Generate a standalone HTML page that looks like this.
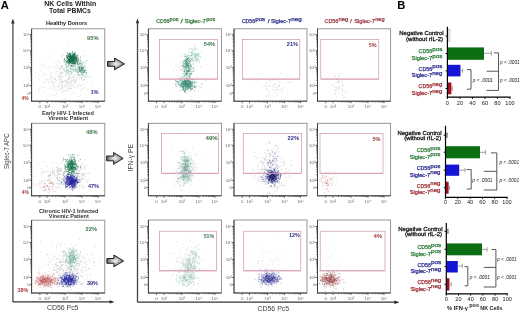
<!DOCTYPE html>
<html><head><meta charset="utf-8"><style>
html,body{margin:0;padding:0;background:#fff;width:520px;height:312px;overflow:hidden}
svg{display:block;will-change:transform;font-family:"Liberation Sans", sans-serif}
</style></head><body>
<svg width="520" height="312" viewBox="0 0 520 312">
<defs><radialGradient id="ag" cx="0.5" cy="0.5" r="0.55">
<stop offset="0" stop-color="#f8f8f8"/><stop offset="0.5" stop-color="#aaaaaa"/><stop offset="1" stop-color="#484848"/></radialGradient><filter id="bl" x="-5%" y="-5%" width="110%" height="110%"><feGaussianBlur stdDeviation="0.35"/></filter></defs>
<rect width="520" height="312" fill="#fff"/>
<text x="0.80" y="9.30" font-size="11.2" fill="#000" font-weight="bold" >A</text>
<text x="44.20" y="6.30" font-size="7" fill="#222" font-weight="bold" textLength="52.00" lengthAdjust="spacingAndGlyphs" >NK Cells Within</text>
<text x="49.10" y="12.90" font-size="7" fill="#222" font-weight="bold" textLength="41.80" lengthAdjust="spacingAndGlyphs" >Total PBMCs</text>
<text x="46.00" y="25.10" font-size="5.6" fill="#222" font-weight="bold" textLength="41.20" lengthAdjust="spacingAndGlyphs" >Healthy Donors</text>
<text x="42.00" y="114.60" font-size="5.6" fill="#333" font-weight="bold" textLength="51.80" lengthAdjust="spacingAndGlyphs" >Early HIV-1 Infected</text>
<text x="48.20" y="120.30" font-size="5.6" fill="#333" font-weight="bold" textLength="40.00" lengthAdjust="spacingAndGlyphs" >Viremic Patient</text>
<text x="38.90" y="212.70" font-size="5.6" fill="#333" font-weight="bold" textLength="59.60" lengthAdjust="spacingAndGlyphs" >Chronic HIV-1 Infected</text>
<text x="48.80" y="218.30" font-size="5.6" fill="#333" font-weight="bold" textLength="40.00" lengthAdjust="spacingAndGlyphs" >Viremic Patient</text>
<line x1="12.90" y1="21.50" x2="12.90" y2="301.90" stroke="#555" stroke-width="1.35" />
<line x1="12.90" y1="301.90" x2="110.50" y2="301.90" stroke="#333" stroke-width="1.3" />
<path d="M11.1 23.4L12.9 18.6L14.7 23.4Z" fill="#333"/>
<path d="M109.6 300.2L114.6 301.9L109.6 303.6Z" fill="#222"/>
<text transform="translate(8.6,169) rotate(-90)" x="0" y="0" font-size="6.3" fill="#444" textLength="35.5" lengthAdjust="spacingAndGlyphs">Siglec-7 APC</text>
<text x="46.90" y="310.30" font-size="7.1" fill="#444" textLength="31.60" lengthAdjust="spacingAndGlyphs" >CD56 Pc5</text>
<text x="39.80" y="108.20" font-size="4.4" fill="#666" text-anchor="middle" >0</text>
<text x="47.10" y="108.20" font-size="4.4" fill="#666" text-anchor="middle" >10²</text>
<text x="65.10" y="108.20" font-size="4.4" fill="#666" text-anchor="middle" >10³</text>
<text x="82.10" y="108.20" font-size="4.4" fill="#666" text-anchor="middle" >10⁴</text>
<text x="98.10" y="108.20" font-size="4.4" fill="#666" text-anchor="middle" >10⁵</text>
<text x="29.60" y="94.50" font-size="4.4" fill="#666" text-anchor="end" >0</text>
<text x="29.60" y="87.20" font-size="4.4" fill="#666" text-anchor="end" >10²</text>
<text x="29.60" y="69.20" font-size="4.4" fill="#666" text-anchor="end" >10³</text>
<text x="29.60" y="52.20" font-size="4.4" fill="#666" text-anchor="end" >10⁴</text>
<text x="29.60" y="36.20" font-size="4.4" fill="#666" text-anchor="end" >10⁵</text>
<path d="M39.80 101.20v2.0M31.60 93.00h-2.0M47.10 101.20v2.0M31.60 85.70h-2.0M52.52 101.20v1.2M31.60 80.28h-1.2M55.69 101.20v1.2M31.60 77.11h-1.2M57.94 101.20v1.2M31.60 74.86h-1.2M59.68 101.20v1.2M31.60 73.12h-1.2M61.11 101.20v1.2M31.60 71.69h-1.2M62.31 101.20v1.2M31.60 70.49h-1.2M63.36 101.20v1.2M31.60 69.44h-1.2M64.28 101.20v1.2M31.60 68.52h-1.2M65.10 101.20v2.0M31.60 67.70h-2.0M70.22 101.20v1.2M31.60 62.58h-1.2M73.21 101.20v1.2M31.60 59.59h-1.2M75.34 101.20v1.2M31.60 57.46h-1.2M76.98 101.20v1.2M31.60 55.82h-1.2M78.33 101.20v1.2M31.60 54.47h-1.2M79.47 101.20v1.2M31.60 53.33h-1.2M80.45 101.20v1.2M31.60 52.35h-1.2M81.32 101.20v1.2M31.60 51.48h-1.2M82.10 101.20v2.0M31.60 50.70h-2.0M86.92 101.20v1.2M31.60 45.88h-1.2M89.73 101.20v1.2M31.60 43.07h-1.2M91.73 101.20v1.2M31.60 41.07h-1.2M93.28 101.20v1.2M31.60 39.52h-1.2M94.55 101.20v1.2M31.60 38.25h-1.2M95.62 101.20v1.2M31.60 37.18h-1.2M96.55 101.20v1.2M31.60 36.25h-1.2M97.37 101.20v1.2M31.60 35.43h-1.2M98.10 101.20v2.0M31.60 34.70h-2.0" stroke="#333" stroke-width="0.75" fill="none"/>
<rect x="31.60" y="28.80" width="73.20" height="72.40" fill="none" stroke="#8a8a8a" stroke-width="0.9" />
<line x1="31.60" y1="28.80" x2="31.60" y2="101.50" stroke="#3a3a3a" stroke-width="0.95" />
<line x1="31.30" y1="101.20" x2="104.80" y2="101.20" stroke="#3a3a3a" stroke-width="0.95" />
<text x="39.80" y="202.80" font-size="4.4" fill="#666" text-anchor="middle" >0</text>
<text x="47.10" y="202.80" font-size="4.4" fill="#666" text-anchor="middle" >10²</text>
<text x="65.10" y="202.80" font-size="4.4" fill="#666" text-anchor="middle" >10³</text>
<text x="82.10" y="202.80" font-size="4.4" fill="#666" text-anchor="middle" >10⁴</text>
<text x="98.10" y="202.80" font-size="4.4" fill="#666" text-anchor="middle" >10⁵</text>
<text x="29.60" y="189.10" font-size="4.4" fill="#666" text-anchor="end" >0</text>
<text x="29.60" y="181.80" font-size="4.4" fill="#666" text-anchor="end" >10²</text>
<text x="29.60" y="163.80" font-size="4.4" fill="#666" text-anchor="end" >10³</text>
<text x="29.60" y="146.80" font-size="4.4" fill="#666" text-anchor="end" >10⁴</text>
<text x="29.60" y="130.80" font-size="4.4" fill="#666" text-anchor="end" >10⁵</text>
<path d="M39.80 195.80v2.0M31.60 187.60h-2.0M47.10 195.80v2.0M31.60 180.30h-2.0M52.52 195.80v1.2M31.60 174.88h-1.2M55.69 195.80v1.2M31.60 171.71h-1.2M57.94 195.80v1.2M31.60 169.46h-1.2M59.68 195.80v1.2M31.60 167.72h-1.2M61.11 195.80v1.2M31.60 166.29h-1.2M62.31 195.80v1.2M31.60 165.09h-1.2M63.36 195.80v1.2M31.60 164.04h-1.2M64.28 195.80v1.2M31.60 163.12h-1.2M65.10 195.80v2.0M31.60 162.30h-2.0M70.22 195.80v1.2M31.60 157.18h-1.2M73.21 195.80v1.2M31.60 154.19h-1.2M75.34 195.80v1.2M31.60 152.06h-1.2M76.98 195.80v1.2M31.60 150.42h-1.2M78.33 195.80v1.2M31.60 149.07h-1.2M79.47 195.80v1.2M31.60 147.93h-1.2M80.45 195.80v1.2M31.60 146.95h-1.2M81.32 195.80v1.2M31.60 146.08h-1.2M82.10 195.80v2.0M31.60 145.30h-2.0M86.92 195.80v1.2M31.60 140.48h-1.2M89.73 195.80v1.2M31.60 137.67h-1.2M91.73 195.80v1.2M31.60 135.67h-1.2M93.28 195.80v1.2M31.60 134.12h-1.2M94.55 195.80v1.2M31.60 132.85h-1.2M95.62 195.80v1.2M31.60 131.78h-1.2M96.55 195.80v1.2M31.60 130.85h-1.2M97.37 195.80v1.2M31.60 130.03h-1.2M98.10 195.80v2.0M31.60 129.30h-2.0" stroke="#333" stroke-width="0.75" fill="none"/>
<rect x="31.60" y="123.30" width="73.20" height="72.50" fill="none" stroke="#8a8a8a" stroke-width="0.9" />
<line x1="31.60" y1="123.30" x2="31.60" y2="196.10" stroke="#3a3a3a" stroke-width="0.95" />
<line x1="31.30" y1="195.80" x2="104.80" y2="195.80" stroke="#3a3a3a" stroke-width="0.95" />
<text x="39.80" y="300.00" font-size="4.4" fill="#666" text-anchor="middle" >0</text>
<text x="47.10" y="300.00" font-size="4.4" fill="#666" text-anchor="middle" >10²</text>
<text x="65.10" y="300.00" font-size="4.4" fill="#666" text-anchor="middle" >10³</text>
<text x="82.10" y="300.00" font-size="4.4" fill="#666" text-anchor="middle" >10⁴</text>
<text x="98.10" y="300.00" font-size="4.4" fill="#666" text-anchor="middle" >10⁵</text>
<text x="29.60" y="286.30" font-size="4.4" fill="#666" text-anchor="end" >0</text>
<text x="29.60" y="279.00" font-size="4.4" fill="#666" text-anchor="end" >10²</text>
<text x="29.60" y="261.00" font-size="4.4" fill="#666" text-anchor="end" >10³</text>
<text x="29.60" y="244.00" font-size="4.4" fill="#666" text-anchor="end" >10⁴</text>
<text x="29.60" y="228.00" font-size="4.4" fill="#666" text-anchor="end" >10⁵</text>
<path d="M39.80 293.00v2.0M31.60 284.80h-2.0M47.10 293.00v2.0M31.60 277.50h-2.0M52.52 293.00v1.2M31.60 272.08h-1.2M55.69 293.00v1.2M31.60 268.91h-1.2M57.94 293.00v1.2M31.60 266.66h-1.2M59.68 293.00v1.2M31.60 264.92h-1.2M61.11 293.00v1.2M31.60 263.49h-1.2M62.31 293.00v1.2M31.60 262.29h-1.2M63.36 293.00v1.2M31.60 261.24h-1.2M64.28 293.00v1.2M31.60 260.32h-1.2M65.10 293.00v2.0M31.60 259.50h-2.0M70.22 293.00v1.2M31.60 254.38h-1.2M73.21 293.00v1.2M31.60 251.39h-1.2M75.34 293.00v1.2M31.60 249.26h-1.2M76.98 293.00v1.2M31.60 247.62h-1.2M78.33 293.00v1.2M31.60 246.27h-1.2M79.47 293.00v1.2M31.60 245.13h-1.2M80.45 293.00v1.2M31.60 244.15h-1.2M81.32 293.00v1.2M31.60 243.28h-1.2M82.10 293.00v2.0M31.60 242.50h-2.0M86.92 293.00v1.2M31.60 237.68h-1.2M89.73 293.00v1.2M31.60 234.87h-1.2M91.73 293.00v1.2M31.60 232.87h-1.2M93.28 293.00v1.2M31.60 231.32h-1.2M94.55 293.00v1.2M31.60 230.05h-1.2M95.62 293.00v1.2M31.60 228.98h-1.2M96.55 293.00v1.2M31.60 228.05h-1.2M97.37 293.00v1.2M31.60 227.23h-1.2M98.10 293.00v2.0M31.60 226.50h-2.0" stroke="#333" stroke-width="0.75" fill="none"/>
<rect x="31.60" y="220.20" width="73.20" height="72.80" fill="none" stroke="#8a8a8a" stroke-width="0.9" />
<line x1="31.60" y1="220.20" x2="31.60" y2="293.30" stroke="#3a3a3a" stroke-width="0.95" />
<line x1="31.30" y1="293.00" x2="104.80" y2="293.00" stroke="#3a3a3a" stroke-width="0.95" />
<g filter="url(#bl)">
<path d="M58.9 84.6h0.9M75.3 83.8h0.9M42.0 87.7h0.9M51.3 75.8h0.9M65.7 83.5h0.9M54.6 73.3h0.9M56.6 71.4h0.9M67.1 66.6h0.9M60.7 72.6h0.9M70.0 88.5h0.9M69.4 74.5h0.9M77.5 61.7h0.9M39.2 57.3h0.9M75.2 81.4h0.9M68.2 84.9h0.9M38.3 74.3h0.9M46.3 94.5h0.9M63.4 90.3h0.9M51.4 88.5h0.9M60.2 77.3h0.9M52.6 85.7h0.9M63.8 85.2h0.9M71.2 85.1h0.9M61.8 88.3h0.9M48.5 82.2h0.9M65.4 75.3h0.9M59.3 79.4h0.9M61.2 88.6h0.9M57.9 85.6h0.9M70.2 66.6h0.9M71.6 81.3h0.9M94.9 69.7h0.9M64.7 85.7h0.9M49.7 66.8h0.9M62.0 69.7h0.9M73.9 78.4h0.9M66.8 83.7h0.9M79.4 78.4h0.9M79.1 77.6h0.9M65.8 74.5h0.9M61.3 89.4h0.9M39.5 70.2h0.9M59.7 79.7h0.9M68.4 89.0h0.9M42.2 74.6h0.9M64.0 69.4h0.9M51.2 73.1h0.9M33.7 83.0h0.9M35.2 72.1h0.9M70.0 82.9h0.9M72.8 91.8h0.9M68.7 88.1h0.9M61.6 78.2h0.9M51.8 72.4h0.9M69.5 84.3h0.9M38.7 89.3h0.9M45.2 74.0h0.9M87.4 89.3h0.9M83.9 87.3h0.9M61.3 84.7h0.9M69.7 81.9h0.9M54.5 80.0h0.9M60.4 68.7h0.9M67.4 71.3h0.9M49.0 56.3h0.9M52.8 84.7h0.9M61.7 85.4h0.9M60.2 86.6h0.9M57.9 87.9h0.9M66.3 90.2h0.9M64.5 80.5h0.9M62.1 66.8h0.9M68.8 79.5h0.9M75.1 72.1h0.9M39.2 79.5h0.9M54.4 67.4h0.9M80.0 90.5h0.9M61.0 80.0h0.9M59.6 77.2h0.9M60.9 74.0h0.9M44.0 81.8h0.9M67.5 85.5h0.9M70.8 82.6h0.9M48.7 79.0h0.9M89.9 77.1h0.9M53.0 82.2h0.9M71.2 88.5h0.9M76.2 70.8h0.9M76.0 80.2h0.9M52.7 95.8h0.9M79.0 73.7h0.9M78.0 79.9h0.9M80.3 90.2h0.9M54.2 79.6h0.9M43.9 65.4h0.9M60.5 70.2h0.9M67.6 77.9h0.9M71.2 79.0h0.9" stroke="#a0a0a0" stroke-opacity="0.38" stroke-width="0.9" fill="none"/>
<path d="M59.3 77.2h0.9M74.4 82.2h0.9M68.1 84.5h0.9M65.7 79.6h0.9M54.1 95.5h0.9M57.9 79.0h0.9M55.8 91.0h0.9M62.6 91.8h0.9M68.0 79.4h0.9M79.3 83.3h0.9M56.6 68.6h0.9M44.5 82.2h0.9M66.3 73.4h0.9M64.9 83.9h0.9M43.2 91.5h0.9M72.1 63.7h0.9M68.6 78.6h0.9M54.1 76.3h0.9M79.6 76.0h0.9M78.9 70.8h0.9M75.5 87.7h0.9M59.9 82.5h0.9M86.1 82.9h0.9M58.0 83.5h0.9M66.8 82.1h0.9M91.2 83.2h0.9M72.3 93.4h0.9M75.1 55.9h0.9M64.1 90.8h0.9M60.9 93.8h0.9M73.0 77.6h0.9M43.7 66.4h0.9M77.2 86.7h0.9M71.2 94.3h0.9M38.3 92.7h0.9M80.0 70.8h0.9M53.1 89.2h0.9M34.4 76.5h0.9M61.9 87.5h0.9M79.9 94.5h0.9M38.4 89.6h0.9M54.9 82.1h0.9M59.6 68.7h0.9M74.1 87.1h0.9M43.2 74.2h0.9M43.6 78.9h0.9M54.3 62.5h0.9M65.5 75.9h0.9M78.0 85.9h0.9M58.4 75.8h0.9M50.9 86.2h0.9M51.1 79.2h0.9M49.8 76.8h0.9M94.0 90.3h0.9M82.2 83.8h0.9M65.9 73.7h0.9M65.5 81.7h0.9M47.7 67.9h0.9M51.5 82.3h0.9M53.3 78.9h0.9M58.1 87.1h0.9M60.7 81.4h0.9M67.1 89.5h0.9M39.2 80.5h0.9M49.5 94.2h0.9M68.0 81.6h0.9M81.9 88.7h0.9M58.4 89.6h0.9M76.9 78.1h0.9M73.8 80.1h0.9M71.4 80.2h0.9M59.1 86.2h0.9M56.8 61.9h0.9M59.2 67.2h0.9M59.8 63.6h0.9M69.6 64.1h0.9M62.4 82.2h0.9M46.3 75.5h0.9M67.9 65.7h0.9M61.2 73.2h0.9M59.9 55.5h0.9M63.8 67.6h0.9M61.6 72.3h0.9M53.3 67.8h0.9M56.1 80.9h0.9M75.2 81.1h0.9M68.1 78.6h0.9M65.0 99.1h0.9M52.3 82.3h0.9M82.0 80.2h0.9M70.1 75.7h0.9M53.9 87.3h0.9M41.0 96.1h0.9M76.1 75.9h0.9M62.3 67.1h0.9M51.2 81.4h0.9M56.3 73.7h0.9" stroke="#a0a0a0" stroke-opacity="0.38" stroke-width="0.9" fill="none"/>
<path d="M50.8 78.1h0.9M66.7 81.7h0.9M41.7 64.3h0.9M68.3 74.2h0.9M68.7 90.8h0.9M69.6 82.2h0.9M52.3 82.2h0.9M37.8 77.1h0.9M44.4 87.5h0.9M63.4 68.3h0.9M50.4 75.2h0.9M79.3 85.2h0.9M48.6 88.8h0.9M81.1 85.6h0.9M73.5 84.8h0.9M59.8 89.2h0.9M65.9 85.8h0.9M74.5 80.2h0.9M45.4 78.8h0.9M77.1 68.6h0.9M66.1 81.3h0.9M68.9 80.0h0.9M56.9 76.6h0.9M84.0 56.9h0.9M56.8 85.9h0.9M55.3 79.1h0.9M74.1 69.5h0.9M41.6 76.8h0.9M75.1 67.0h0.9M60.2 81.7h0.9M74.6 77.4h0.9M63.6 86.3h0.9M69.4 71.3h0.9M79.7 71.6h0.9M51.3 94.0h0.9M60.8 74.6h0.9M75.6 93.4h0.9M63.4 81.1h0.9M39.8 87.4h0.9M62.9 91.9h0.9M53.9 87.9h0.9M47.2 79.9h0.9M83.5 80.4h0.9M55.3 89.7h0.9M62.1 87.2h0.9M73.1 74.9h0.9M47.8 83.3h0.9M70.7 77.5h0.9M71.4 86.7h0.9M67.4 61.2h0.9M85.3 64.2h0.9M84.6 78.9h0.9M65.5 87.4h0.9M72.7 80.9h0.9M69.6 56.7h0.9M61.2 84.7h0.9M77.9 96.3h0.9M57.2 71.2h0.9M82.4 88.9h0.9M36.1 73.3h0.9M67.5 83.4h0.9M62.6 72.6h0.9M62.0 81.6h0.9M67.2 78.3h0.9M50.8 86.7h0.9M57.4 67.7h0.9M79.8 86.4h0.9M74.3 70.3h0.9M69.2 88.2h0.9M48.0 81.7h0.9M72.2 84.9h0.9M49.3 74.3h0.9M53.8 85.1h0.9M83.9 84.6h0.9M71.4 88.4h0.9M40.1 70.4h0.9M69.6 86.3h0.9M49.3 70.3h0.9M47.1 79.8h0.9M70.4 83.2h0.9M50.2 80.3h0.9M59.0 77.2h0.9M60.3 79.4h0.9M57.5 73.3h0.9M68.3 76.3h0.9M75.4 58.6h0.9M65.9 91.5h0.9M68.1 70.3h0.9M59.3 80.2h0.9M69.0 86.4h0.9M65.2 76.1h0.9M53.7 86.5h0.9M61.4 82.8h0.9M62.0 87.1h0.9M78.4 69.1h0.9M61.3 77.2h0.9M61.1 82.8h0.9M56.2 94.1h0.9M50.8 76.8h0.9" stroke="#a0a0a0" stroke-opacity="0.38" stroke-width="0.9" fill="none"/>
<path d="M71.8 70.1h0.9M86.8 55.8h0.9M68.6 69.2h0.9M70.0 60.8h0.9M74.5 68.8h0.9M72.7 63.8h0.9M81.2 63.7h0.9M75.4 62.9h0.9M75.4 56.5h0.9M61.0 65.7h0.9M62.7 69.0h0.9M66.9 63.0h0.9M71.7 68.5h0.9M69.3 66.5h0.9M75.1 62.5h0.9M69.6 68.2h0.9M63.2 55.1h0.9M68.4 63.4h0.9M75.1 66.0h0.9M65.9 81.2h0.9M62.6 54.4h0.9M71.2 68.5h0.9M67.7 46.3h0.9M70.0 65.5h0.9M70.2 67.4h0.9M74.0 66.1h0.9M76.5 69.1h0.9M71.2 66.1h0.9M72.1 67.5h0.9M67.5 71.1h0.9M68.0 71.4h0.9M71.2 66.5h0.9M66.5 70.0h0.9M73.2 57.7h0.9M67.6 72.2h0.9M70.0 69.2h0.9M83.3 55.1h0.9M68.4 60.7h0.9M69.9 55.4h0.9M64.7 64.6h0.9M77.1 77.2h0.9M65.7 66.8h0.9M59.0 68.8h0.9M72.8 69.6h0.9M74.4 62.1h0.9M63.1 62.3h0.9M69.7 75.1h0.9M68.3 63.5h0.9M72.6 68.1h0.9M74.8 74.9h0.9M67.0 74.2h0.9M67.4 70.0h0.9M60.1 72.1h0.9M77.6 67.7h0.9M65.1 72.2h0.9M75.4 71.4h0.9M85.3 61.3h0.9" stroke="#5aa88c" stroke-opacity="0.42" stroke-width="0.9" fill="none"/>
<path d="M73.4 79.6h0.9M66.9 68.0h0.9M70.3 71.6h0.9M63.7 70.8h0.9M73.0 66.4h0.9M69.4 71.5h0.9M70.9 66.1h0.9M69.9 66.9h0.9M74.5 66.2h0.9M79.0 63.6h0.9M80.2 69.6h0.9M73.2 70.3h0.9M62.2 65.8h0.9M67.9 73.3h0.9M70.4 71.5h0.9M61.0 67.1h0.9M70.2 68.6h0.9M72.9 57.6h0.9M71.9 63.1h0.9M66.1 67.1h0.9M73.6 71.8h0.9M75.6 69.2h0.9M74.9 64.8h0.9M67.0 62.0h0.9M69.0 72.5h0.9M63.1 75.7h0.9M60.6 76.7h0.9M60.7 72.8h0.9M74.1 64.8h0.9M78.0 64.8h0.9M80.1 67.2h0.9M70.7 73.8h0.9M63.7 70.0h0.9M74.6 57.7h0.9M70.5 64.6h0.9M77.4 68.6h0.9M69.8 69.5h0.9M70.6 73.2h0.9M68.4 64.4h0.9M69.7 63.0h0.9M65.3 64.5h0.9M73.1 58.8h0.9M77.2 55.8h0.9M77.8 65.7h0.9M69.3 77.4h0.9M71.2 72.6h0.9M67.7 63.7h0.9M68.5 70.7h0.9M64.0 71.6h0.9M65.9 69.6h0.9M66.1 71.9h0.9M69.4 63.0h0.9M59.7 73.9h0.9M61.7 56.8h0.9M73.0 70.9h0.9M75.3 52.3h0.9M68.0 67.2h0.9" stroke="#5aa88c" stroke-opacity="0.42" stroke-width="0.9" fill="none"/>
<path d="M65.8 67.1h0.9M70.9 69.4h0.9M58.6 61.7h0.9M66.1 70.8h0.9M61.5 66.8h0.9M64.7 70.8h0.9M79.2 68.9h0.9M59.3 75.6h0.9M72.7 69.2h0.9M63.9 58.8h0.9M71.5 80.4h0.9M63.9 60.0h0.9M66.7 69.8h0.9M78.3 64.8h0.9M79.1 64.7h0.9M65.9 69.2h0.9M66.7 72.3h0.9M65.9 66.9h0.9M71.8 77.0h0.9M71.0 73.1h0.9M73.7 82.8h0.9M80.0 59.6h0.9M75.5 79.9h0.9M66.2 70.8h0.9M73.0 66.1h0.9M72.8 61.3h0.9M72.0 72.3h0.9M70.2 65.3h0.9M69.8 54.2h0.9M69.3 76.5h0.9M77.4 62.7h0.9M84.3 63.0h0.9M73.4 65.3h0.9M65.8 63.7h0.9M73.3 76.5h0.9M62.3 81.9h0.9M75.8 71.0h0.9M63.5 60.8h0.9M72.7 62.8h0.9M70.1 71.5h0.9M55.1 78.4h0.9M72.8 66.8h0.9M74.8 68.3h0.9M75.2 64.5h0.9M72.7 66.1h0.9M72.6 70.1h0.9M75.3 67.4h0.9M72.1 59.7h0.9M68.3 65.0h0.9M64.7 80.9h0.9M83.3 51.8h0.9M82.9 67.5h0.9M66.5 67.9h0.9M77.1 71.4h0.9M56.4 65.2h0.9M71.0 70.0h0.9" stroke="#5aa88c" stroke-opacity="0.42" stroke-width="0.9" fill="none"/>
<path d="M83.3 68.4h0.9M81.4 67.5h0.9M81.5 73.6h0.9M80.1 62.4h0.9M81.7 68.5h0.9M78.0 72.3h0.9M84.6 70.7h0.9M79.4 70.6h0.9M83.4 72.1h0.9M80.5 63.8h0.9M82.3 69.4h0.9M83.5 79.6h0.9M82.4 61.9h0.9M82.7 68.3h0.9M81.5 72.7h0.9M84.2 77.2h0.9M83.4 72.9h0.9M76.3 66.4h0.9M81.6 67.3h0.9M79.5 70.8h0.9M76.2 62.1h0.9M82.4 70.4h0.9M82.3 71.9h0.9M82.9 72.1h0.9M78.9 67.1h0.9M84.1 72.9h0.9M84.7 70.4h0.9M84.9 67.7h0.9M79.4 71.5h0.9M82.3 69.3h0.9M81.6 67.9h0.9M81.8 64.4h0.9M80.9 66.1h0.9M78.8 75.1h0.9M78.4 68.7h0.9M82.8 69.5h0.9M80.8 61.3h0.9M81.4 77.8h0.9M76.1 71.3h0.9M79.0 68.7h0.9M81.4 70.7h0.9M81.7 70.2h0.9M84.2 71.9h0.9M85.8 72.9h0.9" stroke="#1e7a52" stroke-opacity="0.5" stroke-width="0.9" fill="none"/>
<path d="M84.0 67.2h0.9M76.8 73.9h0.9M78.5 69.6h0.9M84.2 71.2h0.9M78.3 67.3h0.9M77.6 72.4h0.9M79.1 70.2h0.9M79.8 70.3h0.9M80.3 69.9h0.9M80.1 69.9h0.9M86.4 60.6h0.9M74.5 70.5h0.9M83.2 71.3h0.9M81.6 68.2h0.9M78.7 69.9h0.9M78.6 63.1h0.9M79.4 67.4h0.9M87.5 76.9h0.9M84.4 69.7h0.9M81.0 68.9h0.9M77.7 67.3h0.9M78.9 67.4h0.9M80.7 69.4h0.9M81.6 74.7h0.9M85.0 76.3h0.9M84.1 65.5h0.9M78.8 68.7h0.9M81.1 77.8h0.9M85.2 72.2h0.9M82.1 74.7h0.9M80.2 72.8h0.9M86.0 70.3h0.9M81.2 71.7h0.9M79.3 63.5h0.9M81.8 65.7h0.9M81.3 69.6h0.9M80.9 66.8h0.9M78.3 66.0h0.9M79.3 63.3h0.9M81.9 74.9h0.9M85.7 75.1h0.9M79.7 65.2h0.9M77.9 75.0h0.9" stroke="#1e7a52" stroke-opacity="0.5" stroke-width="0.9" fill="none"/>
<path d="M81.7 68.1h0.9M81.8 68.0h0.9M82.4 71.9h0.9M81.0 69.0h0.9M79.4 67.8h0.9M78.4 71.3h0.9M81.4 63.8h0.9M82.9 72.8h0.9M80.3 68.9h0.9M78.5 69.9h0.9M80.5 63.4h0.9M82.3 68.9h0.9M81.1 67.9h0.9M75.2 69.9h0.9M82.6 70.5h0.9M83.2 75.5h0.9M83.3 66.7h0.9M79.2 67.4h0.9M78.2 74.7h0.9M81.8 67.5h0.9M80.9 70.2h0.9M75.5 69.4h0.9M83.4 70.1h0.9M79.5 68.7h0.9M81.1 72.0h0.9M79.3 71.6h0.9M79.3 66.9h0.9M84.1 71.2h0.9M84.3 70.4h0.9M77.3 69.8h0.9M86.2 72.3h0.9M80.9 66.0h0.9M81.1 71.0h0.9M80.5 67.3h0.9M80.6 75.1h0.9M80.9 72.6h0.9M82.7 67.8h0.9M77.3 61.4h0.9M77.1 72.2h0.9M86.0 73.7h0.9M80.2 71.6h0.9M79.6 64.4h0.9M83.3 63.1h0.9" stroke="#1e7a52" stroke-opacity="0.5" stroke-width="0.9" fill="none"/>
<path d="M77.3 55.7h0.9M74.4 55.0h0.9M72.5 59.7h0.9M73.6 59.3h0.9M74.7 58.3h0.9M67.1 60.8h0.9M72.3 58.1h0.9M72.1 51.6h0.9M72.8 61.9h0.9M71.1 60.8h0.9M75.8 61.3h0.9M69.2 60.6h0.9M72.1 61.0h0.9M71.8 62.0h0.9M70.1 61.0h0.9M73.0 61.5h0.9M73.0 57.7h0.9M72.4 60.3h0.9M70.6 60.5h0.9M73.7 60.6h0.9M72.8 62.6h0.9M67.5 61.8h0.9M73.9 61.9h0.9M67.3 57.0h0.9M72.2 54.9h0.9M70.0 62.5h0.9M70.0 57.5h0.9M68.6 53.4h0.9M63.9 59.5h0.9M74.7 57.8h0.9M67.5 58.7h0.9M72.6 63.0h0.9M70.9 59.7h0.9M67.7 61.0h0.9M74.7 57.8h0.9M74.8 62.4h0.9M72.6 65.9h0.9M69.2 59.4h0.9M72.8 57.3h0.9M76.0 59.1h0.9M67.9 60.7h0.9M76.4 60.8h0.9M71.2 58.7h0.9M72.7 59.9h0.9M75.6 56.3h0.9M68.6 54.0h0.9M67.0 58.1h0.9M71.7 60.5h0.9M68.2 59.2h0.9M68.0 59.7h0.9M72.6 58.7h0.9M68.8 53.3h0.9M72.1 58.6h0.9M69.4 61.3h0.9M68.4 60.6h0.9M69.3 58.9h0.9M70.3 61.1h0.9M75.8 60.1h0.9M73.3 59.1h0.9M74.7 57.0h0.9M70.7 57.3h0.9M71.8 59.7h0.9M73.7 54.7h0.9M70.3 61.6h0.9M72.9 59.3h0.9M74.3 59.2h0.9M70.4 59.7h0.9M75.7 59.1h0.9M71.9 59.4h0.9M76.1 60.4h0.9M68.5 55.9h0.9M71.4 58.6h0.9M69.8 63.0h0.9M69.0 61.6h0.9M68.9 61.9h0.9M76.1 57.4h0.9M70.0 54.2h0.9M69.6 57.6h0.9M66.7 55.6h0.9M68.2 60.7h0.9M73.6 54.0h0.9M69.0 53.5h0.9M72.9 63.3h0.9M69.6 59.4h0.9M75.8 61.6h0.9M74.1 56.8h0.9M73.3 62.8h0.9M72.0 59.7h0.9M71.9 57.5h0.9M79.8 60.7h0.9M72.0 56.2h0.9M71.5 59.8h0.9M66.2 57.1h0.9M69.2 57.4h0.9M67.1 53.8h0.9M80.0 57.2h0.9M76.5 55.6h0.9M66.6 52.7h0.9M70.5 57.0h0.9M71.4 60.4h0.9M71.3 58.6h0.9M72.7 65.2h0.9M76.8 62.6h0.9M72.9 56.2h0.9M70.7 55.7h0.9M72.7 60.8h0.9M69.0 64.3h0.9M70.6 57.4h0.9M65.8 65.2h0.9M72.3 58.4h0.9M72.4 56.7h0.9M72.7 61.7h0.9M73.5 63.2h0.9M69.0 57.0h0.9M72.9 55.7h0.9M71.3 58.1h0.9M71.0 59.0h0.9M73.6 63.7h0.9M74.9 59.1h0.9M73.8 54.1h0.9M76.8 61.1h0.9M70.9 58.9h0.9M71.5 64.0h0.9M75.3 59.4h0.9M74.5 55.9h0.9M71.2 60.4h0.9M73.7 61.8h0.9M69.3 60.8h0.9M71.9 56.6h0.9M73.6 53.4h0.9M77.8 57.4h0.9M70.5 58.8h0.9M76.3 58.1h0.9M72.1 58.5h0.9" stroke="#1a704a" stroke-opacity="0.75" stroke-width="0.9" fill="none"/>
<path d="M73.0 60.1h0.9M68.0 55.2h0.9M71.6 57.2h0.9M70.6 63.2h0.9M73.8 56.0h0.9M69.0 62.5h0.9M72.2 57.5h0.9M74.8 59.1h0.9M68.5 63.2h0.9M70.5 56.0h0.9M69.9 54.5h0.9M72.4 58.3h0.9M74.2 57.1h0.9M66.9 58.1h0.9M74.5 63.3h0.9M72.0 55.5h0.9M72.4 61.1h0.9M71.5 61.4h0.9M76.0 58.3h0.9M76.5 58.5h0.9M73.0 60.1h0.9M70.4 56.0h0.9M67.7 61.5h0.9M69.7 59.9h0.9M74.0 55.7h0.9M73.9 60.6h0.9M68.8 60.4h0.9M73.2 62.6h0.9M74.9 59.8h0.9M74.4 61.1h0.9M73.1 56.1h0.9M67.8 61.9h0.9M71.1 61.7h0.9M70.2 60.7h0.9M72.5 63.8h0.9M73.0 55.4h0.9M69.1 62.1h0.9M70.1 58.6h0.9M70.0 60.4h0.9M71.1 61.0h0.9M70.1 56.8h0.9M75.6 56.4h0.9M78.4 59.5h0.9M72.0 63.6h0.9M74.4 63.9h0.9M72.8 54.0h0.9M66.1 61.1h0.9M70.5 59.0h0.9M66.1 57.7h0.9M68.8 54.5h0.9M68.9 56.1h0.9M67.7 65.7h0.9M70.7 55.3h0.9M66.8 58.3h0.9M72.6 57.0h0.9M63.9 58.7h0.9M70.4 62.4h0.9M74.1 56.8h0.9M74.9 57.2h0.9M68.6 56.5h0.9M70.0 56.4h0.9M72.5 53.1h0.9M69.5 58.2h0.9M67.4 54.1h0.9M72.9 55.7h0.9M66.0 55.5h0.9M70.3 57.5h0.9M76.8 63.9h0.9M71.1 57.0h0.9M70.2 53.8h0.9M65.2 60.5h0.9M75.5 59.4h0.9M74.3 63.6h0.9M67.6 60.5h0.9M69.5 57.0h0.9M69.4 58.1h0.9M69.6 62.2h0.9M66.2 61.5h0.9M72.3 56.9h0.9M73.9 53.8h0.9M69.5 58.1h0.9M70.8 59.9h0.9M73.4 58.2h0.9M71.4 63.5h0.9M71.8 57.1h0.9M67.8 59.5h0.9M69.1 61.6h0.9M74.2 59.0h0.9M69.4 57.6h0.9M73.7 56.7h0.9M76.0 57.5h0.9M72.0 60.6h0.9M64.9 60.7h0.9M76.7 63.7h0.9M70.1 56.6h0.9M71.6 59.7h0.9M72.0 58.3h0.9M73.0 59.5h0.9M67.5 56.5h0.9M69.8 59.2h0.9M71.1 57.3h0.9M75.4 54.8h0.9M73.7 55.8h0.9M70.4 57.9h0.9M75.0 63.3h0.9M72.8 56.9h0.9M77.4 63.9h0.9M69.2 59.3h0.9M77.9 58.9h0.9M71.2 56.8h0.9M71.6 59.1h0.9M73.2 58.0h0.9M71.1 57.3h0.9M71.2 60.8h0.9M71.8 60.0h0.9M72.4 56.7h0.9M74.2 57.4h0.9M70.4 60.2h0.9M68.3 60.1h0.9M69.6 62.8h0.9M74.6 58.1h0.9M73.5 58.6h0.9M72.7 59.2h0.9M68.5 57.5h0.9M72.9 59.4h0.9M70.2 59.8h0.9M71.5 57.4h0.9M73.3 56.2h0.9M71.7 61.4h0.9M73.7 54.2h0.9M71.5 61.8h0.9M68.5 60.3h0.9M75.2 57.5h0.9" stroke="#1a704a" stroke-opacity="0.75" stroke-width="0.9" fill="none"/>
<path d="M72.1 59.5h0.9M69.9 57.4h0.9M70.3 61.6h0.9M69.8 60.8h0.9M74.3 59.5h0.9M69.6 58.6h0.9M73.4 59.0h0.9M66.5 59.3h0.9M71.1 65.5h0.9M74.6 61.4h0.9M69.7 57.2h0.9M72.0 58.6h0.9M67.3 62.9h0.9M71.6 55.1h0.9M69.1 55.2h0.9M73.7 61.1h0.9M69.9 54.0h0.9M69.9 58.8h0.9M77.3 63.1h0.9M71.2 56.1h0.9M70.9 59.5h0.9M69.4 56.8h0.9M74.0 57.4h0.9M70.5 53.5h0.9M69.6 56.7h0.9M72.4 54.8h0.9M69.4 57.1h0.9M72.0 56.4h0.9M74.1 63.0h0.9M67.2 57.9h0.9M65.7 62.5h0.9M77.3 64.4h0.9M74.4 59.2h0.9M72.2 63.4h0.9M70.0 60.2h0.9M68.0 59.7h0.9M73.7 54.5h0.9M72.8 56.8h0.9M69.9 59.8h0.9M70.5 61.9h0.9M76.5 56.7h0.9M74.9 62.9h0.9M70.3 57.3h0.9M70.6 60.3h0.9M67.7 56.0h0.9M72.9 62.9h0.9M69.4 58.3h0.9M70.0 59.3h0.9M76.9 59.2h0.9M69.4 61.0h0.9M75.3 59.7h0.9M68.3 58.8h0.9M68.6 63.6h0.9M72.2 61.8h0.9M72.8 56.6h0.9M68.7 55.1h0.9M68.3 55.5h0.9M73.8 59.7h0.9M68.8 55.0h0.9M70.3 55.6h0.9M71.6 57.8h0.9M70.0 56.9h0.9M70.6 61.7h0.9M74.9 60.2h0.9M74.2 57.6h0.9M74.7 58.6h0.9M71.8 59.4h0.9M76.3 61.9h0.9M71.3 57.3h0.9M71.4 57.9h0.9M71.3 66.0h0.9M72.0 58.0h0.9M70.5 59.1h0.9M74.6 62.8h0.9M67.8 62.1h0.9M78.5 61.7h0.9M76.7 58.3h0.9M68.5 61.9h0.9M73.7 59.0h0.9M76.6 60.3h0.9M74.5 55.1h0.9M66.8 57.4h0.9M68.2 56.5h0.9M72.3 56.1h0.9M66.3 56.2h0.9M72.2 60.6h0.9M68.7 60.9h0.9M74.6 61.4h0.9M70.9 58.9h0.9M69.5 58.1h0.9M74.5 52.7h0.9M72.3 59.4h0.9M72.4 58.5h0.9M71.3 62.5h0.9M69.9 59.5h0.9M71.4 61.5h0.9M72.5 54.9h0.9M71.7 52.6h0.9M73.5 60.5h0.9M71.6 60.5h0.9M77.8 60.4h0.9M73.4 61.3h0.9M69.1 59.7h0.9M71.7 59.9h0.9M71.2 61.8h0.9M73.1 61.7h0.9M77.1 61.0h0.9M71.4 60.8h0.9M73.4 60.3h0.9M72.0 58.9h0.9M73.2 56.1h0.9M70.1 58.4h0.9M72.6 59.6h0.9M68.2 56.3h0.9M71.2 56.3h0.9M74.6 54.5h0.9M73.0 57.5h0.9M68.9 61.6h0.9M74.7 61.9h0.9M68.1 62.1h0.9M68.1 58.7h0.9M72.0 60.1h0.9M70.9 57.3h0.9M71.1 57.8h0.9M68.2 59.1h0.9M66.8 56.1h0.9M74.5 53.4h0.9M66.2 62.9h0.9M64.2 62.0h0.9M74.7 60.1h0.9M69.7 57.1h0.9M73.0 59.2h0.9M73.6 53.8h0.9" stroke="#1a704a" stroke-opacity="0.75" stroke-width="0.9" fill="none"/>
<path d="M57.1 171.1h0.9M56.4 171.8h0.9M57.1 186.9h0.9M61.4 184.9h0.9M59.7 183.9h0.9M71.8 166.7h0.9M48.3 178.5h0.9M65.6 185.4h0.9M68.7 171.5h0.9M57.2 189.2h0.9M74.0 179.0h0.9M82.0 172.7h0.9M45.6 165.6h0.9M63.8 166.9h0.9M63.8 175.5h0.9M51.8 172.4h0.9M50.3 178.6h0.9M55.1 180.7h0.9M67.1 182.2h0.9M72.3 172.6h0.9M39.4 183.8h0.9M81.1 169.4h0.9M58.3 168.7h0.9M56.5 167.3h0.9M40.9 168.6h0.9M74.0 175.8h0.9M85.2 174.0h0.9M78.7 154.0h0.9M48.8 175.3h0.9M56.6 187.5h0.9M59.1 171.4h0.9M63.3 172.2h0.9M46.5 166.5h0.9M60.6 168.7h0.9M53.3 172.3h0.9M36.6 165.9h0.9M84.4 169.4h0.9M38.7 163.8h0.9M61.3 170.5h0.9M63.3 180.9h0.9M57.5 174.5h0.9M79.0 186.5h0.9M63.3 178.1h0.9M70.9 179.5h0.9M65.4 171.6h0.9M70.7 195.0h0.9M60.5 170.0h0.9M56.5 172.5h0.9M60.4 189.6h0.9M59.1 178.2h0.9M74.9 182.5h0.9M59.8 181.3h0.9M80.4 168.5h0.9M80.8 178.2h0.9M60.2 170.3h0.9M82.9 187.7h0.9M67.2 180.5h0.9M58.1 172.2h0.9M46.3 180.8h0.9M62.2 178.3h0.9M79.3 185.1h0.9M58.9 168.5h0.9M74.9 173.2h0.9M53.9 169.7h0.9M68.6 174.2h0.9M61.9 186.0h0.9M73.5 178.7h0.9M58.2 164.5h0.9M73.3 173.1h0.9M51.9 188.7h0.9M52.1 170.8h0.9M57.8 180.2h0.9M57.4 177.3h0.9M64.6 176.5h0.9M78.3 174.7h0.9M61.5 175.7h0.9M57.8 171.0h0.9M68.4 170.3h0.9M73.3 188.2h0.9M67.8 169.7h0.9M63.2 178.3h0.9M86.9 165.2h0.9M58.7 174.4h0.9M65.9 177.2h0.9M75.7 162.8h0.9M50.5 175.2h0.9M68.9 173.3h0.9M64.7 179.2h0.9M84.5 159.8h0.9M55.7 166.2h0.9M56.9 170.6h0.9M57.3 168.1h0.9M50.2 180.9h0.9M74.7 169.6h0.9M54.0 174.8h0.9M73.9 182.3h0.9M40.8 181.9h0.9M82.2 175.2h0.9M78.0 173.4h0.9M64.0 183.7h0.9M59.7 167.9h0.9M84.1 168.0h0.9M53.5 162.5h0.9M62.4 173.7h0.9M83.7 187.9h0.9" stroke="#909090" stroke-opacity="0.4" stroke-width="0.9" fill="none"/>
<path d="M58.8 170.2h0.9M50.3 174.9h0.9M74.7 183.4h0.9M56.4 175.0h0.9M60.9 181.8h0.9M47.3 171.1h0.9M52.8 170.1h0.9M51.2 183.1h0.9M49.9 172.8h0.9M65.4 178.5h0.9M44.8 180.8h0.9M69.1 182.0h0.9M69.3 167.3h0.9M67.1 163.7h0.9M64.6 165.4h0.9M68.1 160.1h0.9M61.3 169.4h0.9M68.4 160.8h0.9M72.6 184.3h0.9M75.7 163.3h0.9M66.7 176.2h0.9M52.9 184.4h0.9M72.4 180.5h0.9M76.5 174.0h0.9M41.3 173.2h0.9M57.2 175.7h0.9M72.6 170.6h0.9M65.9 180.7h0.9M60.7 174.2h0.9M73.2 176.2h0.9M47.8 176.1h0.9M52.0 172.3h0.9M68.9 178.9h0.9M64.8 176.5h0.9M67.6 181.5h0.9M51.7 178.4h0.9M47.5 180.1h0.9M52.8 191.7h0.9M33.7 176.5h0.9M54.1 191.2h0.9M58.1 180.0h0.9M51.4 174.3h0.9M57.7 180.8h0.9M57.4 169.7h0.9M66.2 172.4h0.9M51.4 186.2h0.9M54.4 175.8h0.9M75.9 169.7h0.9M67.3 173.1h0.9M49.8 183.8h0.9M73.4 190.0h0.9M53.9 183.2h0.9M76.4 185.0h0.9M80.7 165.3h0.9M57.2 169.6h0.9M69.4 169.9h0.9M61.1 163.4h0.9M59.2 183.4h0.9M71.3 167.2h0.9M62.7 176.3h0.9M73.0 167.3h0.9M69.6 193.2h0.9M62.7 161.0h0.9M79.7 170.8h0.9M80.5 180.1h0.9M63.3 173.6h0.9M79.8 173.8h0.9M56.2 178.8h0.9M63.7 181.9h0.9M55.4 191.8h0.9M43.6 172.0h0.9M65.3 161.0h0.9M72.1 178.4h0.9M56.9 184.0h0.9M83.0 175.3h0.9M73.8 181.9h0.9M78.1 170.4h0.9M63.2 180.4h0.9M69.7 186.5h0.9M72.6 164.5h0.9M52.7 183.4h0.9M47.6 171.4h0.9M48.9 176.3h0.9M60.3 171.6h0.9M55.7 177.9h0.9M65.9 167.8h0.9M56.2 183.3h0.9M59.3 184.3h0.9M57.0 184.0h0.9M79.2 173.4h0.9M58.5 186.0h0.9M49.2 189.9h0.9M78.2 182.0h0.9M51.9 172.8h0.9M81.2 186.3h0.9M47.8 176.7h0.9M58.8 174.3h0.9M44.9 172.0h0.9M81.1 185.0h0.9M64.0 171.7h0.9M79.0 177.0h0.9M75.8 168.8h0.9M72.8 187.5h0.9M71.3 181.4h0.9M58.6 173.8h0.9M58.8 170.5h0.9" stroke="#909090" stroke-opacity="0.4" stroke-width="0.9" fill="none"/>
<path d="M36.7 171.2h0.9M72.4 174.0h0.9M76.9 173.4h0.9M67.5 179.0h0.9M75.8 181.3h0.9M68.7 188.0h0.9M59.7 181.5h0.9M74.2 176.6h0.9M71.9 169.8h0.9M69.6 179.6h0.9M52.2 185.6h0.9M61.6 162.8h0.9M68.4 173.9h0.9M53.8 171.1h0.9M51.2 182.5h0.9M50.0 176.0h0.9M58.5 174.3h0.9M70.8 174.6h0.9M50.1 172.3h0.9M48.6 174.9h0.9M45.7 191.7h0.9M50.5 182.0h0.9M47.4 180.1h0.9M68.0 182.1h0.9M77.5 168.5h0.9M68.5 181.5h0.9M51.8 168.1h0.9M45.1 183.4h0.9M71.7 167.1h0.9M61.3 187.5h0.9M68.1 179.2h0.9M40.9 173.9h0.9M64.4 169.0h0.9M84.1 186.1h0.9M86.8 181.7h0.9M63.0 178.4h0.9M67.1 169.8h0.9M63.5 183.9h0.9M41.8 177.4h0.9M72.8 174.8h0.9M59.4 177.7h0.9M66.5 182.1h0.9M73.5 186.4h0.9M41.6 181.3h0.9M41.3 190.1h0.9M56.9 177.2h0.9M56.9 180.4h0.9M48.0 175.2h0.9M53.6 173.2h0.9M55.4 186.6h0.9M61.7 178.8h0.9M60.5 184.0h0.9M69.5 180.8h0.9M48.0 182.1h0.9M57.8 172.3h0.9M66.3 176.6h0.9M73.0 177.7h0.9M61.1 170.0h0.9M73.5 164.0h0.9M71.6 177.8h0.9M63.0 172.6h0.9M62.0 179.4h0.9M61.4 161.0h0.9M50.1 180.2h0.9M56.6 162.2h0.9M54.2 174.3h0.9M60.6 180.0h0.9M50.0 175.2h0.9M72.7 184.0h0.9M71.6 186.4h0.9M70.5 180.4h0.9M69.1 187.8h0.9M58.3 179.7h0.9M79.5 182.4h0.9M55.9 178.1h0.9M43.5 162.5h0.9M83.4 178.4h0.9M78.5 160.9h0.9M59.4 180.5h0.9M47.6 187.1h0.9M71.0 164.7h0.9M68.6 181.6h0.9M33.3 183.4h0.9M62.8 175.4h0.9M59.3 187.5h0.9M51.7 163.1h0.9M52.8 173.1h0.9M88.8 172.9h0.9M64.6 173.4h0.9M76.1 173.3h0.9M70.6 176.9h0.9M52.0 183.6h0.9M68.7 179.3h0.9M62.9 179.6h0.9M65.3 186.3h0.9M59.1 177.7h0.9M63.3 172.1h0.9M57.3 179.1h0.9M63.7 173.3h0.9M65.3 182.6h0.9M73.7 168.6h0.9M51.9 187.4h0.9M60.7 156.6h0.9M42.4 171.6h0.9" stroke="#909090" stroke-opacity="0.4" stroke-width="0.9" fill="none"/>
<path d="M47.9 189.1h0.9M52.9 189.4h0.9M44.0 187.1h0.9M46.8 185.8h0.9M46.4 185.2h0.9M43.1 186.3h0.9M50.0 187.2h0.9M48.3 188.5h0.9M52.6 186.1h0.9M48.7 186.5h0.9M45.5 189.9h0.9M38.0 184.1h0.9M43.4 187.9h0.9M43.2 190.8h0.9" stroke="#b84848" stroke-opacity="0.45" stroke-width="0.9" fill="none"/>
<path d="M49.5 182.6h0.9M48.5 189.5h0.9M50.4 183.4h0.9M44.4 187.4h0.9M49.8 191.0h0.9M48.8 183.5h0.9M48.2 192.2h0.9M39.6 186.8h0.9M45.5 186.5h0.9M44.1 183.9h0.9M33.7 184.7h0.9M52.0 182.3h0.9M48.9 180.2h0.9" stroke="#b84848" stroke-opacity="0.45" stroke-width="0.9" fill="none"/>
<path d="M46.8 186.4h0.9M44.1 190.4h0.9M42.6 180.9h0.9M35.8 185.9h0.9M43.9 183.3h0.9M50.8 183.0h0.9M44.7 185.5h0.9M42.4 187.8h0.9M45.1 189.5h0.9M47.3 186.0h0.9M41.2 182.8h0.9M53.0 184.3h0.9" stroke="#b84848" stroke-opacity="0.45" stroke-width="0.9" fill="none"/>
<path d="M70.8 160.9h0.9M73.5 167.4h0.9M71.1 169.1h0.9M67.9 167.4h0.9M70.2 169.5h0.9M74.5 163.3h0.9M67.8 171.8h0.9M72.9 164.0h0.9M70.4 163.1h0.9M69.8 163.7h0.9M73.2 157.8h0.9M74.0 161.7h0.9M69.2 162.5h0.9M75.0 167.7h0.9M70.5 166.2h0.9M67.4 161.5h0.9M71.1 164.1h0.9M66.9 163.9h0.9M69.8 158.9h0.9M68.7 167.0h0.9M66.7 167.0h0.9M71.1 164.1h0.9M69.2 165.1h0.9M70.5 156.3h0.9M74.5 165.4h0.9M68.1 174.3h0.9M66.1 171.0h0.9M75.0 164.0h0.9M71.2 168.9h0.9M71.8 171.5h0.9M71.1 158.0h0.9M73.4 171.5h0.9M72.6 174.6h0.9M77.4 155.5h0.9M77.6 166.6h0.9M70.5 164.3h0.9M71.8 165.9h0.9M68.8 165.9h0.9M68.5 174.1h0.9M73.0 171.9h0.9M68.9 170.0h0.9M74.6 161.3h0.9M74.4 167.4h0.9M69.3 160.2h0.9M74.4 161.1h0.9M68.8 168.8h0.9M65.7 159.8h0.9M71.5 168.0h0.9M70.1 162.4h0.9M76.0 166.0h0.9M71.4 172.0h0.9M66.9 165.0h0.9M71.7 171.8h0.9M67.6 165.3h0.9M67.4 165.2h0.9M66.8 167.5h0.9M66.8 171.5h0.9M73.2 168.4h0.9M62.9 174.9h0.9M71.1 163.6h0.9M69.1 168.8h0.9M72.8 167.0h0.9M71.7 164.4h0.9M72.1 160.2h0.9M70.4 162.5h0.9M68.0 169.7h0.9M67.9 170.6h0.9M67.5 165.2h0.9M67.8 167.1h0.9M67.8 167.8h0.9M70.3 166.7h0.9M72.6 168.1h0.9M71.1 160.5h0.9M75.3 168.2h0.9M72.2 164.3h0.9M70.6 169.3h0.9M67.9 165.7h0.9M72.4 163.4h0.9M67.6 167.1h0.9M74.3 163.3h0.9M68.6 164.5h0.9M72.3 160.6h0.9M74.0 167.6h0.9M69.4 164.5h0.9M68.9 160.3h0.9M72.8 164.6h0.9M67.2 169.2h0.9M75.3 168.3h0.9M68.7 164.1h0.9M71.9 163.9h0.9M67.9 170.2h0.9M70.6 161.5h0.9M79.9 159.4h0.9M71.0 161.0h0.9M67.9 162.9h0.9M72.2 163.5h0.9M67.0 174.6h0.9M71.1 173.1h0.9M69.7 165.3h0.9M74.5 167.1h0.9M69.2 169.3h0.9M68.2 173.2h0.9M72.1 164.5h0.9M72.9 170.6h0.9M71.5 168.1h0.9M78.2 167.0h0.9M71.6 173.1h0.9M68.5 165.6h0.9M66.7 161.8h0.9M71.9 165.9h0.9M72.2 161.6h0.9M69.9 167.0h0.9M70.1 168.0h0.9M76.3 165.9h0.9M71.0 159.9h0.9M75.0 169.7h0.9M71.0 163.7h0.9M73.7 159.3h0.9M72.7 163.4h0.9M76.2 164.5h0.9" stroke="#1e7a52" stroke-opacity="0.7" stroke-width="0.9" fill="none"/>
<path d="M69.2 163.0h0.9M67.0 177.5h0.9M70.1 167.9h0.9M68.7 164.5h0.9M70.4 160.6h0.9M72.6 167.3h0.9M65.6 169.8h0.9M71.0 166.9h0.9M69.4 167.7h0.9M70.2 155.0h0.9M70.1 168.0h0.9M72.8 164.6h0.9M69.8 162.5h0.9M69.2 170.3h0.9M74.4 163.5h0.9M70.4 167.7h0.9M72.2 161.8h0.9M68.8 163.7h0.9M71.4 162.4h0.9M63.9 164.5h0.9M71.4 162.0h0.9M72.6 166.4h0.9M73.7 164.5h0.9M71.4 166.9h0.9M69.2 163.0h0.9M74.8 170.4h0.9M74.6 168.0h0.9M71.4 169.2h0.9M71.2 159.8h0.9M74.3 173.1h0.9M70.5 169.8h0.9M68.3 163.3h0.9M67.7 171.8h0.9M70.8 166.9h0.9M73.9 171.7h0.9M67.4 174.1h0.9M71.5 173.6h0.9M69.7 166.9h0.9M73.5 169.4h0.9M73.9 171.6h0.9M73.4 164.1h0.9M70.7 168.7h0.9M67.8 169.0h0.9M67.4 164.5h0.9M68.9 168.2h0.9M69.6 167.3h0.9M70.9 171.9h0.9M73.9 159.7h0.9M68.7 161.7h0.9M73.2 161.9h0.9M70.9 161.8h0.9M69.8 162.6h0.9M70.4 175.4h0.9M71.3 168.3h0.9M71.9 163.1h0.9M74.0 157.9h0.9M71.6 164.0h0.9M72.2 161.1h0.9M69.9 161.6h0.9M69.8 162.3h0.9M70.6 166.6h0.9M70.5 162.6h0.9M67.1 159.6h0.9M70.4 166.9h0.9M67.4 169.4h0.9M72.7 164.7h0.9M70.4 167.4h0.9M75.1 161.8h0.9M72.7 162.2h0.9M65.4 165.4h0.9M69.4 161.1h0.9M75.9 169.7h0.9M75.3 168.2h0.9M67.5 168.8h0.9M69.2 170.5h0.9M70.1 169.0h0.9M73.4 167.2h0.9M71.3 167.3h0.9M68.5 163.9h0.9M73.5 167.2h0.9M70.2 173.6h0.9M64.3 168.8h0.9M70.4 165.0h0.9M74.4 163.4h0.9M70.4 168.8h0.9M72.1 167.1h0.9M70.7 175.3h0.9M76.5 168.1h0.9M69.4 165.1h0.9M73.6 154.5h0.9M71.6 171.3h0.9M70.4 164.1h0.9M74.4 164.0h0.9M72.2 165.2h0.9M72.4 167.2h0.9M71.7 165.5h0.9M70.5 164.9h0.9M73.3 172.8h0.9M66.0 163.6h0.9M74.5 169.6h0.9M70.1 163.8h0.9M73.4 162.5h0.9M67.3 166.1h0.9M68.1 165.8h0.9M71.4 174.7h0.9M65.7 166.6h0.9M72.3 168.8h0.9M72.0 164.9h0.9M70.7 164.5h0.9M67.6 161.5h0.9M71.4 165.7h0.9M71.2 173.0h0.9M71.7 168.9h0.9M67.5 166.6h0.9M72.3 171.7h0.9M70.0 168.1h0.9M74.3 157.1h0.9M68.3 163.5h0.9M74.6 164.7h0.9M70.9 174.2h0.9" stroke="#1e7a52" stroke-opacity="0.7" stroke-width="0.9" fill="none"/>
<path d="M68.1 164.6h0.9M68.1 166.5h0.9M77.1 166.4h0.9M71.5 167.4h0.9M73.5 164.5h0.9M63.2 159.8h0.9M74.1 168.0h0.9M72.2 168.9h0.9M66.2 160.8h0.9M70.0 165.0h0.9M72.4 170.9h0.9M68.7 172.3h0.9M73.9 167.6h0.9M69.1 164.1h0.9M72.0 165.9h0.9M71.9 168.0h0.9M67.1 164.6h0.9M70.9 162.7h0.9M72.2 154.3h0.9M71.3 166.4h0.9M73.2 165.8h0.9M74.3 167.9h0.9M72.1 168.2h0.9M71.4 162.8h0.9M72.0 161.5h0.9M75.0 168.5h0.9M65.3 171.2h0.9M70.8 170.6h0.9M68.1 179.2h0.9M72.6 163.5h0.9M64.7 166.8h0.9M65.5 161.7h0.9M72.2 163.9h0.9M77.2 173.5h0.9M72.5 167.5h0.9M69.7 157.3h0.9M70.7 164.9h0.9M80.1 167.6h0.9M73.1 169.4h0.9M69.5 166.0h0.9M72.7 177.0h0.9M70.9 167.6h0.9M70.7 166.5h0.9M67.9 154.6h0.9M64.0 171.6h0.9M71.3 166.0h0.9M69.4 168.2h0.9M71.8 165.3h0.9M67.8 176.5h0.9M62.9 158.4h0.9M70.3 161.8h0.9M68.4 162.1h0.9M66.3 167.1h0.9M74.3 163.7h0.9M73.6 173.1h0.9M71.6 165.1h0.9M72.3 168.7h0.9M69.8 166.5h0.9M65.7 167.0h0.9M68.8 165.6h0.9M72.2 171.3h0.9M70.0 168.9h0.9M71.9 170.3h0.9M68.3 167.5h0.9M72.0 162.3h0.9M75.7 164.8h0.9M71.1 161.8h0.9M75.0 166.9h0.9M64.8 167.5h0.9M68.6 159.8h0.9M71.6 158.7h0.9M72.0 167.1h0.9M70.2 161.2h0.9M76.5 165.9h0.9M80.0 166.5h0.9M73.4 161.8h0.9M74.6 160.3h0.9M68.2 165.0h0.9M71.6 163.3h0.9M68.0 165.1h0.9M69.8 172.5h0.9M65.2 169.0h0.9M71.8 164.7h0.9M72.1 161.2h0.9M71.9 163.9h0.9M72.6 155.7h0.9M70.3 163.7h0.9M70.4 169.0h0.9M73.3 164.0h0.9M70.4 166.7h0.9M73.8 168.7h0.9M71.7 164.1h0.9M70.3 169.8h0.9M65.0 166.8h0.9M70.2 175.0h0.9M64.6 159.5h0.9M69.4 170.1h0.9M70.7 167.6h0.9M68.2 163.3h0.9M73.7 170.2h0.9M74.5 175.0h0.9M71.8 167.5h0.9M73.5 169.3h0.9M72.0 170.1h0.9M64.7 165.9h0.9M66.9 163.2h0.9M73.9 166.8h0.9M69.1 164.5h0.9M71.1 171.8h0.9M72.1 162.4h0.9M73.9 164.4h0.9M70.3 163.8h0.9M67.0 176.3h0.9M72.2 156.8h0.9M74.0 159.8h0.9M75.4 164.6h0.9M75.1 162.0h0.9M73.4 159.3h0.9M72.4 165.3h0.9M71.2 168.8h0.9" stroke="#1e7a52" stroke-opacity="0.7" stroke-width="0.9" fill="none"/>
<path d="M68.7 182.1h0.9M66.6 184.8h0.9M69.9 182.2h0.9M73.9 176.9h0.9M72.3 178.6h0.9M67.3 186.1h0.9M70.0 178.4h0.9M76.8 182.9h0.9M72.1 187.7h0.9M74.7 180.5h0.9M70.9 181.5h0.9M71.0 184.3h0.9M65.7 186.3h0.9M63.4 184.1h0.9M66.2 180.9h0.9M76.7 183.5h0.9M75.0 178.4h0.9M77.5 179.7h0.9M66.9 184.6h0.9M67.8 180.6h0.9M65.0 186.8h0.9M65.7 178.9h0.9M72.4 180.3h0.9M70.1 184.3h0.9M73.0 180.8h0.9M68.5 183.3h0.9M65.2 183.3h0.9M71.2 178.1h0.9M66.3 186.6h0.9M71.1 180.6h0.9M70.8 183.7h0.9M66.0 184.3h0.9M67.7 178.1h0.9M69.3 184.0h0.9M67.2 180.8h0.9M74.0 182.7h0.9M67.6 183.7h0.9M73.8 185.1h0.9M70.7 175.9h0.9M69.7 177.5h0.9M70.7 183.6h0.9M72.0 178.8h0.9M75.5 181.6h0.9M65.5 179.7h0.9M69.0 179.5h0.9M72.6 187.0h0.9M74.7 182.1h0.9M68.2 180.0h0.9M76.8 181.4h0.9M69.3 181.7h0.9M69.9 183.1h0.9M67.6 181.2h0.9M66.4 179.8h0.9M70.1 176.8h0.9M70.2 177.3h0.9M73.7 181.4h0.9M72.2 178.4h0.9M61.4 183.1h0.9M72.1 182.5h0.9M77.9 182.4h0.9M70.7 178.6h0.9M72.0 185.4h0.9M70.1 181.7h0.9M66.3 177.1h0.9M73.6 179.9h0.9M66.9 182.6h0.9M70.8 180.5h0.9M71.3 185.8h0.9M70.1 180.9h0.9M72.4 176.1h0.9M76.7 180.7h0.9M71.9 185.9h0.9M71.3 182.0h0.9M73.2 186.5h0.9M76.5 177.2h0.9M66.5 181.4h0.9M68.5 180.8h0.9M73.8 176.7h0.9M69.6 182.1h0.9M70.2 175.7h0.9M71.1 179.8h0.9M72.4 182.2h0.9M67.3 183.8h0.9M76.2 178.5h0.9M65.0 184.1h0.9M71.0 184.0h0.9M75.6 181.0h0.9M71.0 179.1h0.9M76.4 177.1h0.9M72.1 177.9h0.9M68.3 184.3h0.9M63.7 179.8h0.9M72.9 182.6h0.9M68.9 172.6h0.9M70.9 176.5h0.9M71.6 183.7h0.9M67.0 178.8h0.9M69.9 182.8h0.9M70.2 186.6h0.9M69.7 178.5h0.9M71.4 180.8h0.9M69.8 179.4h0.9M68.7 178.1h0.9M74.1 181.2h0.9M77.2 182.0h0.9M74.6 185.5h0.9M71.1 186.8h0.9M71.8 183.5h0.9M71.7 180.8h0.9M69.5 182.1h0.9M69.0 181.7h0.9M68.7 184.1h0.9M70.9 177.6h0.9M74.7 180.2h0.9M73.2 182.7h0.9M68.3 182.3h0.9M74.6 181.2h0.9M74.6 182.0h0.9M67.3 178.8h0.9M72.9 179.3h0.9M72.1 180.8h0.9M72.9 186.2h0.9M78.8 182.1h0.9M61.1 182.0h0.9M74.5 181.5h0.9M68.4 185.2h0.9M75.4 181.5h0.9" stroke="#26269c" stroke-opacity="0.75" stroke-width="0.9" fill="none"/>
<path d="M64.0 181.8h0.9M72.3 177.1h0.9M67.5 176.8h0.9M74.7 181.6h0.9M68.2 179.5h0.9M69.1 179.8h0.9M67.9 176.9h0.9M72.0 183.7h0.9M65.8 177.4h0.9M73.1 181.4h0.9M74.5 187.9h0.9M74.3 183.8h0.9M74.7 178.7h0.9M68.0 184.9h0.9M74.1 179.6h0.9M69.3 178.0h0.9M71.0 180.7h0.9M73.6 184.6h0.9M69.4 179.6h0.9M75.6 180.9h0.9M69.8 177.0h0.9M71.8 178.8h0.9M70.9 179.7h0.9M79.0 179.9h0.9M69.5 184.4h0.9M73.5 181.0h0.9M67.4 177.5h0.9M66.6 179.9h0.9M68.4 181.0h0.9M72.9 178.1h0.9M74.7 183.1h0.9M73.1 183.2h0.9M71.5 178.5h0.9M72.0 178.9h0.9M67.7 175.9h0.9M64.7 181.4h0.9M70.1 187.2h0.9M71.1 178.0h0.9M67.1 176.5h0.9M70.8 182.6h0.9M71.2 182.8h0.9M70.6 180.4h0.9M72.7 183.3h0.9M76.8 182.9h0.9M69.0 184.9h0.9M72.4 178.0h0.9M70.0 182.0h0.9M66.7 181.2h0.9M73.8 180.9h0.9M66.4 182.8h0.9M68.9 182.9h0.9M72.6 185.9h0.9M76.2 180.7h0.9M73.0 182.3h0.9M70.7 184.3h0.9M72.9 182.0h0.9M72.2 182.4h0.9M75.8 178.7h0.9M67.5 180.1h0.9M69.1 174.5h0.9M73.3 176.2h0.9M70.7 181.8h0.9M74.0 179.1h0.9M66.5 181.9h0.9M74.4 183.9h0.9M67.7 177.9h0.9M67.8 182.1h0.9M69.7 178.3h0.9M71.7 190.3h0.9M67.5 177.8h0.9M72.0 181.7h0.9M75.1 179.7h0.9M71.1 180.1h0.9M73.0 184.6h0.9M77.2 181.6h0.9M66.2 178.5h0.9M70.7 181.7h0.9M69.4 181.9h0.9M75.0 180.9h0.9M71.9 180.4h0.9M64.0 176.3h0.9M69.5 177.7h0.9M66.8 176.1h0.9M70.8 180.8h0.9M74.3 188.0h0.9M69.4 183.7h0.9M75.9 179.4h0.9M71.0 184.6h0.9M68.4 186.0h0.9M75.7 184.9h0.9M72.9 181.1h0.9M65.1 185.1h0.9M69.4 187.9h0.9M72.5 184.4h0.9M71.0 183.8h0.9M75.5 180.5h0.9M70.6 182.5h0.9M73.8 183.8h0.9M71.6 182.7h0.9M70.8 180.2h0.9M72.1 179.6h0.9M73.1 181.6h0.9M69.9 179.9h0.9M68.6 178.3h0.9M76.6 187.1h0.9M71.0 184.4h0.9M70.3 184.4h0.9M68.7 183.4h0.9M67.9 176.6h0.9M66.1 182.7h0.9M71.4 184.7h0.9M74.8 180.0h0.9M76.6 175.9h0.9M71.1 183.3h0.9M74.2 180.0h0.9M72.3 185.8h0.9M71.2 181.9h0.9M70.8 177.8h0.9M74.5 185.8h0.9M72.7 180.4h0.9M71.2 182.3h0.9M64.4 177.9h0.9M71.4 184.9h0.9M69.4 180.1h0.9M72.2 189.1h0.9M74.1 181.9h0.9M70.8 184.8h0.9" stroke="#26269c" stroke-opacity="0.75" stroke-width="0.9" fill="none"/>
<path d="M69.0 177.2h0.9M76.6 179.5h0.9M68.7 184.9h0.9M72.5 181.6h0.9M69.9 183.3h0.9M73.2 182.8h0.9M74.5 184.6h0.9M73.9 180.8h0.9M68.0 183.7h0.9M71.9 179.9h0.9M65.4 183.0h0.9M73.5 178.8h0.9M75.0 183.4h0.9M68.9 179.4h0.9M65.3 187.7h0.9M65.9 183.1h0.9M70.2 183.0h0.9M70.1 181.1h0.9M71.2 179.0h0.9M72.6 177.3h0.9M70.7 183.3h0.9M73.5 184.3h0.9M70.6 182.4h0.9M72.1 183.9h0.9M72.9 183.0h0.9M73.0 187.8h0.9M70.3 183.1h0.9M71.0 179.1h0.9M69.3 179.8h0.9M66.4 187.2h0.9M71.1 177.0h0.9M65.9 175.3h0.9M75.9 179.7h0.9M73.5 187.1h0.9M72.9 183.5h0.9M68.9 178.1h0.9M72.5 175.9h0.9M76.5 177.7h0.9M74.4 184.9h0.9M66.2 178.1h0.9M67.1 174.2h0.9M72.5 179.2h0.9M74.2 182.7h0.9M72.8 182.9h0.9M72.1 186.7h0.9M76.5 182.5h0.9M67.5 178.0h0.9M72.0 187.5h0.9M72.2 181.4h0.9M70.1 178.3h0.9M72.8 186.1h0.9M71.8 183.7h0.9M77.8 179.3h0.9M77.4 182.0h0.9M73.3 185.1h0.9M66.8 186.6h0.9M74.2 185.8h0.9M65.1 182.3h0.9M71.6 183.7h0.9M74.4 181.1h0.9M71.3 181.9h0.9M73.7 176.9h0.9M73.6 182.6h0.9M71.7 183.7h0.9M72.5 182.9h0.9M69.9 181.9h0.9M68.6 177.3h0.9M75.4 186.6h0.9M71.4 184.5h0.9M72.4 181.8h0.9M71.4 188.4h0.9M73.2 180.4h0.9M76.0 180.7h0.9M75.4 184.8h0.9M65.4 179.6h0.9M71.9 182.0h0.9M71.0 180.8h0.9M69.7 179.8h0.9M70.1 182.6h0.9M69.2 183.4h0.9M71.0 181.1h0.9M67.5 181.1h0.9M70.4 176.2h0.9M68.4 176.2h0.9M66.3 183.2h0.9M73.9 183.3h0.9M76.3 173.3h0.9M73.3 181.8h0.9M72.0 175.3h0.9M69.2 185.4h0.9M66.5 180.7h0.9M67.9 174.2h0.9M73.5 181.7h0.9M69.1 177.3h0.9M75.8 182.3h0.9M67.1 179.1h0.9M71.5 181.7h0.9M75.8 180.6h0.9M69.9 184.4h0.9M73.7 180.4h0.9M74.5 177.2h0.9M72.6 180.5h0.9M71.9 182.6h0.9M71.2 182.6h0.9M67.6 185.1h0.9M69.5 181.3h0.9M71.2 179.4h0.9M68.7 178.9h0.9M71.1 182.2h0.9M72.3 182.3h0.9M71.9 182.3h0.9M73.0 182.4h0.9M72.0 180.4h0.9M72.5 179.9h0.9M70.9 180.3h0.9M70.0 182.7h0.9M68.8 178.5h0.9M71.4 185.0h0.9M76.0 179.8h0.9M71.6 185.5h0.9M69.4 182.1h0.9M67.1 184.1h0.9M63.2 181.0h0.9M72.1 179.8h0.9M69.6 184.3h0.9M74.2 186.3h0.9" stroke="#26269c" stroke-opacity="0.75" stroke-width="0.9" fill="none"/>
<path d="M74.2 172.4h0.9M81.3 178.6h0.9M80.2 179.6h0.9M75.8 165.9h0.9M88.4 180.2h0.9M87.9 173.5h0.9M77.3 170.1h0.9M82.7 163.8h0.9M77.7 174.4h0.9M74.1 174.7h0.9M76.6 166.5h0.9M78.5 173.0h0.9M82.6 174.9h0.9M79.7 170.4h0.9M80.7 180.6h0.9M84.7 179.7h0.9M77.7 177.4h0.9M73.0 187.2h0.9M77.1 161.0h0.9M82.4 168.7h0.9" stroke="#9a9a9a" stroke-opacity="0.4" stroke-width="0.9" fill="none"/>
<path d="M81.9 179.4h0.9M74.8 174.9h0.9M76.2 172.6h0.9M83.1 174.7h0.9M80.6 176.7h0.9M75.7 179.5h0.9M82.2 179.0h0.9M82.5 175.1h0.9M78.9 171.7h0.9M85.9 180.4h0.9M84.5 176.4h0.9M86.8 173.3h0.9M71.4 184.3h0.9M76.5 167.2h0.9M82.1 176.7h0.9M84.9 173.2h0.9M79.3 176.1h0.9M80.8 164.7h0.9M82.3 185.7h0.9M84.8 166.1h0.9" stroke="#9a9a9a" stroke-opacity="0.4" stroke-width="0.9" fill="none"/>
<path d="M87.4 186.5h0.9M81.0 174.7h0.9M73.0 182.8h0.9M83.8 173.8h0.9M79.2 180.8h0.9M84.2 167.1h0.9M77.1 169.3h0.9M87.6 181.9h0.9M80.3 181.7h0.9M76.8 171.2h0.9M77.3 167.5h0.9M80.5 182.3h0.9M82.4 173.4h0.9M82.0 179.1h0.9M76.5 179.5h0.9M76.2 183.4h0.9M78.9 172.8h0.9M76.4 169.4h0.9M79.0 180.4h0.9M77.7 173.9h0.9" stroke="#9a9a9a" stroke-opacity="0.4" stroke-width="0.9" fill="none"/>
<path d="M81.8 269.2h0.9M75.6 281.7h0.9M69.4 267.8h0.9M59.5 278.4h0.9M71.7 269.4h0.9M65.3 285.7h0.9M80.9 262.5h0.9M65.2 260.9h0.9M73.8 282.6h0.9M59.0 257.0h0.9M61.1 262.5h0.9M85.9 271.1h0.9M47.6 253.8h0.9M71.7 274.0h0.9M69.8 259.7h0.9M70.2 269.7h0.9M59.3 269.6h0.9M63.9 256.0h0.9M57.9 268.8h0.9M62.2 251.3h0.9M62.9 264.8h0.9M93.1 265.4h0.9M85.2 275.0h0.9M92.6 282.3h0.9M70.6 270.4h0.9M76.4 283.1h0.9M72.9 267.1h0.9M37.4 272.3h0.9M66.4 262.8h0.9M62.2 274.4h0.9M73.4 261.0h0.9M47.6 277.1h0.9M46.8 254.7h0.9M65.9 277.5h0.9M70.8 289.7h0.9M68.0 290.4h0.9M70.5 260.9h0.9M56.5 265.8h0.9M71.8 264.2h0.9M90.2 274.0h0.9M71.9 248.2h0.9M65.7 270.0h0.9M66.6 261.4h0.9M60.8 281.2h0.9M57.8 286.9h0.9M53.3 266.7h0.9M59.6 275.2h0.9M82.7 270.9h0.9M45.0 265.3h0.9M69.7 261.3h0.9M60.1 245.7h0.9M72.8 279.6h0.9M82.4 268.0h0.9M68.4 247.9h0.9M41.3 267.7h0.9M60.8 266.0h0.9M66.4 276.0h0.9M77.9 268.3h0.9M59.6 267.4h0.9M63.4 251.6h0.9M70.5 266.5h0.9M72.2 253.6h0.9M56.5 282.6h0.9M59.5 262.3h0.9M61.3 278.9h0.9M38.2 270.1h0.9M69.3 271.4h0.9M57.0 272.2h0.9M65.8 267.5h0.9M77.7 263.1h0.9M64.3 243.7h0.9M51.8 259.9h0.9M69.4 272.5h0.9M53.1 269.5h0.9M82.5 261.9h0.9M69.1 260.4h0.9M57.6 266.1h0.9M74.8 268.9h0.9M75.8 270.8h0.9M41.3 260.9h0.9M66.7 248.2h0.9M40.0 252.3h0.9M62.6 254.4h0.9M52.2 244.6h0.9M66.8 275.3h0.9M69.9 273.2h0.9M65.7 265.6h0.9M79.0 258.8h0.9M80.2 261.5h0.9M88.6 268.5h0.9M51.7 275.6h0.9M93.5 261.7h0.9M84.5 257.9h0.9M58.6 283.3h0.9M57.4 268.6h0.9M79.0 281.6h0.9M71.7 266.3h0.9M75.9 260.2h0.9M78.5 274.7h0.9M48.5 284.3h0.9M74.3 252.3h0.9M61.1 268.9h0.9M81.9 267.1h0.9M67.1 286.4h0.9M69.5 266.4h0.9M51.6 287.4h0.9M72.5 278.8h0.9M69.0 260.6h0.9M87.3 264.9h0.9M88.7 280.8h0.9M45.3 272.3h0.9M55.5 264.6h0.9M65.7 277.5h0.9M75.7 261.7h0.9M78.6 266.0h0.9M74.0 273.7h0.9M48.0 286.6h0.9M56.5 278.5h0.9M68.6 268.6h0.9M76.3 255.3h0.9" stroke="#909090" stroke-opacity="0.42" stroke-width="0.9" fill="none"/>
<path d="M65.5 260.1h0.9M75.7 268.2h0.9M88.1 283.4h0.9M61.7 277.4h0.9M69.7 271.7h0.9M65.5 258.9h0.9M73.6 269.8h0.9M73.3 250.8h0.9M74.1 251.3h0.9M72.1 273.0h0.9M66.3 278.5h0.9M68.8 276.2h0.9M69.9 276.3h0.9M70.0 249.4h0.9M59.3 282.6h0.9M60.2 267.5h0.9M77.4 276.1h0.9M67.9 263.3h0.9M62.8 261.8h0.9M58.0 275.9h0.9M50.6 271.9h0.9M76.3 276.1h0.9M68.7 257.4h0.9M76.4 270.6h0.9M74.6 278.6h0.9M57.3 272.1h0.9M65.8 284.4h0.9M59.1 263.0h0.9M77.5 291.6h0.9M66.6 279.2h0.9M76.2 282.6h0.9M77.2 258.1h0.9M77.2 265.4h0.9M59.1 274.6h0.9M52.6 275.6h0.9M79.2 239.2h0.9M60.5 259.9h0.9M71.7 259.7h0.9M85.3 261.8h0.9M54.4 264.7h0.9M69.4 276.9h0.9M69.5 261.1h0.9M55.2 270.4h0.9M77.7 261.1h0.9M61.9 265.9h0.9M45.6 278.3h0.9M84.9 264.0h0.9M49.6 274.6h0.9M69.7 258.9h0.9M94.8 247.1h0.9M70.0 276.1h0.9M49.2 268.0h0.9M69.1 261.9h0.9M49.4 285.3h0.9M91.2 253.4h0.9M52.3 254.8h0.9M54.4 273.8h0.9M62.9 251.7h0.9M46.3 255.0h0.9M62.5 252.7h0.9M79.2 264.3h0.9M75.4 276.6h0.9M67.2 274.7h0.9M71.4 274.0h0.9M72.6 278.5h0.9M59.2 269.2h0.9M57.6 243.1h0.9M62.6 258.7h0.9M78.3 254.9h0.9M57.8 271.5h0.9M74.0 275.6h0.9M51.5 288.3h0.9M84.2 257.2h0.9M50.3 284.1h0.9M56.3 269.3h0.9M58.8 275.2h0.9M56.0 284.1h0.9M87.2 274.6h0.9M65.0 252.1h0.9M90.1 280.1h0.9M63.0 270.9h0.9M71.0 268.8h0.9M72.4 271.9h0.9M45.6 289.3h0.9M55.4 281.2h0.9M47.3 274.6h0.9M60.7 276.6h0.9M71.7 272.8h0.9M70.2 256.3h0.9M49.5 261.1h0.9M59.2 262.2h0.9M72.3 250.0h0.9M65.7 281.7h0.9M71.4 266.1h0.9M43.6 258.3h0.9M67.9 263.4h0.9M65.6 260.4h0.9M65.5 261.2h0.9M43.9 273.4h0.9M67.0 262.4h0.9M66.6 262.7h0.9M80.4 270.4h0.9M53.8 270.5h0.9M69.6 273.0h0.9M63.3 273.1h0.9M74.2 264.3h0.9M56.9 259.0h0.9M73.2 253.8h0.9M93.4 262.6h0.9M70.2 272.7h0.9M47.8 262.4h0.9M99.9 260.9h0.9M57.0 265.4h0.9M56.4 258.6h0.9M57.0 258.7h0.9M59.3 265.8h0.9M56.0 247.1h0.9" stroke="#909090" stroke-opacity="0.42" stroke-width="0.9" fill="none"/>
<path d="M68.1 268.4h0.9M65.2 283.7h0.9M73.7 266.9h0.9M57.8 269.0h0.9M53.8 257.1h0.9M59.3 268.3h0.9M62.8 258.8h0.9M80.2 275.4h0.9M67.6 272.4h0.9M62.0 265.6h0.9M48.1 264.7h0.9M55.3 256.2h0.9M62.1 261.4h0.9M60.6 243.3h0.9M82.5 272.7h0.9M89.3 259.5h0.9M55.7 266.7h0.9M77.7 272.2h0.9M61.3 278.4h0.9M92.1 257.8h0.9M66.4 270.7h0.9M59.6 262.2h0.9M77.3 273.1h0.9M67.7 262.6h0.9M70.6 262.7h0.9M73.4 273.2h0.9M87.2 254.4h0.9M48.4 271.4h0.9M84.2 279.4h0.9M73.8 267.7h0.9M62.8 273.4h0.9M87.3 269.1h0.9M79.9 252.9h0.9M62.8 271.3h0.9M82.3 257.1h0.9M64.2 251.4h0.9M70.4 263.5h0.9M80.0 251.9h0.9M59.3 255.0h0.9M55.8 282.8h0.9M67.0 272.6h0.9M71.1 269.6h0.9M76.6 244.5h0.9M82.8 258.4h0.9M47.8 258.2h0.9M62.9 262.1h0.9M85.8 283.7h0.9M62.2 269.9h0.9M70.4 284.3h0.9M56.3 272.0h0.9M57.7 282.3h0.9M85.7 287.6h0.9M79.8 261.2h0.9M67.7 270.1h0.9M39.2 266.4h0.9M52.5 274.3h0.9M61.8 268.9h0.9M67.7 275.7h0.9M71.7 280.7h0.9M63.8 286.9h0.9M70.9 270.0h0.9M40.2 241.4h0.9M73.5 276.7h0.9M73.8 271.3h0.9M37.0 277.9h0.9M61.4 264.9h0.9M57.8 273.3h0.9M80.8 284.3h0.9M56.7 279.2h0.9M50.3 263.1h0.9M79.7 253.8h0.9M55.4 264.9h0.9M77.5 269.5h0.9M58.3 278.0h0.9M54.5 276.9h0.9M49.7 284.8h0.9M76.8 280.9h0.9M72.2 273.7h0.9M91.6 255.1h0.9M59.8 270.6h0.9M81.0 256.0h0.9M68.8 269.5h0.9M73.9 280.4h0.9M56.0 272.0h0.9M65.0 262.0h0.9M80.8 272.4h0.9M55.3 263.0h0.9M89.3 261.1h0.9M53.3 278.3h0.9M88.5 268.6h0.9M41.4 281.8h0.9M60.2 273.5h0.9M85.3 267.1h0.9M79.9 284.6h0.9M85.3 260.9h0.9M56.2 262.5h0.9M66.0 272.8h0.9M64.9 253.6h0.9M61.5 261.3h0.9M53.0 273.8h0.9M43.1 282.2h0.9M65.3 265.0h0.9M59.4 260.6h0.9M87.0 278.1h0.9M63.2 252.1h0.9M69.4 263.4h0.9M79.3 263.2h0.9M80.8 260.4h0.9M75.0 259.4h0.9M66.7 260.7h0.9M76.7 280.8h0.9M53.3 270.2h0.9M61.0 264.8h0.9M77.1 278.2h0.9M75.0 269.2h0.9M84.3 263.1h0.9M78.6 256.7h0.9M61.0 267.8h0.9M85.0 267.3h0.9" stroke="#909090" stroke-opacity="0.42" stroke-width="0.9" fill="none"/>
<path d="M45.4 280.3h0.9M44.8 280.3h0.9M49.2 280.7h0.9M44.3 286.2h0.9M44.8 279.5h0.9M45.1 282.1h0.9M53.2 280.3h0.9M38.0 285.2h0.9M37.1 277.8h0.9M39.6 282.3h0.9M45.7 278.4h0.9M41.7 282.1h0.9M39.3 281.5h0.9M49.8 281.7h0.9M32.6 280.0h0.9M52.8 278.1h0.9M50.1 277.2h0.9M44.2 281.6h0.9M42.7 277.9h0.9M46.4 283.3h0.9M43.3 282.4h0.9M42.6 281.2h0.9M50.8 282.4h0.9M47.1 278.3h0.9M42.6 280.6h0.9M53.9 281.7h0.9M37.9 278.3h0.9M42.9 288.1h0.9M50.7 277.5h0.9M39.5 283.3h0.9M50.3 280.4h0.9M53.3 279.7h0.9M40.5 280.8h0.9M44.4 283.8h0.9M41.2 280.1h0.9M45.6 286.9h0.9M42.9 275.5h0.9M42.5 282.4h0.9M46.5 285.4h0.9M45.2 281.5h0.9M38.6 274.1h0.9M48.0 276.1h0.9M42.7 274.7h0.9M39.7 287.5h0.9M48.5 278.5h0.9M46.3 277.8h0.9M42.0 279.3h0.9M39.1 283.9h0.9M53.7 281.0h0.9M48.9 279.4h0.9M41.9 284.1h0.9M43.4 283.2h0.9M46.2 286.0h0.9M48.4 275.6h0.9M50.6 281.4h0.9M40.3 279.7h0.9M47.5 281.2h0.9M43.5 277.3h0.9M37.9 284.5h0.9M40.2 278.1h0.9M51.6 283.2h0.9M42.5 283.0h0.9M41.3 277.0h0.9M35.5 281.9h0.9M53.6 279.5h0.9M49.2 284.1h0.9M42.9 279.4h0.9M37.9 280.9h0.9M38.4 277.2h0.9M37.1 278.6h0.9M44.0 279.4h0.9M44.9 278.3h0.9M57.0 281.1h0.9M47.9 279.1h0.9M47.4 280.9h0.9M43.3 286.7h0.9M46.8 278.3h0.9M56.0 284.0h0.9M43.6 277.5h0.9M43.7 285.0h0.9M46.1 282.4h0.9M54.6 281.3h0.9M40.4 284.2h0.9M50.9 279.0h0.9M39.4 284.6h0.9M40.3 283.1h0.9M45.2 285.8h0.9M46.3 278.2h0.9M37.9 282.1h0.9M42.4 280.4h0.9M48.5 283.9h0.9M35.0 280.4h0.9M46.3 276.9h0.9M44.9 278.5h0.9M52.7 282.1h0.9M54.0 283.7h0.9M45.5 281.7h0.9M38.8 284.1h0.9M44.2 281.7h0.9M54.5 281.6h0.9M57.5 283.5h0.9M48.5 277.7h0.9M41.8 277.5h0.9M47.0 279.6h0.9M40.1 277.7h0.9M43.4 276.1h0.9M51.4 280.9h0.9M43.3 278.5h0.9M52.2 283.5h0.9M43.2 281.8h0.9M40.9 280.2h0.9M50.3 280.0h0.9M45.0 281.8h0.9M36.8 282.2h0.9M56.4 278.2h0.9M34.0 282.6h0.9M47.8 279.9h0.9M49.9 282.8h0.9M48.5 281.5h0.9M45.5 282.6h0.9M50.8 279.5h0.9M43.0 277.0h0.9M41.4 281.4h0.9M54.0 283.1h0.9M36.7 280.4h0.9M57.0 279.8h0.9M42.7 279.3h0.9M55.1 283.2h0.9M37.0 281.5h0.9M40.5 277.1h0.9M40.8 281.7h0.9M39.5 279.1h0.9M51.7 280.4h0.9M55.1 278.5h0.9M43.5 283.0h0.9M47.0 281.9h0.9M50.4 284.2h0.9M44.1 282.6h0.9M56.4 280.9h0.9" stroke="#c05858" stroke-opacity="0.5" stroke-width="0.9" fill="none"/>
<path d="M51.0 281.4h0.9M35.3 283.6h0.9M50.0 285.3h0.9M40.7 280.3h0.9M53.0 273.6h0.9M40.2 283.6h0.9M43.6 279.1h0.9M45.4 282.0h0.9M49.0 283.3h0.9M47.4 280.6h0.9M47.3 278.6h0.9M45.9 278.5h0.9M52.1 278.7h0.9M52.2 282.6h0.9M45.6 282.1h0.9M42.5 281.2h0.9M49.8 283.8h0.9M45.1 276.1h0.9M44.2 279.5h0.9M46.3 281.6h0.9M43.6 278.8h0.9M51.7 282.0h0.9M41.9 280.6h0.9M54.7 278.4h0.9M42.2 276.5h0.9M46.3 279.2h0.9M40.6 284.0h0.9M45.1 280.6h0.9M51.7 285.2h0.9M47.1 280.5h0.9M53.6 277.8h0.9M52.2 279.3h0.9M40.9 282.9h0.9M39.8 280.4h0.9M46.6 276.2h0.9M40.2 280.3h0.9M36.6 281.0h0.9M39.6 284.1h0.9M40.8 277.0h0.9M44.6 281.1h0.9M46.8 278.6h0.9M40.2 280.7h0.9M51.9 275.9h0.9M46.8 282.0h0.9M52.4 275.8h0.9M54.2 284.6h0.9M50.9 280.9h0.9M41.4 284.2h0.9M42.0 279.0h0.9M39.3 278.6h0.9M40.2 278.5h0.9M37.8 285.1h0.9M45.8 284.2h0.9M44.4 285.3h0.9M46.6 284.4h0.9M46.3 279.2h0.9M50.7 282.2h0.9M41.5 282.7h0.9M48.8 280.3h0.9M48.3 286.1h0.9M45.0 281.6h0.9M40.7 280.0h0.9M50.5 279.8h0.9M40.2 281.4h0.9M39.2 283.7h0.9M42.6 277.6h0.9M44.0 278.5h0.9M40.7 280.4h0.9M48.6 282.3h0.9M42.0 279.6h0.9M41.6 282.8h0.9M44.4 280.0h0.9M47.4 279.1h0.9M35.9 282.4h0.9M49.5 279.0h0.9M43.5 279.5h0.9M54.7 277.3h0.9M54.5 278.2h0.9M38.3 279.3h0.9M46.9 277.5h0.9M47.5 278.7h0.9M50.6 279.7h0.9M45.2 274.8h0.9M42.4 278.1h0.9M35.8 280.3h0.9M49.2 281.8h0.9M46.7 283.4h0.9M38.4 279.3h0.9M51.8 276.8h0.9M48.9 280.0h0.9M47.5 286.0h0.9M47.8 283.5h0.9M58.1 281.2h0.9M41.8 280.0h0.9M38.4 278.7h0.9M44.4 279.0h0.9M46.7 279.8h0.9M41.3 280.6h0.9M45.0 279.1h0.9M42.4 275.9h0.9M34.7 283.9h0.9M39.6 280.3h0.9M47.9 283.1h0.9M38.5 281.4h0.9M37.8 284.7h0.9M48.9 277.9h0.9M47.7 284.4h0.9M42.1 283.9h0.9M46.7 278.2h0.9M57.2 283.2h0.9M40.4 282.5h0.9M50.8 279.9h0.9M39.2 276.3h0.9M51.3 281.3h0.9M45.0 282.1h0.9M46.0 284.1h0.9M43.1 284.0h0.9M42.7 284.7h0.9M48.6 280.7h0.9M42.5 280.3h0.9M46.4 279.8h0.9M36.5 277.3h0.9M44.7 278.3h0.9M41.5 279.3h0.9M41.5 280.6h0.9M41.5 282.6h0.9M58.7 280.1h0.9M53.4 280.4h0.9M47.4 282.4h0.9M52.2 282.8h0.9M49.0 281.0h0.9M42.5 276.2h0.9M50.6 286.8h0.9M47.7 278.7h0.9M48.7 279.0h0.9M48.7 275.4h0.9M42.0 279.7h0.9M47.3 285.9h0.9M44.8 280.8h0.9M45.4 280.6h0.9" stroke="#c05858" stroke-opacity="0.5" stroke-width="0.9" fill="none"/>
<path d="M50.2 280.0h0.9M36.8 277.7h0.9M55.7 284.4h0.9M51.0 279.9h0.9M52.5 283.5h0.9M62.3 277.9h0.9M44.5 277.0h0.9M47.2 281.8h0.9M39.2 278.9h0.9M41.9 281.5h0.9M50.7 282.3h0.9M40.5 275.8h0.9M46.4 281.5h0.9M41.3 281.6h0.9M43.8 282.8h0.9M48.2 280.9h0.9M51.6 281.7h0.9M42.2 280.4h0.9M45.9 280.4h0.9M38.8 272.2h0.9M38.7 283.0h0.9M57.8 280.1h0.9M42.4 277.6h0.9M42.5 280.8h0.9M44.7 281.3h0.9M39.7 283.8h0.9M52.9 282.9h0.9M44.9 279.1h0.9M38.7 285.0h0.9M50.3 277.7h0.9M47.7 283.7h0.9M42.2 279.5h0.9M43.7 279.0h0.9M46.8 277.2h0.9M44.1 283.2h0.9M46.9 283.5h0.9M45.1 278.6h0.9M39.9 277.3h0.9M52.0 279.7h0.9M44.1 281.6h0.9M44.7 283.7h0.9M40.2 281.6h0.9M43.1 286.7h0.9M42.3 281.3h0.9M40.4 281.5h0.9M44.9 280.8h0.9M43.0 279.2h0.9M48.8 285.7h0.9M44.8 281.2h0.9M48.2 281.8h0.9M57.5 286.0h0.9M44.4 281.0h0.9M47.3 275.2h0.9M44.9 285.2h0.9M45.6 280.7h0.9M41.0 280.4h0.9M39.1 280.3h0.9M42.4 282.5h0.9M50.6 279.8h0.9M40.5 285.3h0.9M42.8 281.5h0.9M46.6 285.4h0.9M49.3 280.9h0.9M41.9 280.8h0.9M43.7 279.3h0.9M42.7 280.0h0.9M42.5 277.3h0.9M35.8 282.4h0.9M55.5 279.5h0.9M59.0 277.5h0.9M48.6 277.5h0.9M42.9 277.3h0.9M50.4 280.9h0.9M48.0 282.5h0.9M51.4 280.3h0.9M45.1 278.5h0.9M47.5 279.3h0.9M50.0 287.1h0.9M43.6 277.9h0.9M39.0 280.3h0.9M43.2 282.0h0.9M42.4 280.3h0.9M48.3 284.7h0.9M41.3 278.1h0.9M55.3 280.6h0.9M43.5 279.5h0.9M41.1 275.9h0.9M50.1 282.2h0.9M43.1 281.5h0.9M39.7 279.8h0.9M46.0 281.2h0.9M46.4 278.2h0.9M41.1 282.8h0.9M37.0 279.1h0.9M45.5 281.7h0.9M43.6 283.5h0.9M45.6 280.9h0.9M49.3 280.4h0.9M41.8 282.0h0.9M36.8 282.3h0.9M49.9 278.7h0.9M45.7 284.1h0.9M46.4 280.4h0.9M48.7 282.2h0.9M41.0 277.1h0.9M44.0 281.8h0.9M35.9 279.1h0.9M54.2 281.2h0.9M43.1 281.2h0.9M41.9 281.3h0.9M38.3 283.4h0.9M48.1 279.2h0.9M39.8 280.1h0.9M44.3 280.9h0.9M45.0 279.5h0.9M50.8 280.8h0.9M45.9 281.6h0.9M48.0 277.9h0.9M45.4 279.2h0.9M47.1 281.1h0.9M42.0 280.5h0.9M44.3 284.5h0.9M50.4 282.7h0.9M48.9 279.1h0.9M45.0 285.6h0.9M48.1 277.2h0.9M42.8 279.3h0.9M50.5 282.4h0.9M50.8 279.8h0.9M42.2 278.2h0.9M54.8 279.4h0.9M45.1 276.1h0.9M47.0 277.4h0.9M50.1 277.0h0.9M44.2 281.6h0.9M40.4 285.3h0.9M40.6 281.6h0.9M49.3 280.0h0.9" stroke="#c05858" stroke-opacity="0.5" stroke-width="0.9" fill="none"/>
<path d="M68.0 280.7h0.9M68.1 282.5h0.9M73.8 284.1h0.9M60.7 278.3h0.9M70.4 284.4h0.9M74.8 277.4h0.9M71.0 281.6h0.9M74.7 278.0h0.9M72.5 282.7h0.9M69.6 281.2h0.9M61.0 281.8h0.9M72.1 281.5h0.9M61.0 283.0h0.9M63.8 280.2h0.9M70.8 280.0h0.9M60.9 282.7h0.9M67.4 279.8h0.9M64.1 279.2h0.9M69.8 276.1h0.9M68.1 279.1h0.9M72.1 274.3h0.9M68.4 275.9h0.9M72.6 278.0h0.9M66.4 272.2h0.9M65.2 273.0h0.9M68.3 279.3h0.9M69.0 284.6h0.9M75.0 278.5h0.9M63.7 284.5h0.9M71.3 280.3h0.9M63.8 282.3h0.9M70.4 281.9h0.9M65.7 279.9h0.9M69.1 278.0h0.9M68.7 274.9h0.9M72.8 274.2h0.9M64.9 279.0h0.9M70.4 278.6h0.9M68.4 277.4h0.9M69.0 278.4h0.9M74.3 282.2h0.9M63.6 274.8h0.9M68.4 285.3h0.9M70.9 282.1h0.9M66.4 282.2h0.9M76.8 276.6h0.9M67.9 281.4h0.9M72.8 279.8h0.9M72.3 283.0h0.9M64.6 279.8h0.9M72.3 278.5h0.9M71.0 277.8h0.9M62.4 284.0h0.9M70.5 285.1h0.9M64.9 282.2h0.9M66.7 281.1h0.9M72.3 279.7h0.9M63.6 278.0h0.9M57.0 282.8h0.9M63.8 284.3h0.9M63.0 279.1h0.9M61.1 284.6h0.9M66.3 278.2h0.9M65.6 278.3h0.9M69.9 277.0h0.9M65.6 277.5h0.9M62.1 279.1h0.9M72.5 280.3h0.9M68.7 284.7h0.9M61.1 277.6h0.9M68.7 279.5h0.9M69.9 285.1h0.9M68.4 277.9h0.9M68.5 275.7h0.9M62.5 279.1h0.9M71.2 281.6h0.9M73.2 283.4h0.9M66.9 286.2h0.9M65.0 279.1h0.9M66.8 281.8h0.9M67.7 280.5h0.9M66.6 281.1h0.9M66.3 283.4h0.9M69.4 276.3h0.9M66.5 279.1h0.9M68.4 283.7h0.9M70.1 283.9h0.9M71.3 280.6h0.9M68.5 278.7h0.9M68.4 276.6h0.9M61.9 286.5h0.9M74.0 283.9h0.9M69.9 279.6h0.9M62.1 282.7h0.9M60.4 281.0h0.9M75.3 282.8h0.9M69.7 279.7h0.9M72.0 278.5h0.9M71.0 278.9h0.9M68.6 281.6h0.9M59.3 283.8h0.9M76.3 284.5h0.9M63.1 280.2h0.9M71.1 277.8h0.9M60.0 277.3h0.9M71.7 280.3h0.9M72.2 278.4h0.9M65.8 284.6h0.9M69.9 282.4h0.9M68.5 281.4h0.9M62.6 279.6h0.9M60.9 280.2h0.9M63.1 281.6h0.9M69.8 279.8h0.9M64.6 278.4h0.9M66.9 283.3h0.9M68.2 282.3h0.9M68.8 285.3h0.9M74.6 279.6h0.9M74.9 282.3h0.9M66.6 279.1h0.9M67.7 278.5h0.9M60.9 282.0h0.9M71.6 279.2h0.9M65.5 277.9h0.9M66.0 283.9h0.9M66.8 285.2h0.9" stroke="#26269c" stroke-opacity="0.6" stroke-width="0.9" fill="none"/>
<path d="M73.4 282.8h0.9M72.0 279.5h0.9M74.6 280.6h0.9M71.0 283.1h0.9M61.5 277.7h0.9M64.6 278.9h0.9M65.4 273.3h0.9M63.6 281.1h0.9M69.1 277.9h0.9M64.2 280.1h0.9M66.2 278.6h0.9M72.8 280.4h0.9M69.0 276.1h0.9M65.0 277.2h0.9M67.7 280.4h0.9M64.5 272.6h0.9M65.6 281.6h0.9M63.7 280.2h0.9M72.2 282.7h0.9M72.5 276.9h0.9M68.1 283.9h0.9M65.4 283.3h0.9M69.0 280.0h0.9M64.6 277.6h0.9M71.7 280.2h0.9M63.5 275.7h0.9M62.4 279.3h0.9M71.0 279.3h0.9M70.4 283.4h0.9M58.2 280.3h0.9M69.4 279.5h0.9M66.3 276.2h0.9M71.3 275.0h0.9M76.4 280.0h0.9M62.7 275.8h0.9M65.5 284.2h0.9M67.9 283.8h0.9M66.0 275.8h0.9M70.8 281.4h0.9M71.1 281.7h0.9M73.2 282.4h0.9M64.1 281.8h0.9M66.4 274.9h0.9M67.1 282.4h0.9M71.9 276.8h0.9M62.8 281.2h0.9M60.8 279.9h0.9M62.1 283.9h0.9M67.4 273.2h0.9M63.5 281.1h0.9M70.2 279.6h0.9M68.9 280.0h0.9M69.6 284.9h0.9M67.8 278.7h0.9M60.2 277.1h0.9M72.6 281.5h0.9M65.4 282.5h0.9M65.2 281.0h0.9M65.4 279.2h0.9M70.4 278.6h0.9M69.5 280.3h0.9M69.5 277.7h0.9M72.7 280.9h0.9M65.1 280.7h0.9M67.2 277.3h0.9M65.5 279.3h0.9M71.1 281.6h0.9M73.0 276.1h0.9M66.0 284.6h0.9M72.1 279.7h0.9M64.0 279.2h0.9M61.3 278.4h0.9M67.9 280.0h0.9M61.6 281.7h0.9M67.6 278.0h0.9M67.3 276.1h0.9M69.1 281.1h0.9M71.2 279.1h0.9M78.0 277.7h0.9M59.9 282.7h0.9M70.7 278.6h0.9M69.4 282.1h0.9M69.0 275.2h0.9M64.3 280.4h0.9M75.8 277.2h0.9M70.0 277.6h0.9M57.3 283.9h0.9M69.8 281.1h0.9M62.0 275.8h0.9M71.5 278.9h0.9M70.2 278.7h0.9M69.1 275.1h0.9M69.4 275.3h0.9M77.4 281.9h0.9M66.3 283.6h0.9M66.1 277.2h0.9M66.1 275.4h0.9M61.6 276.9h0.9M70.2 280.4h0.9M73.0 277.3h0.9M72.4 280.1h0.9M71.7 275.9h0.9M71.1 282.8h0.9M67.7 282.2h0.9M63.0 279.7h0.9M67.2 281.4h0.9M72.7 276.8h0.9M69.5 283.7h0.9M71.4 275.2h0.9M66.9 275.1h0.9M73.3 277.9h0.9M66.0 279.3h0.9M65.3 282.3h0.9M74.7 280.5h0.9M68.1 280.5h0.9M67.3 280.9h0.9M65.6 274.9h0.9M73.4 275.5h0.9M65.7 280.4h0.9M65.6 277.1h0.9M64.3 278.3h0.9M68.5 282.7h0.9M70.8 284.4h0.9M66.4 279.1h0.9M70.1 280.3h0.9M72.1 277.9h0.9M69.8 281.9h0.9" stroke="#26269c" stroke-opacity="0.6" stroke-width="0.9" fill="none"/>
<path d="M63.7 278.2h0.9M76.7 279.6h0.9M70.4 275.7h0.9M67.6 283.0h0.9M64.1 277.1h0.9M71.6 278.7h0.9M64.2 276.5h0.9M68.2 277.4h0.9M64.4 274.2h0.9M81.5 276.8h0.9M70.6 279.7h0.9M59.1 283.9h0.9M68.3 282.6h0.9M65.5 283.7h0.9M69.2 280.6h0.9M70.9 276.6h0.9M66.9 279.2h0.9M73.5 282.9h0.9M76.5 273.6h0.9M66.4 286.7h0.9M65.5 281.7h0.9M72.9 278.3h0.9M62.8 280.9h0.9M64.6 277.2h0.9M69.1 279.3h0.9M68.3 282.9h0.9M65.4 283.5h0.9M63.9 279.7h0.9M69.5 273.1h0.9M72.2 284.9h0.9M66.8 281.5h0.9M73.4 283.7h0.9M70.1 287.0h0.9M68.9 278.8h0.9M71.7 279.7h0.9M64.7 274.7h0.9M73.5 284.5h0.9M73.3 283.6h0.9M68.6 276.7h0.9M69.8 278.8h0.9M70.7 281.1h0.9M71.8 280.5h0.9M61.6 279.1h0.9M67.8 277.9h0.9M63.9 280.4h0.9M70.1 278.2h0.9M70.5 282.7h0.9M71.2 278.2h0.9M66.1 277.8h0.9M75.8 276.6h0.9M73.3 278.0h0.9M72.5 275.5h0.9M63.8 280.6h0.9M70.9 279.7h0.9M73.6 278.6h0.9M64.0 278.4h0.9M72.7 286.3h0.9M66.0 283.2h0.9M70.3 280.6h0.9M68.9 276.8h0.9M64.8 276.0h0.9M72.9 281.6h0.9M74.7 281.0h0.9M69.0 281.7h0.9M70.0 276.2h0.9M74.2 279.3h0.9M69.0 285.7h0.9M67.3 277.5h0.9M63.8 284.1h0.9M68.6 280.0h0.9M68.5 277.4h0.9M66.9 280.1h0.9M67.6 284.4h0.9M66.6 278.2h0.9M66.6 282.6h0.9M71.2 284.3h0.9M67.9 283.6h0.9M68.0 275.4h0.9M71.7 280.2h0.9M75.9 280.9h0.9M68.5 281.5h0.9M64.0 278.5h0.9M62.8 285.6h0.9M73.8 284.7h0.9M74.4 281.0h0.9M61.8 280.0h0.9M70.5 284.4h0.9M65.4 279.7h0.9M70.1 281.5h0.9M59.5 284.5h0.9M58.4 278.0h0.9M66.4 279.2h0.9M65.4 284.2h0.9M62.3 283.6h0.9M72.8 280.5h0.9M78.0 278.8h0.9M67.4 279.7h0.9M67.8 280.7h0.9M74.9 279.8h0.9M66.1 279.2h0.9M81.7 283.7h0.9M74.2 281.2h0.9M68.7 278.5h0.9M62.1 281.1h0.9M70.9 279.9h0.9M67.0 280.4h0.9M67.1 275.0h0.9M62.0 277.1h0.9M70.1 279.8h0.9M63.6 275.8h0.9M64.9 276.7h0.9M64.1 281.4h0.9M64.4 281.3h0.9M64.4 282.0h0.9M75.0 274.9h0.9M74.2 276.4h0.9M63.9 280.6h0.9M72.2 282.7h0.9M74.3 281.8h0.9M75.6 275.6h0.9M68.0 286.9h0.9M64.7 278.8h0.9M63.1 286.3h0.9M63.0 282.2h0.9M65.6 279.3h0.9M67.8 284.0h0.9" stroke="#26269c" stroke-opacity="0.6" stroke-width="0.9" fill="none"/>
<path d="M65.0 261.9h0.9M69.9 262.2h0.9M72.5 247.7h0.9M66.7 256.8h0.9M68.4 263.7h0.9M69.0 264.2h0.9M73.8 259.6h0.9M71.5 262.0h0.9M69.4 248.5h0.9M71.3 263.9h0.9M76.8 257.1h0.9M72.4 256.0h0.9M73.2 259.9h0.9M71.0 261.8h0.9M70.3 260.5h0.9M68.3 252.9h0.9M72.6 261.2h0.9M74.3 254.7h0.9M74.2 263.1h0.9M70.9 255.9h0.9M70.0 254.5h0.9M68.5 262.0h0.9M67.9 267.8h0.9M72.5 251.9h0.9M70.1 262.4h0.9M73.4 248.5h0.9M69.5 261.2h0.9M70.0 261.6h0.9M70.4 253.4h0.9M70.5 267.9h0.9M72.4 257.7h0.9M68.0 261.3h0.9M69.4 251.9h0.9M73.8 258.2h0.9M73.7 262.9h0.9M70.1 270.0h0.9M65.8 258.7h0.9M66.2 254.7h0.9M70.7 252.6h0.9M72.9 253.8h0.9M75.2 260.9h0.9M76.6 253.0h0.9M66.5 268.7h0.9M73.6 261.1h0.9M73.7 257.1h0.9M68.8 257.3h0.9M71.0 250.7h0.9M75.0 259.3h0.9M75.1 251.0h0.9M73.0 257.8h0.9M76.2 264.0h0.9M75.2 269.1h0.9M70.5 244.3h0.9M63.7 255.4h0.9M68.7 256.3h0.9M71.2 266.9h0.9M68.7 262.7h0.9M72.6 257.1h0.9M77.2 257.9h0.9M69.0 257.2h0.9M73.3 253.9h0.9M75.4 258.9h0.9M72.8 262.5h0.9M71.1 255.5h0.9M71.6 258.4h0.9M69.4 259.5h0.9M71.0 255.8h0.9M70.0 263.0h0.9M72.1 255.1h0.9M75.7 262.9h0.9M71.7 252.6h0.9M72.9 262.9h0.9M70.4 261.0h0.9M74.7 258.0h0.9M72.4 262.2h0.9M71.4 251.2h0.9M74.8 259.2h0.9M73.5 254.1h0.9M71.0 266.3h0.9M70.6 258.0h0.9" stroke="#62a890" stroke-opacity="0.5" stroke-width="0.9" fill="none"/>
<path d="M72.6 260.7h0.9M71.7 253.1h0.9M65.1 262.9h0.9M69.6 260.6h0.9M67.7 259.4h0.9M71.3 257.9h0.9M72.9 266.7h0.9M70.9 262.3h0.9M70.6 256.1h0.9M73.4 252.3h0.9M71.0 259.2h0.9M69.8 254.3h0.9M74.5 245.5h0.9M79.4 265.2h0.9M64.7 262.3h0.9M69.5 257.8h0.9M67.9 257.5h0.9M77.3 260.4h0.9M71.8 255.5h0.9M69.3 250.1h0.9M72.8 260.1h0.9M68.4 256.4h0.9M76.2 249.9h0.9M73.3 260.5h0.9M70.1 257.5h0.9M70.8 260.5h0.9M74.9 265.5h0.9M66.2 257.3h0.9M75.0 251.8h0.9M72.4 254.1h0.9M72.9 252.5h0.9M77.6 263.8h0.9M73.2 251.1h0.9M71.8 255.3h0.9M75.8 253.3h0.9M72.5 250.9h0.9M67.2 265.5h0.9M63.5 255.8h0.9M72.6 255.8h0.9M76.1 257.7h0.9M70.4 261.4h0.9M68.3 256.1h0.9M76.5 255.9h0.9M73.9 261.6h0.9M71.6 259.0h0.9M69.6 252.5h0.9M70.7 252.7h0.9M70.0 255.9h0.9M69.5 258.2h0.9M74.5 258.2h0.9M67.8 266.9h0.9M66.4 253.2h0.9M72.9 257.1h0.9M71.5 259.1h0.9M64.9 252.8h0.9M74.8 258.6h0.9M71.9 265.5h0.9M70.5 253.8h0.9M66.0 260.2h0.9M62.5 256.4h0.9M65.7 254.6h0.9M69.9 256.8h0.9M68.7 255.2h0.9M71.3 266.7h0.9M71.6 251.5h0.9M63.8 250.9h0.9M72.1 263.1h0.9M73.2 262.1h0.9M75.1 262.0h0.9M70.0 254.0h0.9M66.7 259.3h0.9M65.0 254.9h0.9M67.9 252.3h0.9M74.7 256.1h0.9M72.7 257.8h0.9M75.8 255.0h0.9M75.4 259.0h0.9M74.4 256.9h0.9M73.9 258.1h0.9M70.2 264.3h0.9" stroke="#62a890" stroke-opacity="0.5" stroke-width="0.9" fill="none"/>
<path d="M73.0 260.5h0.9M68.3 258.8h0.9M71.5 271.2h0.9M75.9 265.5h0.9M72.0 260.9h0.9M70.7 253.0h0.9M68.8 256.7h0.9M72.9 249.8h0.9M73.3 258.8h0.9M69.3 259.5h0.9M73.9 257.6h0.9M73.6 255.4h0.9M68.5 252.3h0.9M75.7 259.8h0.9M71.5 260.9h0.9M72.6 256.3h0.9M66.6 255.4h0.9M74.3 258.5h0.9M69.8 267.0h0.9M69.9 259.5h0.9M70.1 259.4h0.9M71.9 256.0h0.9M71.9 252.1h0.9M76.8 263.6h0.9M69.9 249.8h0.9M71.9 250.6h0.9M65.8 260.1h0.9M73.7 255.0h0.9M68.6 256.4h0.9M73.3 259.6h0.9M67.7 256.0h0.9M72.9 259.6h0.9M72.4 257.3h0.9M66.1 256.4h0.9M68.6 261.3h0.9M69.8 265.3h0.9M70.1 253.2h0.9M78.3 258.5h0.9M68.9 264.5h0.9M73.1 258.7h0.9M70.3 258.6h0.9M69.9 264.1h0.9M72.1 256.3h0.9M77.5 257.2h0.9M71.3 259.6h0.9M69.3 255.7h0.9M68.9 258.9h0.9M75.7 250.4h0.9M70.8 265.8h0.9M69.0 263.3h0.9M70.2 261.6h0.9M75.2 260.3h0.9M63.3 270.5h0.9M73.9 256.8h0.9M77.7 254.8h0.9M73.8 256.7h0.9M70.7 256.2h0.9M72.3 259.5h0.9M78.7 255.9h0.9M70.9 250.9h0.9M73.5 267.0h0.9M74.5 255.6h0.9M72.9 258.0h0.9M75.8 250.4h0.9M71.1 258.7h0.9M71.8 259.8h0.9M74.3 257.6h0.9M70.6 254.0h0.9M64.7 261.1h0.9M74.5 262.8h0.9M68.9 254.8h0.9M75.6 257.8h0.9M71.6 265.3h0.9M67.8 250.1h0.9M70.2 263.1h0.9M72.7 258.0h0.9M70.1 255.6h0.9M68.6 253.9h0.9M68.7 267.0h0.9M72.1 255.8h0.9" stroke="#62a890" stroke-opacity="0.5" stroke-width="0.9" fill="none"/>
</g>
<text x="87.00" y="40.30" font-size="6" fill="#3a7048" font-weight="bold" textLength="11.60" lengthAdjust="spacingAndGlyphs" >95%</text>
<text x="90.40" y="94.10" font-size="6" fill="#2e2e88" font-weight="bold" textLength="8.20" lengthAdjust="spacingAndGlyphs" >1%</text>
<text x="21.50" y="100.30" font-size="6" fill="#a83636" font-weight="bold" textLength="7.00" lengthAdjust="spacingAndGlyphs" >4%</text>
<text x="86.00" y="134.30" font-size="6" fill="#3a7048" font-weight="bold" textLength="11.50" lengthAdjust="spacingAndGlyphs" >48%</text>
<text x="88.00" y="188.40" font-size="6" fill="#2e2e88" font-weight="bold" textLength="11.00" lengthAdjust="spacingAndGlyphs" >47%</text>
<text x="21.70" y="194.30" font-size="6" fill="#a83636" font-weight="bold" textLength="7.00" lengthAdjust="spacingAndGlyphs" >4%</text>
<text x="85.50" y="231.30" font-size="6" fill="#3a7048" font-weight="bold" textLength="11.50" lengthAdjust="spacingAndGlyphs" >22%</text>
<text x="87.00" y="284.80" font-size="6" fill="#2e2e88" font-weight="bold" textLength="11.00" lengthAdjust="spacingAndGlyphs" >39%</text>
<text x="17.50" y="291.80" font-size="6" fill="#a83636" font-weight="bold" textLength="10.80" lengthAdjust="spacingAndGlyphs" >38%</text>
<path d="M107.5 61.5L114.5 61.5L114.5 58.0L124.5 63.9L114.5 69.8L114.5 66.3L107.5 66.3Z" fill="url(#ag)" stroke="#1e1e1e" stroke-width="0.95" stroke-linejoin="miter"/>
<path d="M106.6 156.0L113.6 156.0L113.6 152.5L123.2 158.4L113.6 164.3L113.6 160.8L106.6 160.8Z" fill="url(#ag)" stroke="#1e1e1e" stroke-width="0.95" stroke-linejoin="miter"/>
<path d="M106.9 258.5L113.9 258.5L113.9 255.0L123.6 260.9L113.9 266.8L113.9 263.3L106.9 263.3Z" fill="url(#ag)" stroke="#1e1e1e" stroke-width="0.95" stroke-linejoin="miter"/>
<line x1="137.50" y1="21.50" x2="137.50" y2="302.20" stroke="#444" stroke-width="1.3" />
<line x1="137.50" y1="302.20" x2="395.50" y2="302.20" stroke="#333" stroke-width="1.3" />
<path d="M135.8 23.2L137.5 18.6L139.2 23.2Z" fill="#333"/>
<path d="M394.4 300.5L399.4 302.2L394.4 303.9Z" fill="#222"/>
<text transform="translate(132.9,171.5) rotate(-90)" x="0" y="0" font-size="7" fill="#444" textLength="27.5" lengthAdjust="spacingAndGlyphs">IFN-γ PE</text>
<text x="257.40" y="310.50" font-size="7.1" fill="#444" textLength="31.80" lengthAdjust="spacingAndGlyphs" >CD56 Pc5</text>
<text x="156.60" y="108.20" font-size="4.4" fill="#666" text-anchor="middle" >0</text>
<text x="163.90" y="108.20" font-size="4.4" fill="#666" text-anchor="middle" >10²</text>
<text x="181.90" y="108.20" font-size="4.4" fill="#666" text-anchor="middle" >10³</text>
<text x="198.90" y="108.20" font-size="4.4" fill="#666" text-anchor="middle" >10⁴</text>
<text x="214.90" y="108.20" font-size="4.4" fill="#666" text-anchor="middle" >10⁵</text>
<text x="146.40" y="94.50" font-size="4.4" fill="#666" text-anchor="end" >0</text>
<text x="146.40" y="87.20" font-size="4.4" fill="#666" text-anchor="end" >10²</text>
<text x="146.40" y="69.20" font-size="4.4" fill="#666" text-anchor="end" >10³</text>
<text x="146.40" y="52.20" font-size="4.4" fill="#666" text-anchor="end" >10⁴</text>
<text x="146.40" y="36.20" font-size="4.4" fill="#666" text-anchor="end" >10⁵</text>
<path d="M156.60 101.20v2.0M148.40 93.00h-2.0M163.90 101.20v2.0M148.40 85.70h-2.0M169.32 101.20v1.2M148.40 80.28h-1.2M172.49 101.20v1.2M148.40 77.11h-1.2M174.74 101.20v1.2M148.40 74.86h-1.2M176.48 101.20v1.2M148.40 73.12h-1.2M177.91 101.20v1.2M148.40 71.69h-1.2M179.11 101.20v1.2M148.40 70.49h-1.2M180.16 101.20v1.2M148.40 69.44h-1.2M181.08 101.20v1.2M148.40 68.52h-1.2M181.90 101.20v2.0M148.40 67.70h-2.0M187.02 101.20v1.2M148.40 62.58h-1.2M190.01 101.20v1.2M148.40 59.59h-1.2M192.14 101.20v1.2M148.40 57.46h-1.2M193.78 101.20v1.2M148.40 55.82h-1.2M195.13 101.20v1.2M148.40 54.47h-1.2M196.27 101.20v1.2M148.40 53.33h-1.2M197.25 101.20v1.2M148.40 52.35h-1.2M198.12 101.20v1.2M148.40 51.48h-1.2M198.90 101.20v2.0M148.40 50.70h-2.0M203.72 101.20v1.2M148.40 45.88h-1.2M206.53 101.20v1.2M148.40 43.07h-1.2M208.53 101.20v1.2M148.40 41.07h-1.2M210.08 101.20v1.2M148.40 39.52h-1.2M211.35 101.20v1.2M148.40 38.25h-1.2M212.42 101.20v1.2M148.40 37.18h-1.2M213.35 101.20v1.2M148.40 36.25h-1.2M214.17 101.20v1.2M148.40 35.43h-1.2M214.90 101.20v2.0M148.40 34.70h-2.0" stroke="#333" stroke-width="0.75" fill="none"/>
<rect x="148.40" y="28.80" width="73.00" height="72.40" fill="none" stroke="#8a8a8a" stroke-width="0.9" />
<line x1="148.40" y1="28.80" x2="148.40" y2="101.50" stroke="#3a3a3a" stroke-width="0.95" />
<line x1="148.10" y1="101.20" x2="221.40" y2="101.20" stroke="#3a3a3a" stroke-width="0.95" />
<text x="242.20" y="108.20" font-size="4.4" fill="#666" text-anchor="middle" >0</text>
<text x="249.50" y="108.20" font-size="4.4" fill="#666" text-anchor="middle" >10²</text>
<text x="267.50" y="108.20" font-size="4.4" fill="#666" text-anchor="middle" >10³</text>
<text x="284.50" y="108.20" font-size="4.4" fill="#666" text-anchor="middle" >10⁴</text>
<text x="300.50" y="108.20" font-size="4.4" fill="#666" text-anchor="middle" >10⁵</text>
<text x="232.00" y="94.50" font-size="4.4" fill="#666" text-anchor="end" >0</text>
<text x="232.00" y="87.20" font-size="4.4" fill="#666" text-anchor="end" >10²</text>
<text x="232.00" y="69.20" font-size="4.4" fill="#666" text-anchor="end" >10³</text>
<text x="232.00" y="52.20" font-size="4.4" fill="#666" text-anchor="end" >10⁴</text>
<text x="232.00" y="36.20" font-size="4.4" fill="#666" text-anchor="end" >10⁵</text>
<path d="M242.20 101.20v2.0M234.00 93.00h-2.0M249.50 101.20v2.0M234.00 85.70h-2.0M254.92 101.20v1.2M234.00 80.28h-1.2M258.09 101.20v1.2M234.00 77.11h-1.2M260.34 101.20v1.2M234.00 74.86h-1.2M262.08 101.20v1.2M234.00 73.12h-1.2M263.51 101.20v1.2M234.00 71.69h-1.2M264.71 101.20v1.2M234.00 70.49h-1.2M265.76 101.20v1.2M234.00 69.44h-1.2M266.68 101.20v1.2M234.00 68.52h-1.2M267.50 101.20v2.0M234.00 67.70h-2.0M272.62 101.20v1.2M234.00 62.58h-1.2M275.61 101.20v1.2M234.00 59.59h-1.2M277.74 101.20v1.2M234.00 57.46h-1.2M279.38 101.20v1.2M234.00 55.82h-1.2M280.73 101.20v1.2M234.00 54.47h-1.2M281.87 101.20v1.2M234.00 53.33h-1.2M282.85 101.20v1.2M234.00 52.35h-1.2M283.72 101.20v1.2M234.00 51.48h-1.2M284.50 101.20v2.0M234.00 50.70h-2.0M289.32 101.20v1.2M234.00 45.88h-1.2M292.13 101.20v1.2M234.00 43.07h-1.2M294.13 101.20v1.2M234.00 41.07h-1.2M295.68 101.20v1.2M234.00 39.52h-1.2M296.95 101.20v1.2M234.00 38.25h-1.2M298.02 101.20v1.2M234.00 37.18h-1.2M298.95 101.20v1.2M234.00 36.25h-1.2M299.77 101.20v1.2M234.00 35.43h-1.2M300.50 101.20v2.0M234.00 34.70h-2.0" stroke="#333" stroke-width="0.75" fill="none"/>
<rect x="234.00" y="28.80" width="73.00" height="72.40" fill="none" stroke="#8a8a8a" stroke-width="0.9" />
<line x1="234.00" y1="28.80" x2="234.00" y2="101.50" stroke="#3a3a3a" stroke-width="0.95" />
<line x1="233.70" y1="101.20" x2="307.00" y2="101.20" stroke="#3a3a3a" stroke-width="0.95" />
<text x="325.70" y="108.20" font-size="4.4" fill="#666" text-anchor="middle" >0</text>
<text x="333.00" y="108.20" font-size="4.4" fill="#666" text-anchor="middle" >10²</text>
<text x="351.00" y="108.20" font-size="4.4" fill="#666" text-anchor="middle" >10³</text>
<text x="368.00" y="108.20" font-size="4.4" fill="#666" text-anchor="middle" >10⁴</text>
<text x="384.00" y="108.20" font-size="4.4" fill="#666" text-anchor="middle" >10⁵</text>
<text x="315.50" y="94.50" font-size="4.4" fill="#666" text-anchor="end" >0</text>
<text x="315.50" y="87.20" font-size="4.4" fill="#666" text-anchor="end" >10²</text>
<text x="315.50" y="69.20" font-size="4.4" fill="#666" text-anchor="end" >10³</text>
<text x="315.50" y="52.20" font-size="4.4" fill="#666" text-anchor="end" >10⁴</text>
<text x="315.50" y="36.20" font-size="4.4" fill="#666" text-anchor="end" >10⁵</text>
<path d="M325.70 101.20v2.0M317.50 93.00h-2.0M333.00 101.20v2.0M317.50 85.70h-2.0M338.42 101.20v1.2M317.50 80.28h-1.2M341.59 101.20v1.2M317.50 77.11h-1.2M343.84 101.20v1.2M317.50 74.86h-1.2M345.58 101.20v1.2M317.50 73.12h-1.2M347.01 101.20v1.2M317.50 71.69h-1.2M348.21 101.20v1.2M317.50 70.49h-1.2M349.26 101.20v1.2M317.50 69.44h-1.2M350.18 101.20v1.2M317.50 68.52h-1.2M351.00 101.20v2.0M317.50 67.70h-2.0M356.12 101.20v1.2M317.50 62.58h-1.2M359.11 101.20v1.2M317.50 59.59h-1.2M361.24 101.20v1.2M317.50 57.46h-1.2M362.88 101.20v1.2M317.50 55.82h-1.2M364.23 101.20v1.2M317.50 54.47h-1.2M365.37 101.20v1.2M317.50 53.33h-1.2M366.35 101.20v1.2M317.50 52.35h-1.2M367.22 101.20v1.2M317.50 51.48h-1.2M368.00 101.20v2.0M317.50 50.70h-2.0M372.82 101.20v1.2M317.50 45.88h-1.2M375.63 101.20v1.2M317.50 43.07h-1.2M377.63 101.20v1.2M317.50 41.07h-1.2M379.18 101.20v1.2M317.50 39.52h-1.2M380.45 101.20v1.2M317.50 38.25h-1.2M381.52 101.20v1.2M317.50 37.18h-1.2M382.45 101.20v1.2M317.50 36.25h-1.2M383.27 101.20v1.2M317.50 35.43h-1.2M384.00 101.20v2.0M317.50 34.70h-2.0" stroke="#333" stroke-width="0.75" fill="none"/>
<rect x="317.50" y="28.80" width="73.10" height="72.40" fill="none" stroke="#8a8a8a" stroke-width="0.9" />
<line x1="317.50" y1="28.80" x2="317.50" y2="101.50" stroke="#3a3a3a" stroke-width="0.95" />
<line x1="317.20" y1="101.20" x2="390.60" y2="101.20" stroke="#3a3a3a" stroke-width="0.95" />
<text x="156.60" y="202.80" font-size="4.4" fill="#666" text-anchor="middle" >0</text>
<text x="163.90" y="202.80" font-size="4.4" fill="#666" text-anchor="middle" >10²</text>
<text x="181.90" y="202.80" font-size="4.4" fill="#666" text-anchor="middle" >10³</text>
<text x="198.90" y="202.80" font-size="4.4" fill="#666" text-anchor="middle" >10⁴</text>
<text x="214.90" y="202.80" font-size="4.4" fill="#666" text-anchor="middle" >10⁵</text>
<text x="146.40" y="189.10" font-size="4.4" fill="#666" text-anchor="end" >0</text>
<text x="146.40" y="181.80" font-size="4.4" fill="#666" text-anchor="end" >10²</text>
<text x="146.40" y="163.80" font-size="4.4" fill="#666" text-anchor="end" >10³</text>
<text x="146.40" y="146.80" font-size="4.4" fill="#666" text-anchor="end" >10⁴</text>
<text x="146.40" y="130.80" font-size="4.4" fill="#666" text-anchor="end" >10⁵</text>
<path d="M156.60 195.80v2.0M148.40 187.60h-2.0M163.90 195.80v2.0M148.40 180.30h-2.0M169.32 195.80v1.2M148.40 174.88h-1.2M172.49 195.80v1.2M148.40 171.71h-1.2M174.74 195.80v1.2M148.40 169.46h-1.2M176.48 195.80v1.2M148.40 167.72h-1.2M177.91 195.80v1.2M148.40 166.29h-1.2M179.11 195.80v1.2M148.40 165.09h-1.2M180.16 195.80v1.2M148.40 164.04h-1.2M181.08 195.80v1.2M148.40 163.12h-1.2M181.90 195.80v2.0M148.40 162.30h-2.0M187.02 195.80v1.2M148.40 157.18h-1.2M190.01 195.80v1.2M148.40 154.19h-1.2M192.14 195.80v1.2M148.40 152.06h-1.2M193.78 195.80v1.2M148.40 150.42h-1.2M195.13 195.80v1.2M148.40 149.07h-1.2M196.27 195.80v1.2M148.40 147.93h-1.2M197.25 195.80v1.2M148.40 146.95h-1.2M198.12 195.80v1.2M148.40 146.08h-1.2M198.90 195.80v2.0M148.40 145.30h-2.0M203.72 195.80v1.2M148.40 140.48h-1.2M206.53 195.80v1.2M148.40 137.67h-1.2M208.53 195.80v1.2M148.40 135.67h-1.2M210.08 195.80v1.2M148.40 134.12h-1.2M211.35 195.80v1.2M148.40 132.85h-1.2M212.42 195.80v1.2M148.40 131.78h-1.2M213.35 195.80v1.2M148.40 130.85h-1.2M214.17 195.80v1.2M148.40 130.03h-1.2M214.90 195.80v2.0M148.40 129.30h-2.0" stroke="#333" stroke-width="0.75" fill="none"/>
<rect x="148.40" y="123.30" width="73.00" height="72.50" fill="none" stroke="#8a8a8a" stroke-width="0.9" />
<line x1="148.40" y1="123.30" x2="148.40" y2="196.10" stroke="#3a3a3a" stroke-width="0.95" />
<line x1="148.10" y1="195.80" x2="221.40" y2="195.80" stroke="#3a3a3a" stroke-width="0.95" />
<text x="242.20" y="202.80" font-size="4.4" fill="#666" text-anchor="middle" >0</text>
<text x="249.50" y="202.80" font-size="4.4" fill="#666" text-anchor="middle" >10²</text>
<text x="267.50" y="202.80" font-size="4.4" fill="#666" text-anchor="middle" >10³</text>
<text x="284.50" y="202.80" font-size="4.4" fill="#666" text-anchor="middle" >10⁴</text>
<text x="300.50" y="202.80" font-size="4.4" fill="#666" text-anchor="middle" >10⁵</text>
<text x="232.00" y="189.10" font-size="4.4" fill="#666" text-anchor="end" >0</text>
<text x="232.00" y="181.80" font-size="4.4" fill="#666" text-anchor="end" >10²</text>
<text x="232.00" y="163.80" font-size="4.4" fill="#666" text-anchor="end" >10³</text>
<text x="232.00" y="146.80" font-size="4.4" fill="#666" text-anchor="end" >10⁴</text>
<text x="232.00" y="130.80" font-size="4.4" fill="#666" text-anchor="end" >10⁵</text>
<path d="M242.20 195.80v2.0M234.00 187.60h-2.0M249.50 195.80v2.0M234.00 180.30h-2.0M254.92 195.80v1.2M234.00 174.88h-1.2M258.09 195.80v1.2M234.00 171.71h-1.2M260.34 195.80v1.2M234.00 169.46h-1.2M262.08 195.80v1.2M234.00 167.72h-1.2M263.51 195.80v1.2M234.00 166.29h-1.2M264.71 195.80v1.2M234.00 165.09h-1.2M265.76 195.80v1.2M234.00 164.04h-1.2M266.68 195.80v1.2M234.00 163.12h-1.2M267.50 195.80v2.0M234.00 162.30h-2.0M272.62 195.80v1.2M234.00 157.18h-1.2M275.61 195.80v1.2M234.00 154.19h-1.2M277.74 195.80v1.2M234.00 152.06h-1.2M279.38 195.80v1.2M234.00 150.42h-1.2M280.73 195.80v1.2M234.00 149.07h-1.2M281.87 195.80v1.2M234.00 147.93h-1.2M282.85 195.80v1.2M234.00 146.95h-1.2M283.72 195.80v1.2M234.00 146.08h-1.2M284.50 195.80v2.0M234.00 145.30h-2.0M289.32 195.80v1.2M234.00 140.48h-1.2M292.13 195.80v1.2M234.00 137.67h-1.2M294.13 195.80v1.2M234.00 135.67h-1.2M295.68 195.80v1.2M234.00 134.12h-1.2M296.95 195.80v1.2M234.00 132.85h-1.2M298.02 195.80v1.2M234.00 131.78h-1.2M298.95 195.80v1.2M234.00 130.85h-1.2M299.77 195.80v1.2M234.00 130.03h-1.2M300.50 195.80v2.0M234.00 129.30h-2.0" stroke="#333" stroke-width="0.75" fill="none"/>
<rect x="234.00" y="123.30" width="73.00" height="72.50" fill="none" stroke="#8a8a8a" stroke-width="0.9" />
<line x1="234.00" y1="123.30" x2="234.00" y2="196.10" stroke="#3a3a3a" stroke-width="0.95" />
<line x1="233.70" y1="195.80" x2="307.00" y2="195.80" stroke="#3a3a3a" stroke-width="0.95" />
<text x="325.70" y="202.80" font-size="4.4" fill="#666" text-anchor="middle" >0</text>
<text x="333.00" y="202.80" font-size="4.4" fill="#666" text-anchor="middle" >10²</text>
<text x="351.00" y="202.80" font-size="4.4" fill="#666" text-anchor="middle" >10³</text>
<text x="368.00" y="202.80" font-size="4.4" fill="#666" text-anchor="middle" >10⁴</text>
<text x="384.00" y="202.80" font-size="4.4" fill="#666" text-anchor="middle" >10⁵</text>
<text x="315.50" y="189.10" font-size="4.4" fill="#666" text-anchor="end" >0</text>
<text x="315.50" y="181.80" font-size="4.4" fill="#666" text-anchor="end" >10²</text>
<text x="315.50" y="163.80" font-size="4.4" fill="#666" text-anchor="end" >10³</text>
<text x="315.50" y="146.80" font-size="4.4" fill="#666" text-anchor="end" >10⁴</text>
<text x="315.50" y="130.80" font-size="4.4" fill="#666" text-anchor="end" >10⁵</text>
<path d="M325.70 195.80v2.0M317.50 187.60h-2.0M333.00 195.80v2.0M317.50 180.30h-2.0M338.42 195.80v1.2M317.50 174.88h-1.2M341.59 195.80v1.2M317.50 171.71h-1.2M343.84 195.80v1.2M317.50 169.46h-1.2M345.58 195.80v1.2M317.50 167.72h-1.2M347.01 195.80v1.2M317.50 166.29h-1.2M348.21 195.80v1.2M317.50 165.09h-1.2M349.26 195.80v1.2M317.50 164.04h-1.2M350.18 195.80v1.2M317.50 163.12h-1.2M351.00 195.80v2.0M317.50 162.30h-2.0M356.12 195.80v1.2M317.50 157.18h-1.2M359.11 195.80v1.2M317.50 154.19h-1.2M361.24 195.80v1.2M317.50 152.06h-1.2M362.88 195.80v1.2M317.50 150.42h-1.2M364.23 195.80v1.2M317.50 149.07h-1.2M365.37 195.80v1.2M317.50 147.93h-1.2M366.35 195.80v1.2M317.50 146.95h-1.2M367.22 195.80v1.2M317.50 146.08h-1.2M368.00 195.80v2.0M317.50 145.30h-2.0M372.82 195.80v1.2M317.50 140.48h-1.2M375.63 195.80v1.2M317.50 137.67h-1.2M377.63 195.80v1.2M317.50 135.67h-1.2M379.18 195.80v1.2M317.50 134.12h-1.2M380.45 195.80v1.2M317.50 132.85h-1.2M381.52 195.80v1.2M317.50 131.78h-1.2M382.45 195.80v1.2M317.50 130.85h-1.2M383.27 195.80v1.2M317.50 130.03h-1.2M384.00 195.80v2.0M317.50 129.30h-2.0" stroke="#333" stroke-width="0.75" fill="none"/>
<rect x="317.50" y="123.30" width="73.10" height="72.50" fill="none" stroke="#8a8a8a" stroke-width="0.9" />
<line x1="317.50" y1="123.30" x2="317.50" y2="196.10" stroke="#3a3a3a" stroke-width="0.95" />
<line x1="317.20" y1="195.80" x2="390.60" y2="195.80" stroke="#3a3a3a" stroke-width="0.95" />
<text x="156.60" y="300.00" font-size="4.4" fill="#666" text-anchor="middle" >0</text>
<text x="163.90" y="300.00" font-size="4.4" fill="#666" text-anchor="middle" >10²</text>
<text x="181.90" y="300.00" font-size="4.4" fill="#666" text-anchor="middle" >10³</text>
<text x="198.90" y="300.00" font-size="4.4" fill="#666" text-anchor="middle" >10⁴</text>
<text x="214.90" y="300.00" font-size="4.4" fill="#666" text-anchor="middle" >10⁵</text>
<text x="146.40" y="286.30" font-size="4.4" fill="#666" text-anchor="end" >0</text>
<text x="146.40" y="279.00" font-size="4.4" fill="#666" text-anchor="end" >10²</text>
<text x="146.40" y="261.00" font-size="4.4" fill="#666" text-anchor="end" >10³</text>
<text x="146.40" y="244.00" font-size="4.4" fill="#666" text-anchor="end" >10⁴</text>
<text x="146.40" y="228.00" font-size="4.4" fill="#666" text-anchor="end" >10⁵</text>
<path d="M156.60 293.00v2.0M148.40 284.80h-2.0M163.90 293.00v2.0M148.40 277.50h-2.0M169.32 293.00v1.2M148.40 272.08h-1.2M172.49 293.00v1.2M148.40 268.91h-1.2M174.74 293.00v1.2M148.40 266.66h-1.2M176.48 293.00v1.2M148.40 264.92h-1.2M177.91 293.00v1.2M148.40 263.49h-1.2M179.11 293.00v1.2M148.40 262.29h-1.2M180.16 293.00v1.2M148.40 261.24h-1.2M181.08 293.00v1.2M148.40 260.32h-1.2M181.90 293.00v2.0M148.40 259.50h-2.0M187.02 293.00v1.2M148.40 254.38h-1.2M190.01 293.00v1.2M148.40 251.39h-1.2M192.14 293.00v1.2M148.40 249.26h-1.2M193.78 293.00v1.2M148.40 247.62h-1.2M195.13 293.00v1.2M148.40 246.27h-1.2M196.27 293.00v1.2M148.40 245.13h-1.2M197.25 293.00v1.2M148.40 244.15h-1.2M198.12 293.00v1.2M148.40 243.28h-1.2M198.90 293.00v2.0M148.40 242.50h-2.0M203.72 293.00v1.2M148.40 237.68h-1.2M206.53 293.00v1.2M148.40 234.87h-1.2M208.53 293.00v1.2M148.40 232.87h-1.2M210.08 293.00v1.2M148.40 231.32h-1.2M211.35 293.00v1.2M148.40 230.05h-1.2M212.42 293.00v1.2M148.40 228.98h-1.2M213.35 293.00v1.2M148.40 228.05h-1.2M214.17 293.00v1.2M148.40 227.23h-1.2M214.90 293.00v2.0M148.40 226.50h-2.0" stroke="#333" stroke-width="0.75" fill="none"/>
<rect x="148.40" y="220.00" width="73.00" height="73.00" fill="none" stroke="#8a8a8a" stroke-width="0.9" />
<line x1="148.40" y1="220.00" x2="148.40" y2="293.30" stroke="#3a3a3a" stroke-width="0.95" />
<line x1="148.10" y1="293.00" x2="221.40" y2="293.00" stroke="#3a3a3a" stroke-width="0.95" />
<text x="242.20" y="300.00" font-size="4.4" fill="#666" text-anchor="middle" >0</text>
<text x="249.50" y="300.00" font-size="4.4" fill="#666" text-anchor="middle" >10²</text>
<text x="267.50" y="300.00" font-size="4.4" fill="#666" text-anchor="middle" >10³</text>
<text x="284.50" y="300.00" font-size="4.4" fill="#666" text-anchor="middle" >10⁴</text>
<text x="300.50" y="300.00" font-size="4.4" fill="#666" text-anchor="middle" >10⁵</text>
<text x="232.00" y="286.30" font-size="4.4" fill="#666" text-anchor="end" >0</text>
<text x="232.00" y="279.00" font-size="4.4" fill="#666" text-anchor="end" >10²</text>
<text x="232.00" y="261.00" font-size="4.4" fill="#666" text-anchor="end" >10³</text>
<text x="232.00" y="244.00" font-size="4.4" fill="#666" text-anchor="end" >10⁴</text>
<text x="232.00" y="228.00" font-size="4.4" fill="#666" text-anchor="end" >10⁵</text>
<path d="M242.20 293.00v2.0M234.00 284.80h-2.0M249.50 293.00v2.0M234.00 277.50h-2.0M254.92 293.00v1.2M234.00 272.08h-1.2M258.09 293.00v1.2M234.00 268.91h-1.2M260.34 293.00v1.2M234.00 266.66h-1.2M262.08 293.00v1.2M234.00 264.92h-1.2M263.51 293.00v1.2M234.00 263.49h-1.2M264.71 293.00v1.2M234.00 262.29h-1.2M265.76 293.00v1.2M234.00 261.24h-1.2M266.68 293.00v1.2M234.00 260.32h-1.2M267.50 293.00v2.0M234.00 259.50h-2.0M272.62 293.00v1.2M234.00 254.38h-1.2M275.61 293.00v1.2M234.00 251.39h-1.2M277.74 293.00v1.2M234.00 249.26h-1.2M279.38 293.00v1.2M234.00 247.62h-1.2M280.73 293.00v1.2M234.00 246.27h-1.2M281.87 293.00v1.2M234.00 245.13h-1.2M282.85 293.00v1.2M234.00 244.15h-1.2M283.72 293.00v1.2M234.00 243.28h-1.2M284.50 293.00v2.0M234.00 242.50h-2.0M289.32 293.00v1.2M234.00 237.68h-1.2M292.13 293.00v1.2M234.00 234.87h-1.2M294.13 293.00v1.2M234.00 232.87h-1.2M295.68 293.00v1.2M234.00 231.32h-1.2M296.95 293.00v1.2M234.00 230.05h-1.2M298.02 293.00v1.2M234.00 228.98h-1.2M298.95 293.00v1.2M234.00 228.05h-1.2M299.77 293.00v1.2M234.00 227.23h-1.2M300.50 293.00v2.0M234.00 226.50h-2.0" stroke="#333" stroke-width="0.75" fill="none"/>
<rect x="234.00" y="220.00" width="73.00" height="73.00" fill="none" stroke="#8a8a8a" stroke-width="0.9" />
<line x1="234.00" y1="220.00" x2="234.00" y2="293.30" stroke="#3a3a3a" stroke-width="0.95" />
<line x1="233.70" y1="293.00" x2="307.00" y2="293.00" stroke="#3a3a3a" stroke-width="0.95" />
<text x="325.70" y="300.00" font-size="4.4" fill="#666" text-anchor="middle" >0</text>
<text x="333.00" y="300.00" font-size="4.4" fill="#666" text-anchor="middle" >10²</text>
<text x="351.00" y="300.00" font-size="4.4" fill="#666" text-anchor="middle" >10³</text>
<text x="368.00" y="300.00" font-size="4.4" fill="#666" text-anchor="middle" >10⁴</text>
<text x="384.00" y="300.00" font-size="4.4" fill="#666" text-anchor="middle" >10⁵</text>
<text x="315.50" y="286.30" font-size="4.4" fill="#666" text-anchor="end" >0</text>
<text x="315.50" y="279.00" font-size="4.4" fill="#666" text-anchor="end" >10²</text>
<text x="315.50" y="261.00" font-size="4.4" fill="#666" text-anchor="end" >10³</text>
<text x="315.50" y="244.00" font-size="4.4" fill="#666" text-anchor="end" >10⁴</text>
<text x="315.50" y="228.00" font-size="4.4" fill="#666" text-anchor="end" >10⁵</text>
<path d="M325.70 293.00v2.0M317.50 284.80h-2.0M333.00 293.00v2.0M317.50 277.50h-2.0M338.42 293.00v1.2M317.50 272.08h-1.2M341.59 293.00v1.2M317.50 268.91h-1.2M343.84 293.00v1.2M317.50 266.66h-1.2M345.58 293.00v1.2M317.50 264.92h-1.2M347.01 293.00v1.2M317.50 263.49h-1.2M348.21 293.00v1.2M317.50 262.29h-1.2M349.26 293.00v1.2M317.50 261.24h-1.2M350.18 293.00v1.2M317.50 260.32h-1.2M351.00 293.00v2.0M317.50 259.50h-2.0M356.12 293.00v1.2M317.50 254.38h-1.2M359.11 293.00v1.2M317.50 251.39h-1.2M361.24 293.00v1.2M317.50 249.26h-1.2M362.88 293.00v1.2M317.50 247.62h-1.2M364.23 293.00v1.2M317.50 246.27h-1.2M365.37 293.00v1.2M317.50 245.13h-1.2M366.35 293.00v1.2M317.50 244.15h-1.2M367.22 293.00v1.2M317.50 243.28h-1.2M368.00 293.00v2.0M317.50 242.50h-2.0M372.82 293.00v1.2M317.50 237.68h-1.2M375.63 293.00v1.2M317.50 234.87h-1.2M377.63 293.00v1.2M317.50 232.87h-1.2M379.18 293.00v1.2M317.50 231.32h-1.2M380.45 293.00v1.2M317.50 230.05h-1.2M381.52 293.00v1.2M317.50 228.98h-1.2M382.45 293.00v1.2M317.50 228.05h-1.2M383.27 293.00v1.2M317.50 227.23h-1.2M384.00 293.00v2.0M317.50 226.50h-2.0" stroke="#333" stroke-width="0.75" fill="none"/>
<rect x="317.50" y="220.00" width="73.10" height="73.00" fill="none" stroke="#8a8a8a" stroke-width="0.9" />
<line x1="317.50" y1="220.00" x2="317.50" y2="293.30" stroke="#3a3a3a" stroke-width="0.95" />
<line x1="317.20" y1="293.00" x2="390.60" y2="293.00" stroke="#3a3a3a" stroke-width="0.95" />
<g filter="url(#bl)">
<path d="M187.8 66.3h0.9M205.5 64.9h0.9M193.3 62.3h0.9M184.0 77.5h0.9M201.1 65.4h0.9M192.4 58.3h0.9M196.3 59.1h0.9M185.7 78.7h0.9M160.3 60.8h0.9M186.0 69.4h0.9M181.2 80.5h0.9M187.0 67.2h0.9M178.9 99.7h0.9M190.0 80.5h0.9M184.4 61.5h0.9M187.8 93.3h0.9M170.3 57.4h0.9M182.0 92.2h0.9M170.9 67.3h0.9M189.4 82.2h0.9M184.9 78.0h0.9M185.5 87.0h0.9M204.9 80.7h0.9M195.0 70.2h0.9M173.2 77.9h0.9M176.4 65.9h0.9M200.3 58.4h0.9M185.2 93.6h0.9M187.8 70.7h0.9M166.6 74.4h0.9M186.3 84.8h0.9M192.0 82.4h0.9M173.6 71.4h0.9M177.0 76.0h0.9M201.8 47.9h0.9M211.7 69.9h0.9" stroke="#9a9a9a" stroke-opacity="0.3" stroke-width="0.9" fill="none"/>
<path d="M175.7 76.1h0.9M184.6 59.4h0.9M180.1 70.4h0.9M181.0 87.4h0.9M196.4 78.3h0.9M187.3 72.1h0.9M178.7 77.1h0.9M196.3 76.7h0.9M189.5 50.9h0.9M181.9 87.8h0.9M197.7 77.8h0.9M171.9 88.3h0.9M185.0 62.4h0.9M184.1 83.7h0.9M190.4 96.5h0.9M179.8 83.8h0.9M189.7 86.3h0.9M164.2 81.0h0.9M185.8 78.3h0.9M188.5 95.3h0.9M185.5 89.8h0.9M181.3 89.1h0.9M185.1 64.1h0.9M191.1 99.4h0.9M192.5 85.1h0.9M183.3 81.1h0.9M201.2 87.4h0.9M193.9 57.4h0.9M182.6 70.2h0.9M191.3 85.3h0.9M186.1 69.8h0.9M194.2 83.2h0.9M175.7 70.0h0.9M201.1 88.0h0.9M195.5 74.0h0.9M187.5 63.2h0.9M186.4 69.6h0.9" stroke="#9a9a9a" stroke-opacity="0.3" stroke-width="0.9" fill="none"/>
<path d="M157.7 91.8h0.9M187.7 80.5h0.9M211.2 91.7h0.9M198.3 90.5h0.9M190.4 78.4h0.9M189.2 73.2h0.9M188.4 56.6h0.9M190.0 76.9h0.9M189.5 77.7h0.9M182.4 64.1h0.9M179.9 54.0h0.9M175.2 86.5h0.9M201.1 83.7h0.9M192.4 63.2h0.9M197.9 97.3h0.9M182.5 77.8h0.9M173.4 70.0h0.9M203.6 75.4h0.9M187.4 79.8h0.9M186.2 78.8h0.9M180.4 86.2h0.9M193.3 78.2h0.9M190.0 74.1h0.9M175.0 65.9h0.9M205.0 80.3h0.9M190.3 87.8h0.9M168.8 97.1h0.9M182.6 81.7h0.9M176.9 64.8h0.9M180.1 76.4h0.9M197.0 66.5h0.9M190.4 78.9h0.9M186.8 94.0h0.9M175.0 84.9h0.9M183.1 61.3h0.9" stroke="#9a9a9a" stroke-opacity="0.3" stroke-width="0.9" fill="none"/>
<path d="M181.9 83.2h0.9M181.6 84.7h0.9M187.0 82.3h0.9M185.4 85.0h0.9M184.4 84.6h0.9M181.9 83.9h0.9M185.2 87.2h0.9M188.2 84.6h0.9M190.4 83.8h0.9M187.8 82.1h0.9M192.3 86.5h0.9M183.7 86.3h0.9M188.1 84.3h0.9M187.4 79.9h0.9M187.9 81.4h0.9M184.7 84.5h0.9M188.8 87.3h0.9M185.2 81.0h0.9M194.1 86.4h0.9M181.9 82.8h0.9M183.1 89.8h0.9M182.5 86.6h0.9M175.0 84.2h0.9M178.7 83.9h0.9M184.6 83.6h0.9M188.2 83.0h0.9M189.9 84.0h0.9M190.5 86.8h0.9M187.4 85.5h0.9M194.2 83.3h0.9M191.7 84.4h0.9M180.1 80.3h0.9M185.2 90.5h0.9M185.6 84.3h0.9M188.2 85.9h0.9M187.5 80.9h0.9M178.4 82.1h0.9M184.3 83.0h0.9M191.0 85.0h0.9M183.6 82.7h0.9M186.5 81.0h0.9M188.9 83.6h0.9M184.4 82.0h0.9M187.5 80.1h0.9M191.9 85.3h0.9M181.0 85.2h0.9M189.9 84.5h0.9M192.4 82.3h0.9M183.2 81.6h0.9M188.1 84.9h0.9M193.5 81.8h0.9M187.4 82.0h0.9M190.9 86.0h0.9M183.6 83.6h0.9M182.6 80.9h0.9M176.5 82.6h0.9M191.2 84.1h0.9M184.8 81.3h0.9M188.6 87.4h0.9M185.2 89.6h0.9M186.2 83.6h0.9M183.4 84.2h0.9M181.4 83.0h0.9M189.9 84.9h0.9M190.5 89.4h0.9M185.8 82.1h0.9M185.9 87.6h0.9M180.7 84.7h0.9M181.2 83.7h0.9M194.4 82.0h0.9M185.0 85.4h0.9M184.4 91.4h0.9M191.8 83.2h0.9M192.0 79.8h0.9M185.1 83.5h0.9M188.7 84.2h0.9M189.9 88.7h0.9M184.9 80.8h0.9M187.7 87.0h0.9M187.5 84.5h0.9M183.4 86.8h0.9M175.8 86.4h0.9M189.0 87.3h0.9M191.7 89.2h0.9M179.8 86.9h0.9M184.0 91.8h0.9M185.8 83.7h0.9M182.7 85.6h0.9M185.1 82.1h0.9M184.4 85.0h0.9M184.0 82.2h0.9M189.9 88.1h0.9M180.8 86.3h0.9M189.8 83.5h0.9M183.2 86.6h0.9M184.1 81.2h0.9M186.5 83.9h0.9M182.7 82.3h0.9M192.1 88.7h0.9M184.7 90.1h0.9M190.3 86.2h0.9M183.4 89.6h0.9M184.7 81.1h0.9M181.9 83.4h0.9M184.0 86.5h0.9M181.8 82.2h0.9M185.3 84.3h0.9" stroke="#3a8a72" stroke-opacity="0.7" stroke-width="0.9" fill="none"/>
<path d="M186.9 89.7h0.9M184.2 79.9h0.9M183.6 81.4h0.9M180.9 85.2h0.9M188.1 87.4h0.9M186.5 84.9h0.9M183.1 89.0h0.9M187.1 87.3h0.9M176.4 81.0h0.9M196.3 86.2h0.9M181.8 87.6h0.9M188.3 83.2h0.9M187.8 89.7h0.9M186.6 83.1h0.9M189.7 82.3h0.9M190.4 89.7h0.9M184.0 84.8h0.9M179.6 80.7h0.9M187.6 86.4h0.9M183.7 84.8h0.9M194.8 82.0h0.9M185.7 89.4h0.9M189.5 82.4h0.9M187.3 86.7h0.9M186.0 81.4h0.9M187.7 84.9h0.9M185.8 83.7h0.9M182.5 85.4h0.9M189.1 85.3h0.9M191.3 88.2h0.9M188.2 85.9h0.9M186.6 84.5h0.9M191.7 87.9h0.9M181.5 81.9h0.9M185.0 83.5h0.9M179.3 90.6h0.9M183.0 86.9h0.9M182.8 83.2h0.9M183.8 88.2h0.9M185.8 88.1h0.9M184.0 86.3h0.9M191.4 86.3h0.9M180.1 86.1h0.9M184.3 83.8h0.9M177.4 81.5h0.9M185.1 87.8h0.9M187.9 88.5h0.9M186.9 84.9h0.9M190.5 85.2h0.9M190.4 82.4h0.9M181.3 80.2h0.9M191.2 89.2h0.9M191.6 83.3h0.9M184.8 86.0h0.9M191.9 81.6h0.9M184.3 84.6h0.9M190.0 82.5h0.9M185.3 87.6h0.9M185.1 83.6h0.9M185.4 85.7h0.9M184.3 80.5h0.9M185.3 83.0h0.9M184.8 81.1h0.9M199.5 86.9h0.9M184.4 89.8h0.9M188.7 81.3h0.9M184.9 85.4h0.9M187.2 83.7h0.9M185.8 86.6h0.9M189.3 84.1h0.9M175.5 84.4h0.9M193.7 86.4h0.9M182.6 86.5h0.9M185.7 84.9h0.9M194.0 87.4h0.9M185.0 83.7h0.9M193.7 83.4h0.9M189.4 79.6h0.9M182.2 89.8h0.9M189.5 85.5h0.9M189.2 81.6h0.9M185.1 88.1h0.9M187.3 81.5h0.9M191.8 85.7h0.9M182.0 85.7h0.9M186.8 86.0h0.9M184.2 81.9h0.9M182.7 84.0h0.9M180.8 85.5h0.9M187.8 85.6h0.9M188.6 83.3h0.9M183.2 83.4h0.9M183.5 81.8h0.9M184.8 83.5h0.9M182.8 84.3h0.9M196.4 82.4h0.9M193.9 90.5h0.9M183.9 85.3h0.9M178.3 81.7h0.9M187.5 88.7h0.9M178.3 83.7h0.9M186.7 88.7h0.9M189.6 86.7h0.9M184.8 84.5h0.9M189.8 90.9h0.9M186.3 85.2h0.9M188.5 84.7h0.9" stroke="#3a8a72" stroke-opacity="0.7" stroke-width="0.9" fill="none"/>
<path d="M187.2 89.1h0.9M201.5 83.8h0.9M190.3 83.3h0.9M185.3 85.8h0.9M183.1 87.4h0.9M175.6 81.6h0.9M178.5 84.7h0.9M182.7 86.2h0.9M182.5 81.4h0.9M180.6 83.7h0.9M184.0 91.1h0.9M185.4 87.9h0.9M189.9 85.9h0.9M189.0 82.7h0.9M185.9 86.2h0.9M178.5 81.8h0.9M185.2 91.2h0.9M191.4 83.3h0.9M189.3 87.2h0.9M185.0 80.8h0.9M187.6 84.4h0.9M187.9 83.6h0.9M189.7 86.5h0.9M186.6 84.5h0.9M188.7 83.5h0.9M189.7 85.9h0.9M180.8 84.1h0.9M189.1 80.5h0.9M178.8 78.5h0.9M186.4 81.1h0.9M190.0 87.5h0.9M189.2 84.1h0.9M190.3 82.2h0.9M186.7 80.9h0.9M188.5 85.9h0.9M183.3 83.4h0.9M175.0 80.4h0.9M179.5 85.3h0.9M188.0 81.5h0.9M183.1 84.1h0.9M190.7 79.0h0.9M194.2 85.4h0.9M188.1 86.9h0.9M186.7 86.8h0.9M177.1 82.2h0.9M190.5 83.2h0.9M181.2 84.3h0.9M184.3 80.6h0.9M188.9 81.0h0.9M189.4 88.5h0.9M190.0 86.3h0.9M185.9 84.1h0.9M187.4 83.5h0.9M184.7 84.7h0.9M193.5 87.3h0.9M185.3 82.7h0.9M183.1 88.4h0.9M185.3 82.4h0.9M184.5 92.4h0.9M177.6 85.0h0.9M179.8 85.0h0.9M183.0 90.0h0.9M182.0 87.0h0.9M191.1 82.1h0.9M182.7 81.2h0.9M186.4 78.8h0.9M190.5 81.3h0.9M182.0 88.1h0.9M184.2 82.1h0.9M184.0 84.4h0.9M186.3 81.7h0.9M187.0 83.6h0.9M182.0 82.2h0.9M187.1 80.2h0.9M182.9 87.1h0.9M179.6 82.7h0.9M188.6 77.5h0.9M181.7 81.3h0.9M186.7 82.1h0.9M195.1 87.9h0.9M182.9 82.1h0.9M183.7 84.7h0.9M195.2 87.0h0.9M188.0 86.4h0.9M181.8 86.6h0.9M182.3 83.7h0.9M189.2 83.4h0.9M183.9 81.8h0.9M184.8 80.2h0.9M187.1 86.2h0.9M186.1 86.4h0.9M188.3 80.3h0.9M189.4 86.1h0.9M187.3 78.6h0.9M186.5 86.0h0.9M193.1 79.4h0.9M190.1 81.5h0.9M182.8 83.8h0.9M184.5 88.3h0.9M182.5 83.6h0.9M186.8 86.3h0.9M187.7 84.7h0.9M189.9 83.4h0.9M190.1 81.8h0.9M188.2 82.0h0.9M185.8 82.7h0.9" stroke="#3a8a72" stroke-opacity="0.7" stroke-width="0.9" fill="none"/>
<path d="M184.3 60.2h0.9M189.6 65.2h0.9M187.1 73.0h0.9M188.5 75.1h0.9M185.3 61.5h0.9M186.1 80.1h0.9M184.2 56.6h0.9M184.5 60.8h0.9M190.9 73.6h0.9M186.6 58.0h0.9M183.0 66.6h0.9M184.2 54.1h0.9M189.4 71.1h0.9M187.6 60.6h0.9M186.1 60.5h0.9M187.0 73.8h0.9M193.7 68.1h0.9M188.2 68.6h0.9M186.0 74.1h0.9M186.9 75.1h0.9M184.2 65.4h0.9M187.2 70.5h0.9M185.9 73.6h0.9M185.8 75.2h0.9M189.1 77.0h0.9M181.9 78.0h0.9M186.6 63.5h0.9M189.2 70.4h0.9M187.5 63.9h0.9M187.7 71.6h0.9M186.9 59.2h0.9M185.1 63.7h0.9M188.0 70.9h0.9M186.0 61.8h0.9M184.3 66.7h0.9M188.6 63.5h0.9M193.0 67.8h0.9M185.4 62.6h0.9M188.3 63.6h0.9M187.6 63.1h0.9M189.5 48.8h0.9M183.8 71.1h0.9M189.0 59.4h0.9M189.5 67.3h0.9M186.3 78.2h0.9M186.2 80.9h0.9M185.9 64.4h0.9M186.5 82.1h0.9M185.4 66.6h0.9M185.7 69.6h0.9M186.7 73.8h0.9M187.6 65.0h0.9M190.4 66.6h0.9M185.4 72.8h0.9M190.0 83.6h0.9M182.5 60.9h0.9M186.0 75.2h0.9M188.3 63.9h0.9M187.8 65.5h0.9M188.9 66.8h0.9M186.4 73.8h0.9M187.7 68.7h0.9M188.3 56.1h0.9M193.2 71.3h0.9M189.8 71.8h0.9M184.6 67.6h0.9M191.9 71.7h0.9M186.6 59.6h0.9M180.9 65.4h0.9M183.8 63.8h0.9M187.4 58.1h0.9M184.2 67.3h0.9M188.0 65.4h0.9M187.3 62.0h0.9M182.1 69.2h0.9M186.3 67.5h0.9M189.3 73.4h0.9M191.8 68.7h0.9M186.0 63.8h0.9M185.9 73.2h0.9M191.1 65.2h0.9M189.9 68.9h0.9M187.1 62.2h0.9M186.9 64.4h0.9M187.7 67.7h0.9M186.1 71.1h0.9M189.5 68.6h0.9" stroke="#3a8a72" stroke-opacity="0.6" stroke-width="0.9" fill="none"/>
<path d="M190.6 66.5h0.9M187.0 65.6h0.9M189.8 70.6h0.9M183.2 60.6h0.9M190.6 60.1h0.9M193.2 64.1h0.9M187.5 60.7h0.9M187.0 65.9h0.9M191.4 73.5h0.9M183.3 71.3h0.9M183.7 68.5h0.9M186.7 59.5h0.9M190.6 58.8h0.9M187.6 64.0h0.9M184.7 78.4h0.9M185.8 61.5h0.9M185.7 74.3h0.9M189.6 76.6h0.9M187.6 71.6h0.9M189.1 71.7h0.9M186.4 58.7h0.9M185.0 56.5h0.9M189.0 61.5h0.9M184.3 71.8h0.9M187.8 71.4h0.9M193.3 70.5h0.9M186.5 66.3h0.9M183.9 75.1h0.9M191.7 60.7h0.9M186.8 70.9h0.9M187.1 64.7h0.9M185.5 61.2h0.9M186.5 65.9h0.9M183.3 68.0h0.9M184.7 64.5h0.9M189.8 60.3h0.9M185.6 64.9h0.9M189.8 62.5h0.9M185.2 55.4h0.9M187.9 58.3h0.9M190.0 65.0h0.9M184.6 66.8h0.9M185.2 60.4h0.9M188.4 66.2h0.9M191.4 69.2h0.9M184.4 71.7h0.9M188.7 67.1h0.9M185.7 63.5h0.9M188.9 57.8h0.9M184.4 75.8h0.9M187.3 67.2h0.9M186.5 56.3h0.9M180.7 77.7h0.9M184.9 75.0h0.9M185.9 60.0h0.9M187.2 58.2h0.9M184.0 71.0h0.9M186.2 70.8h0.9M182.6 77.0h0.9M188.4 68.8h0.9M185.8 63.8h0.9M190.5 73.5h0.9M185.1 62.9h0.9M187.6 80.1h0.9M189.0 74.1h0.9M189.2 60.9h0.9M187.1 59.9h0.9M185.9 74.1h0.9M186.1 63.0h0.9M182.2 66.5h0.9M188.1 70.2h0.9M191.1 66.9h0.9M181.6 56.0h0.9M189.6 75.6h0.9M191.4 58.7h0.9M187.3 72.2h0.9M184.7 69.4h0.9M186.6 54.7h0.9M190.5 65.2h0.9M188.1 66.6h0.9M188.3 57.8h0.9M188.1 68.9h0.9M188.1 66.4h0.9M187.3 59.7h0.9M185.9 60.0h0.9M189.1 59.5h0.9M186.3 77.2h0.9" stroke="#3a8a72" stroke-opacity="0.6" stroke-width="0.9" fill="none"/>
<path d="M186.0 66.9h0.9M188.1 61.1h0.9M187.3 76.2h0.9M188.7 65.5h0.9M186.8 58.9h0.9M183.8 76.5h0.9M182.6 73.5h0.9M189.6 67.6h0.9M186.7 70.2h0.9M180.1 62.2h0.9M186.0 64.3h0.9M185.7 69.2h0.9M188.4 76.1h0.9M184.8 73.2h0.9M184.2 70.9h0.9M184.8 61.0h0.9M188.3 66.0h0.9M185.7 66.8h0.9M189.0 63.3h0.9M185.8 64.9h0.9M189.7 62.6h0.9M189.2 69.4h0.9M186.3 56.8h0.9M182.4 65.3h0.9M191.2 52.9h0.9M186.7 68.5h0.9M188.4 71.0h0.9M179.2 67.7h0.9M183.4 64.1h0.9M184.6 63.5h0.9M188.4 61.1h0.9M185.8 59.2h0.9M184.1 61.4h0.9M186.5 64.7h0.9M187.1 71.2h0.9M186.1 74.6h0.9M183.2 66.2h0.9M191.1 71.9h0.9M187.3 65.5h0.9M180.6 69.8h0.9M186.1 58.1h0.9M186.1 78.5h0.9M182.8 63.1h0.9M185.4 67.5h0.9M188.2 55.5h0.9M189.8 64.7h0.9M190.6 73.9h0.9M185.9 61.9h0.9M182.8 62.5h0.9M185.1 65.8h0.9M185.1 68.0h0.9M185.1 73.9h0.9M186.1 81.9h0.9M189.7 60.8h0.9M187.3 64.7h0.9M189.5 69.6h0.9M182.9 65.1h0.9M190.6 74.6h0.9M191.6 54.5h0.9M186.0 67.0h0.9M188.3 70.8h0.9M187.1 65.8h0.9M187.0 64.8h0.9M186.5 65.1h0.9M185.5 63.2h0.9M185.1 59.2h0.9M183.8 63.2h0.9M186.6 67.6h0.9M182.8 66.6h0.9M189.0 62.1h0.9M185.5 72.2h0.9M183.5 73.7h0.9M182.4 75.7h0.9M184.3 69.8h0.9M186.7 63.3h0.9M187.9 73.1h0.9M185.5 62.1h0.9M185.9 71.5h0.9M185.6 66.4h0.9M185.6 65.7h0.9M187.4 71.0h0.9M189.4 79.0h0.9M188.2 71.5h0.9M187.3 61.8h0.9M186.7 63.0h0.9M189.0 75.0h0.9" stroke="#3a8a72" stroke-opacity="0.6" stroke-width="0.9" fill="none"/>
<path d="M194.2 49.3h0.9M200.0 56.5h0.9M198.4 53.1h0.9M192.4 54.6h0.9M194.9 46.6h0.9M194.8 48.2h0.9M193.6 52.6h0.9M192.7 49.5h0.9M191.9 53.1h0.9M194.0 53.0h0.9M198.8 60.1h0.9M191.6 59.3h0.9M199.1 62.4h0.9M195.5 60.6h0.9M191.6 58.9h0.9M195.5 53.9h0.9M198.0 60.3h0.9M195.8 56.0h0.9M195.2 53.8h0.9M193.4 53.9h0.9M197.3 58.5h0.9M196.6 49.2h0.9M196.7 56.3h0.9M195.8 54.6h0.9M197.6 54.2h0.9M195.2 53.5h0.9M196.5 61.3h0.9" stroke="#4a9c84" stroke-opacity="0.45" stroke-width="0.9" fill="none"/>
<path d="M195.3 57.3h0.9M197.0 53.4h0.9M190.6 55.2h0.9M193.7 59.9h0.9M190.2 58.4h0.9M193.8 57.8h0.9M197.6 59.8h0.9M191.1 52.8h0.9M195.4 57.8h0.9M190.6 56.6h0.9M198.6 56.5h0.9M195.7 54.7h0.9M197.2 54.5h0.9M193.4 45.8h0.9M197.7 56.0h0.9M194.0 61.2h0.9M194.1 57.1h0.9M195.4 57.6h0.9M192.6 55.0h0.9M192.1 58.1h0.9M197.6 55.6h0.9M192.0 60.8h0.9M196.1 59.7h0.9M201.0 52.6h0.9M195.4 55.1h0.9M197.7 58.7h0.9M196.9 55.3h0.9" stroke="#4a9c84" stroke-opacity="0.45" stroke-width="0.9" fill="none"/>
<path d="M192.4 50.7h0.9M191.3 55.2h0.9M194.3 56.1h0.9M195.4 59.8h0.9M197.2 59.8h0.9M198.5 54.5h0.9M190.5 61.3h0.9M200.8 67.2h0.9M193.8 49.0h0.9M191.4 48.4h0.9M194.0 55.6h0.9M190.4 55.5h0.9M195.4 58.4h0.9M189.0 52.0h0.9M196.4 56.3h0.9M194.4 55.8h0.9M192.5 56.6h0.9M188.7 52.4h0.9M199.0 55.0h0.9M192.6 60.0h0.9M190.7 55.7h0.9M196.1 61.9h0.9M195.0 55.1h0.9M191.3 50.3h0.9M195.7 49.6h0.9M191.9 51.7h0.9" stroke="#4a9c84" stroke-opacity="0.45" stroke-width="0.9" fill="none"/>
<path d="M280.0 73.3h0.9M274.8 87.5h0.9M278.9 81.0h0.9M273.3 93.1h0.9M269.4 90.9h0.9M288.7 82.4h0.9M262.0 86.9h0.9M277.9 90.5h0.9M277.6 90.4h0.9M263.3 76.5h0.9M272.1 86.4h0.9M266.3 95.0h0.9M274.8 83.7h0.9M287.4 82.5h0.9M269.1 85.6h0.9M276.6 85.9h0.9M277.8 86.5h0.9M286.3 76.3h0.9M276.5 88.8h0.9M286.6 91.1h0.9M274.3 90.1h0.9M274.2 79.3h0.9" stroke="#9a9a9a" stroke-opacity="0.4" stroke-width="0.9" fill="none"/>
<path d="M269.7 80.8h0.9M272.3 89.3h0.9M284.1 79.0h0.9M268.4 95.6h0.9M255.2 81.9h0.9M264.7 84.8h0.9M281.0 82.4h0.9M276.8 87.3h0.9M281.3 88.8h0.9M283.3 86.7h0.9M268.3 91.4h0.9M277.3 76.9h0.9M273.2 86.9h0.9M266.7 89.6h0.9M274.4 84.9h0.9M271.8 95.7h0.9M268.4 95.9h0.9M273.7 84.3h0.9M272.2 78.8h0.9M273.2 79.8h0.9M276.3 93.2h0.9M269.2 93.5h0.9" stroke="#9a9a9a" stroke-opacity="0.4" stroke-width="0.9" fill="none"/>
<path d="M266.6 89.0h0.9M278.0 82.9h0.9M271.3 80.2h0.9M281.9 88.1h0.9M279.1 85.8h0.9M276.7 95.2h0.9M270.2 79.5h0.9M279.3 85.3h0.9M273.6 89.8h0.9M266.5 82.9h0.9M265.4 86.3h0.9M265.9 86.3h0.9M281.6 91.6h0.9M275.6 91.9h0.9M265.3 96.8h0.9M280.8 90.9h0.9M268.5 86.4h0.9M276.6 89.3h0.9M290.4 82.3h0.9M266.5 82.3h0.9" stroke="#9a9a9a" stroke-opacity="0.4" stroke-width="0.9" fill="none"/>
<path d="M339.0 87.4h0.9M340.5 80.4h0.9M339.0 82.9h0.9M342.3 84.4h0.9M338.2 90.4h0.9M337.8 92.7h0.9M334.8 90.5h0.9M336.5 97.0h0.9M342.5 98.2h0.9M335.4 87.1h0.9M333.0 95.2h0.9M335.7 87.4h0.9M338.9 86.5h0.9M333.2 76.9h0.9M334.9 100.2h0.9M332.5 86.4h0.9M335.6 94.9h0.9M335.3 93.4h0.9" stroke="#9a9a9a" stroke-opacity="0.4" stroke-width="0.9" fill="none"/>
<path d="M336.3 88.3h0.9M342.1 86.0h0.9M343.7 96.2h0.9M342.2 85.4h0.9M337.8 81.4h0.9M341.2 82.2h0.9M335.3 90.3h0.9M338.1 88.7h0.9M337.5 82.8h0.9M335.7 89.9h0.9M342.2 91.1h0.9M339.7 88.3h0.9M337.7 87.9h0.9M335.9 82.1h0.9M335.0 75.9h0.9M340.1 72.9h0.9M341.7 90.7h0.9M337.7 82.1h0.9" stroke="#9a9a9a" stroke-opacity="0.4" stroke-width="0.9" fill="none"/>
<path d="M337.9 81.6h0.9M330.9 78.8h0.9M344.7 93.3h0.9M337.9 79.9h0.9M340.9 93.4h0.9M337.9 76.9h0.9M339.2 75.7h0.9M335.8 78.5h0.9M338.4 76.5h0.9M335.2 93.1h0.9M337.0 78.9h0.9M342.0 88.9h0.9M346.0 91.5h0.9M332.0 85.3h0.9M342.4 95.5h0.9M338.1 82.0h0.9M333.4 84.0h0.9M335.1 76.2h0.9" stroke="#9a9a9a" stroke-opacity="0.4" stroke-width="0.9" fill="none"/>
<path d="M171.7 171.9h0.9M196.0 192.9h0.9M178.1 178.6h0.9M190.2 171.4h0.9M183.8 182.8h0.9M193.9 177.3h0.9M188.0 164.2h0.9M177.1 173.3h0.9M190.2 172.7h0.9M173.2 187.4h0.9M179.6 172.8h0.9M189.6 175.6h0.9M203.9 164.3h0.9M195.8 156.1h0.9M185.2 166.3h0.9M184.8 170.7h0.9M178.9 186.1h0.9M178.2 174.8h0.9M189.3 162.0h0.9M181.3 152.0h0.9M193.6 170.5h0.9M186.1 169.3h0.9M181.9 170.3h0.9M187.7 159.0h0.9M178.8 184.9h0.9M196.3 163.6h0.9M193.6 172.6h0.9M196.2 169.8h0.9M193.8 153.8h0.9M179.7 178.7h0.9M188.7 166.6h0.9M184.6 161.6h0.9M170.4 143.6h0.9M177.0 155.0h0.9M183.1 151.3h0.9M173.4 180.2h0.9M181.3 163.4h0.9" stroke="#9a9a9a" stroke-opacity="0.35" stroke-width="0.9" fill="none"/>
<path d="M184.3 178.1h0.9M173.7 169.7h0.9M201.5 185.0h0.9M179.7 182.4h0.9M181.8 158.8h0.9M173.3 171.7h0.9M184.6 169.1h0.9M181.5 175.2h0.9M190.2 166.6h0.9M188.7 169.4h0.9M178.3 151.5h0.9M190.0 177.9h0.9M176.2 176.9h0.9M187.7 174.6h0.9M183.9 168.5h0.9M182.3 134.4h0.9M191.5 168.1h0.9M180.8 184.9h0.9M173.9 178.5h0.9M200.1 158.0h0.9M184.9 170.2h0.9M177.2 183.5h0.9M190.8 155.2h0.9M177.0 171.8h0.9M177.6 180.5h0.9M180.2 176.3h0.9M187.3 168.4h0.9M182.7 153.6h0.9M184.1 163.1h0.9M166.0 177.4h0.9M185.9 160.3h0.9M182.1 161.4h0.9M184.9 171.0h0.9M190.3 163.7h0.9M180.2 177.9h0.9M204.6 181.2h0.9M186.3 149.7h0.9" stroke="#9a9a9a" stroke-opacity="0.35" stroke-width="0.9" fill="none"/>
<path d="M177.1 179.1h0.9M183.6 171.2h0.9M178.4 164.2h0.9M188.7 180.2h0.9M185.0 156.0h0.9M191.0 166.4h0.9M188.5 160.3h0.9M181.5 156.9h0.9M182.5 182.7h0.9M185.7 176.0h0.9M186.5 171.0h0.9M177.6 182.2h0.9M191.5 180.1h0.9M193.8 161.1h0.9M184.0 152.3h0.9M180.1 163.4h0.9M192.8 168.8h0.9M196.5 166.9h0.9M178.2 168.0h0.9M191.0 169.6h0.9M180.1 156.8h0.9M176.1 171.8h0.9M184.0 153.8h0.9M174.2 184.9h0.9M176.3 175.5h0.9M192.1 161.8h0.9M181.9 172.4h0.9M176.6 170.0h0.9M171.6 150.4h0.9M177.6 162.6h0.9M186.7 158.6h0.9M191.8 162.6h0.9M191.9 169.2h0.9M180.7 176.8h0.9M187.3 157.6h0.9" stroke="#9a9a9a" stroke-opacity="0.35" stroke-width="0.9" fill="none"/>
<path d="M182.6 175.0h0.9M181.0 172.5h0.9M187.1 177.6h0.9M185.2 156.5h0.9M181.1 163.5h0.9M183.0 163.9h0.9M183.1 163.6h0.9M184.6 174.3h0.9M187.4 167.3h0.9M184.6 165.3h0.9M190.2 172.3h0.9M184.6 170.4h0.9M185.6 158.3h0.9M180.5 177.6h0.9M183.5 175.6h0.9M186.9 176.9h0.9M183.4 169.4h0.9M184.5 175.3h0.9M183.4 170.3h0.9M187.6 182.6h0.9M179.6 167.8h0.9M184.6 167.6h0.9M189.2 173.5h0.9M179.8 171.5h0.9M181.2 166.7h0.9M185.4 177.9h0.9M183.7 170.4h0.9M180.3 157.4h0.9M185.7 170.8h0.9M185.0 169.3h0.9M187.4 175.2h0.9M187.6 164.3h0.9M185.7 160.4h0.9M190.6 160.2h0.9M185.5 170.9h0.9M180.1 185.3h0.9M183.5 186.7h0.9M186.6 167.2h0.9M177.0 178.3h0.9M183.6 157.7h0.9M186.0 172.1h0.9M176.1 181.5h0.9M180.4 159.7h0.9M183.7 159.0h0.9M191.1 181.8h0.9M182.8 185.6h0.9M183.2 183.9h0.9M185.5 159.6h0.9M183.6 163.6h0.9M181.6 172.1h0.9M186.3 167.7h0.9M184.7 164.8h0.9M186.7 160.9h0.9M181.9 177.4h0.9M184.0 169.5h0.9M182.3 161.1h0.9M187.0 176.8h0.9M186.3 167.3h0.9M190.5 177.9h0.9M190.9 175.9h0.9M183.8 177.3h0.9M184.6 168.1h0.9M186.5 169.8h0.9M187.7 173.6h0.9M187.0 176.6h0.9M186.2 168.9h0.9M189.2 174.7h0.9M188.7 179.4h0.9M185.7 180.5h0.9M189.7 166.3h0.9M181.3 171.6h0.9M183.7 168.5h0.9M183.1 163.8h0.9M185.2 170.4h0.9M182.0 176.8h0.9M177.6 182.3h0.9M186.4 166.2h0.9M183.0 174.2h0.9M186.0 169.8h0.9M185.6 170.2h0.9M183.9 184.1h0.9M184.8 163.1h0.9M185.4 160.1h0.9M182.3 175.2h0.9M186.7 167.1h0.9M187.7 164.6h0.9M185.6 161.6h0.9M187.1 174.8h0.9M189.1 175.8h0.9M184.9 180.9h0.9M186.4 163.6h0.9M186.3 181.3h0.9M185.7 168.9h0.9M188.1 177.0h0.9M187.8 178.8h0.9M186.0 175.0h0.9M181.4 164.3h0.9M186.1 160.5h0.9M181.9 175.8h0.9M179.9 176.3h0.9M183.2 173.4h0.9M182.4 170.5h0.9M183.0 167.4h0.9M183.2 177.0h0.9M184.2 166.2h0.9M185.8 159.9h0.9M188.2 159.2h0.9M181.9 172.5h0.9M179.7 171.9h0.9M182.8 177.1h0.9M187.4 161.8h0.9M186.3 167.6h0.9M182.6 160.5h0.9M184.9 174.0h0.9M187.8 156.7h0.9M182.7 164.2h0.9M183.4 169.9h0.9M180.8 176.2h0.9M185.2 170.2h0.9M185.2 165.4h0.9M184.9 161.8h0.9M182.1 172.2h0.9M186.9 166.3h0.9M187.1 180.5h0.9M184.3 167.5h0.9M182.0 157.4h0.9M183.1 159.8h0.9" stroke="#6aa898" stroke-opacity="0.55" stroke-width="0.9" fill="none"/>
<path d="M186.0 174.6h0.9M185.6 169.6h0.9M184.3 174.2h0.9M184.9 170.3h0.9M178.6 164.1h0.9M191.4 160.2h0.9M179.9 162.7h0.9M187.0 169.8h0.9M184.7 176.0h0.9M189.7 171.7h0.9M192.4 175.8h0.9M188.1 172.7h0.9M182.1 164.5h0.9M184.4 176.3h0.9M183.7 172.0h0.9M184.6 178.6h0.9M182.5 160.0h0.9M190.7 159.5h0.9M177.7 173.6h0.9M184.3 177.2h0.9M184.5 156.8h0.9M190.4 164.4h0.9M185.7 165.3h0.9M177.5 180.2h0.9M179.7 173.2h0.9M181.3 166.3h0.9M188.1 161.4h0.9M188.3 171.3h0.9M186.8 172.5h0.9M183.0 168.0h0.9M187.3 176.3h0.9M193.2 177.5h0.9M186.9 166.3h0.9M181.9 172.5h0.9M186.0 173.0h0.9M184.2 161.5h0.9M177.7 178.6h0.9M186.6 159.2h0.9M178.1 162.6h0.9M185.1 167.7h0.9M189.3 172.9h0.9M185.1 161.1h0.9M187.8 164.8h0.9M187.5 156.0h0.9M184.8 166.1h0.9M184.8 177.5h0.9M184.8 159.4h0.9M187.7 170.4h0.9M180.8 178.1h0.9M193.0 167.4h0.9M189.1 176.4h0.9M195.4 154.5h0.9M189.0 153.2h0.9M184.2 172.4h0.9M185.2 163.9h0.9M187.0 179.0h0.9M187.9 160.1h0.9M181.6 170.2h0.9M182.9 170.7h0.9M185.6 164.0h0.9M185.6 160.1h0.9M188.8 177.4h0.9M188.9 168.8h0.9M181.8 178.0h0.9M187.3 166.7h0.9M184.2 161.2h0.9M183.2 180.5h0.9M184.2 159.8h0.9M186.4 163.5h0.9M192.3 166.4h0.9M186.7 161.7h0.9M186.8 174.5h0.9M186.7 160.0h0.9M188.9 181.3h0.9M189.8 158.8h0.9M185.7 163.0h0.9M189.3 161.9h0.9M184.7 161.1h0.9M187.5 167.2h0.9M181.5 173.4h0.9M185.5 163.2h0.9M183.1 176.0h0.9M188.4 171.4h0.9M184.1 172.6h0.9M181.6 165.9h0.9M187.5 170.8h0.9M183.2 179.3h0.9M182.9 153.8h0.9M183.1 179.1h0.9M183.8 152.9h0.9M184.7 160.5h0.9M178.9 172.9h0.9M182.2 174.4h0.9M185.1 176.3h0.9M184.6 166.8h0.9M183.0 175.6h0.9M185.4 176.0h0.9M188.3 172.0h0.9M190.1 171.7h0.9M185.2 178.2h0.9M190.0 163.7h0.9M187.6 163.7h0.9M188.2 165.3h0.9M190.1 164.1h0.9M187.8 159.7h0.9M181.1 190.0h0.9M179.3 181.4h0.9M192.1 173.5h0.9M188.8 170.0h0.9M188.2 164.4h0.9M184.7 169.7h0.9M183.9 176.6h0.9M187.0 168.7h0.9M191.4 171.6h0.9M189.8 170.6h0.9M187.3 160.7h0.9M182.6 156.4h0.9M188.2 175.5h0.9M184.9 164.7h0.9M190.9 167.0h0.9M183.9 158.0h0.9M185.1 164.8h0.9M188.6 176.0h0.9M185.1 157.6h0.9M184.6 159.8h0.9M182.8 168.7h0.9M181.9 168.4h0.9" stroke="#6aa898" stroke-opacity="0.55" stroke-width="0.9" fill="none"/>
<path d="M188.3 160.4h0.9M182.8 176.7h0.9M185.3 161.9h0.9M187.8 161.1h0.9M194.2 170.1h0.9M185.1 168.4h0.9M189.8 179.7h0.9M185.0 178.1h0.9M183.5 163.6h0.9M185.2 165.0h0.9M184.8 164.9h0.9M190.7 157.6h0.9M183.3 161.7h0.9M181.8 151.5h0.9M181.9 179.5h0.9M185.7 165.3h0.9M185.9 174.3h0.9M186.4 161.7h0.9M188.3 173.1h0.9M190.3 172.7h0.9M185.3 174.7h0.9M182.4 169.3h0.9M189.6 175.7h0.9M187.5 164.3h0.9M183.8 155.7h0.9M191.5 170.4h0.9M185.2 156.7h0.9M187.9 178.1h0.9M182.0 166.9h0.9M186.4 170.4h0.9M188.3 179.5h0.9M189.6 174.5h0.9M184.2 152.9h0.9M187.4 163.0h0.9M188.1 166.2h0.9M188.0 173.4h0.9M185.4 171.3h0.9M184.2 182.9h0.9M188.4 165.9h0.9M183.4 157.2h0.9M190.5 178.0h0.9M186.9 176.2h0.9M190.3 170.6h0.9M181.2 159.1h0.9M187.8 178.4h0.9M177.7 168.6h0.9M192.0 163.8h0.9M184.5 166.0h0.9M188.5 158.5h0.9M184.5 167.1h0.9M187.3 180.8h0.9M180.3 151.3h0.9M185.0 166.0h0.9M183.7 170.1h0.9M186.9 167.6h0.9M181.2 165.8h0.9M185.6 175.8h0.9M185.3 169.2h0.9M184.5 169.7h0.9M185.0 171.7h0.9M192.3 147.2h0.9M190.3 180.7h0.9M181.3 165.6h0.9M186.5 157.7h0.9M182.8 177.4h0.9M179.3 166.4h0.9M184.7 161.4h0.9M185.3 150.7h0.9M187.8 165.3h0.9M186.1 161.9h0.9M187.4 165.9h0.9M189.6 171.9h0.9M184.9 166.1h0.9M188.4 176.6h0.9M193.9 164.7h0.9M183.6 177.0h0.9M182.7 164.8h0.9M184.0 154.1h0.9M186.8 162.0h0.9M186.0 169.4h0.9M182.7 173.4h0.9M185.8 176.9h0.9M183.3 166.7h0.9M186.4 167.0h0.9M181.6 174.7h0.9M188.7 162.0h0.9M178.9 162.1h0.9M179.8 171.7h0.9M184.9 173.6h0.9M184.5 170.4h0.9M184.7 169.6h0.9M186.9 160.3h0.9M191.8 174.0h0.9M182.8 170.3h0.9M187.0 168.4h0.9M186.8 167.0h0.9M179.0 174.3h0.9M186.9 161.7h0.9M184.9 165.6h0.9M183.1 176.8h0.9M188.5 168.9h0.9M184.6 164.8h0.9M189.6 166.2h0.9M187.4 160.3h0.9M183.8 163.9h0.9M186.2 157.8h0.9M189.6 162.8h0.9M187.7 160.2h0.9M185.5 179.3h0.9M185.9 169.8h0.9M185.6 169.2h0.9M183.4 166.6h0.9M185.1 172.3h0.9M184.6 181.2h0.9M188.3 160.5h0.9M183.2 176.0h0.9M185.2 168.1h0.9M183.8 160.5h0.9M182.3 163.6h0.9M187.0 165.6h0.9M178.8 178.9h0.9M187.9 164.9h0.9M185.7 177.1h0.9M186.2 170.7h0.9M191.1 163.3h0.9M190.3 173.4h0.9" stroke="#6aa898" stroke-opacity="0.55" stroke-width="0.9" fill="none"/>
<path d="M188.0 168.7h0.9M188.7 171.3h0.9M185.6 166.8h0.9M185.6 183.2h0.9M188.7 157.1h0.9M184.7 163.2h0.9M184.0 173.5h0.9M177.8 168.4h0.9M186.4 165.3h0.9M188.0 171.3h0.9M179.2 178.3h0.9M183.5 174.5h0.9M181.0 170.8h0.9M191.8 175.6h0.9M182.9 178.2h0.9M185.0 163.6h0.9M194.5 163.8h0.9M187.4 169.8h0.9M180.0 165.2h0.9M183.4 180.3h0.9M182.6 166.7h0.9M187.9 179.6h0.9M189.3 170.4h0.9M182.4 167.5h0.9M192.5 168.7h0.9M185.9 176.9h0.9M189.8 173.1h0.9" stroke="#777" stroke-opacity="0.35" stroke-width="0.9" fill="none"/>
<path d="M190.5 185.3h0.9M187.3 178.8h0.9M187.4 171.1h0.9M184.5 179.1h0.9M186.8 170.1h0.9M195.1 166.9h0.9M180.4 179.2h0.9M184.0 169.3h0.9M178.3 177.0h0.9M180.1 169.5h0.9M179.7 168.1h0.9M183.0 176.7h0.9M184.6 169.5h0.9M175.9 171.1h0.9M185.5 164.3h0.9M184.8 163.8h0.9M180.9 168.3h0.9M185.4 166.7h0.9M191.6 174.7h0.9M184.9 167.6h0.9M185.5 160.8h0.9M183.5 167.9h0.9M189.6 167.1h0.9M182.9 160.9h0.9M177.7 178.4h0.9M183.0 172.3h0.9M180.4 178.0h0.9" stroke="#777" stroke-opacity="0.35" stroke-width="0.9" fill="none"/>
<path d="M185.5 157.1h0.9M181.5 172.4h0.9M183.6 184.9h0.9M182.4 173.0h0.9M188.7 173.2h0.9M183.9 167.0h0.9M184.1 176.1h0.9M182.7 174.1h0.9M183.9 179.3h0.9M182.5 180.5h0.9M180.2 167.2h0.9M191.0 173.1h0.9M188.9 179.9h0.9M187.3 166.5h0.9M183.0 150.8h0.9M181.8 168.4h0.9M188.6 177.5h0.9M184.4 166.4h0.9M182.4 171.2h0.9M187.3 174.2h0.9M181.9 178.9h0.9M184.0 168.7h0.9M186.3 183.1h0.9M184.0 167.6h0.9M188.2 171.7h0.9M185.5 183.3h0.9" stroke="#777" stroke-opacity="0.35" stroke-width="0.9" fill="none"/>
<path d="M270.5 183.4h0.9M265.8 194.4h0.9M281.6 158.8h0.9M278.9 182.6h0.9M264.5 165.5h0.9M271.6 161.3h0.9M263.9 181.3h0.9M266.8 174.4h0.9M258.1 165.7h0.9M263.4 177.1h0.9M283.3 161.0h0.9M268.7 178.9h0.9M270.4 186.1h0.9M278.1 181.5h0.9M270.2 179.5h0.9M272.6 183.0h0.9M274.9 173.4h0.9M259.2 157.3h0.9M280.7 166.3h0.9M258.4 173.9h0.9M269.9 173.4h0.9M283.7 174.5h0.9M257.4 169.7h0.9M261.0 163.6h0.9M263.8 169.8h0.9M267.3 159.9h0.9M275.4 186.5h0.9M265.7 182.8h0.9M273.3 168.8h0.9M274.4 170.8h0.9M267.9 150.2h0.9M273.4 149.9h0.9M278.4 166.7h0.9M269.8 193.2h0.9M282.1 184.7h0.9M263.9 175.5h0.9M275.0 176.0h0.9M274.5 192.0h0.9M281.0 174.4h0.9M274.2 190.7h0.9M264.2 181.2h0.9M261.4 175.8h0.9M273.6 168.9h0.9M255.6 156.6h0.9M269.5 157.0h0.9M271.4 176.6h0.9M265.2 179.5h0.9M257.0 166.6h0.9M271.8 176.2h0.9M281.1 183.1h0.9M269.3 167.4h0.9M271.3 174.6h0.9M278.8 175.2h0.9M269.6 175.8h0.9M273.9 169.2h0.9M273.4 173.5h0.9M271.2 171.4h0.9M267.3 162.4h0.9M260.6 169.6h0.9M247.6 150.8h0.9M264.6 169.2h0.9M270.7 183.4h0.9M273.0 179.1h0.9M261.8 164.8h0.9M268.6 161.5h0.9M268.4 174.6h0.9M277.0 165.5h0.9M276.6 176.3h0.9M264.9 170.5h0.9M281.3 156.2h0.9M266.2 175.5h0.9M255.1 175.8h0.9M277.1 148.9h0.9M291.3 164.4h0.9M278.1 166.2h0.9M269.3 166.4h0.9M285.8 171.7h0.9M266.9 171.3h0.9M271.3 179.4h0.9M274.1 182.9h0.9M270.0 171.2h0.9M262.2 166.7h0.9M258.4 178.8h0.9M289.5 177.9h0.9M268.0 169.8h0.9M275.2 158.7h0.9M260.2 161.6h0.9" stroke="#8a8a8a" stroke-opacity="0.4" stroke-width="0.9" fill="none"/>
<path d="M271.3 173.7h0.9M264.2 181.1h0.9M278.4 151.8h0.9M263.6 169.3h0.9M279.9 185.3h0.9M265.8 174.0h0.9M266.7 177.8h0.9M274.2 167.9h0.9M288.9 176.4h0.9M276.2 176.3h0.9M274.9 169.4h0.9M280.8 173.6h0.9M277.6 187.5h0.9M269.9 176.5h0.9M268.1 150.0h0.9M265.0 167.9h0.9M267.1 174.9h0.9M260.3 161.2h0.9M275.7 160.8h0.9M275.7 151.6h0.9M262.1 177.6h0.9M276.6 190.2h0.9M256.5 158.4h0.9M264.6 178.1h0.9M267.2 193.5h0.9M268.3 163.1h0.9M270.8 171.6h0.9M272.4 182.4h0.9M273.3 170.1h0.9M259.1 192.0h0.9M272.8 181.7h0.9M266.4 173.9h0.9M274.4 159.7h0.9M290.8 165.4h0.9M283.4 162.0h0.9M270.6 178.5h0.9M270.6 172.6h0.9M279.9 173.8h0.9M285.4 168.8h0.9M259.0 181.1h0.9M278.2 171.5h0.9M260.3 170.4h0.9M281.2 169.8h0.9M267.4 163.2h0.9M266.4 170.0h0.9M280.7 170.1h0.9M261.5 170.3h0.9M270.5 174.8h0.9M260.3 176.2h0.9M265.0 169.6h0.9M275.0 171.6h0.9M260.0 178.2h0.9M271.2 173.0h0.9M269.1 192.8h0.9M273.3 185.6h0.9M269.1 182.0h0.9M265.1 183.9h0.9M266.4 162.1h0.9M267.8 183.0h0.9M274.6 181.3h0.9M267.7 169.9h0.9M279.8 174.7h0.9M273.6 172.9h0.9M270.7 177.3h0.9M268.9 187.4h0.9M276.4 173.0h0.9M263.8 179.0h0.9M281.2 174.6h0.9M269.6 169.0h0.9M285.6 180.3h0.9M278.0 183.1h0.9M263.9 180.0h0.9M288.5 171.2h0.9M283.5 163.3h0.9M270.8 178.6h0.9M257.8 171.6h0.9M271.4 181.2h0.9M280.8 159.6h0.9M278.3 156.3h0.9M271.5 188.4h0.9M269.1 175.5h0.9M276.7 158.4h0.9M257.7 177.1h0.9M270.2 163.0h0.9M267.1 187.7h0.9M253.6 152.6h0.9" stroke="#8a8a8a" stroke-opacity="0.4" stroke-width="0.9" fill="none"/>
<path d="M276.0 164.8h0.9M276.2 180.0h0.9M271.3 175.3h0.9M269.7 165.2h0.9M276.8 188.4h0.9M278.9 183.9h0.9M278.0 186.5h0.9M271.6 177.8h0.9M266.6 154.0h0.9M275.5 166.1h0.9M257.6 180.8h0.9M265.8 169.9h0.9M276.8 164.5h0.9M268.4 159.6h0.9M264.7 182.7h0.9M263.1 164.3h0.9M260.7 168.2h0.9M283.2 185.5h0.9M266.7 174.4h0.9M251.9 169.3h0.9M271.8 164.8h0.9M267.0 169.8h0.9M275.3 174.0h0.9M271.7 174.9h0.9M275.8 166.5h0.9M270.8 180.5h0.9M279.0 181.1h0.9M285.2 177.2h0.9M274.4 164.5h0.9M253.9 156.1h0.9M276.3 167.4h0.9M272.3 159.1h0.9M268.5 192.1h0.9M270.9 172.5h0.9M268.2 164.6h0.9M264.7 168.3h0.9M281.1 172.7h0.9M263.7 163.5h0.9M290.4 160.9h0.9M273.8 178.2h0.9M278.9 172.2h0.9M274.8 164.5h0.9M264.9 184.3h0.9M269.4 162.9h0.9M269.7 180.2h0.9M263.3 168.9h0.9M268.0 177.2h0.9M262.0 178.6h0.9M258.1 179.6h0.9M270.8 162.4h0.9M275.4 145.5h0.9M269.7 185.8h0.9M264.1 166.7h0.9M279.8 176.2h0.9M260.9 161.6h0.9M253.2 177.8h0.9M259.2 172.7h0.9M285.5 169.1h0.9M263.4 176.7h0.9M264.2 158.8h0.9M267.3 162.8h0.9M252.8 171.0h0.9M262.7 158.5h0.9M272.1 162.0h0.9M280.6 162.0h0.9M288.8 175.6h0.9M282.6 165.5h0.9M267.0 184.2h0.9M267.6 164.7h0.9M272.8 193.6h0.9M267.8 180.4h0.9M259.3 173.0h0.9M269.4 181.2h0.9M284.7 185.6h0.9M267.7 162.0h0.9M263.7 183.5h0.9M283.7 164.8h0.9M272.3 183.4h0.9M266.6 162.6h0.9M270.3 154.8h0.9M278.4 147.7h0.9M270.7 167.5h0.9M266.4 177.6h0.9M276.7 188.5h0.9" stroke="#8a8a8a" stroke-opacity="0.4" stroke-width="0.9" fill="none"/>
<path d="M270.6 172.9h0.9M274.0 170.5h0.9M270.6 171.8h0.9M278.0 178.1h0.9M274.3 174.9h0.9M272.0 181.6h0.9M276.2 173.9h0.9M275.0 174.0h0.9M273.6 172.2h0.9M270.9 173.8h0.9M269.3 178.8h0.9M272.3 178.4h0.9M274.3 180.6h0.9M270.9 177.4h0.9M279.9 175.4h0.9M268.2 180.5h0.9M269.0 177.0h0.9M266.6 176.5h0.9M267.0 174.3h0.9M273.9 169.9h0.9M271.5 172.3h0.9M277.1 180.4h0.9M273.5 177.0h0.9M272.6 174.1h0.9M272.4 179.4h0.9M265.9 174.2h0.9M273.7 173.9h0.9M270.6 172.5h0.9M267.7 182.7h0.9M270.7 177.0h0.9M272.6 172.4h0.9M271.0 180.1h0.9M273.3 176.7h0.9M273.4 174.8h0.9M267.4 174.1h0.9M275.9 179.5h0.9M273.5 179.9h0.9M275.9 175.9h0.9M273.2 176.3h0.9M271.2 172.6h0.9M273.2 175.7h0.9M274.5 184.9h0.9M266.0 176.3h0.9M268.4 178.7h0.9M271.8 178.5h0.9M265.3 173.8h0.9M265.6 181.2h0.9M268.9 177.9h0.9M272.5 175.3h0.9M277.7 173.3h0.9M270.6 173.2h0.9M267.1 178.8h0.9M274.3 178.0h0.9M270.8 175.1h0.9M275.4 175.8h0.9M270.5 185.8h0.9M273.7 180.1h0.9M273.6 175.5h0.9M265.6 177.9h0.9M271.4 176.5h0.9M276.5 181.5h0.9M261.5 181.7h0.9M271.2 181.2h0.9M275.5 179.0h0.9M270.5 176.5h0.9M271.0 175.5h0.9M271.7 178.2h0.9M267.5 177.9h0.9M271.4 174.7h0.9M271.7 173.5h0.9M267.5 172.6h0.9M272.7 174.7h0.9M272.5 173.5h0.9M271.4 179.9h0.9M276.4 173.2h0.9M271.9 171.7h0.9M270.1 178.0h0.9M272.7 178.7h0.9M273.3 179.8h0.9M271.3 177.2h0.9M277.5 171.2h0.9M271.0 172.0h0.9M265.5 178.8h0.9M272.3 183.1h0.9M277.7 172.0h0.9M273.5 180.3h0.9M272.5 183.0h0.9M273.8 176.2h0.9M270.8 174.1h0.9M276.7 174.7h0.9M270.2 178.0h0.9M271.3 175.5h0.9M270.8 186.4h0.9M270.4 175.4h0.9M274.4 177.8h0.9M278.2 177.8h0.9M274.2 171.1h0.9M277.5 175.9h0.9M274.5 176.9h0.9M270.3 175.6h0.9M274.3 176.1h0.9M269.4 180.6h0.9M270.9 170.2h0.9M269.4 171.7h0.9M269.1 180.2h0.9M271.0 174.3h0.9M268.1 171.3h0.9" stroke="#2a2a90" stroke-opacity="0.65" stroke-width="0.9" fill="none"/>
<path d="M268.1 174.1h0.9M277.4 175.4h0.9M277.6 174.5h0.9M268.8 178.0h0.9M271.7 170.8h0.9M263.9 172.0h0.9M269.2 180.6h0.9M272.8 174.3h0.9M269.2 178.6h0.9M274.8 178.5h0.9M277.7 175.5h0.9M266.9 177.3h0.9M269.0 180.7h0.9M273.2 181.1h0.9M269.0 179.7h0.9M268.2 176.9h0.9M274.2 180.1h0.9M263.0 181.0h0.9M269.3 178.8h0.9M271.2 180.8h0.9M279.9 176.1h0.9M276.3 179.8h0.9M274.9 173.5h0.9M271.0 173.3h0.9M271.7 178.7h0.9M271.1 174.7h0.9M274.5 172.2h0.9M278.0 174.6h0.9M278.4 176.6h0.9M267.9 172.0h0.9M275.1 176.8h0.9M277.0 172.4h0.9M268.5 180.0h0.9M273.4 177.0h0.9M271.0 180.5h0.9M280.1 176.5h0.9M271.5 181.3h0.9M268.8 175.5h0.9M271.9 173.5h0.9M270.6 179.9h0.9M267.7 179.5h0.9M267.6 178.3h0.9M273.4 171.1h0.9M277.9 178.0h0.9M276.8 175.1h0.9M275.2 177.8h0.9M272.3 179.2h0.9M271.8 174.6h0.9M278.1 173.0h0.9M270.3 182.4h0.9M276.4 181.7h0.9M270.1 178.4h0.9M261.6 177.5h0.9M272.5 178.3h0.9M276.4 173.4h0.9M277.2 181.9h0.9M272.3 172.2h0.9M271.6 171.9h0.9M271.9 179.8h0.9M272.3 173.0h0.9M274.7 168.1h0.9M275.3 176.5h0.9M278.6 179.3h0.9M269.5 179.8h0.9M265.1 176.4h0.9M272.3 176.9h0.9M273.6 175.3h0.9M268.7 181.9h0.9M269.7 176.8h0.9M275.7 177.8h0.9M266.3 170.2h0.9M271.5 181.8h0.9M274.5 180.9h0.9M269.1 172.5h0.9M276.1 173.9h0.9M272.8 176.7h0.9M265.6 178.8h0.9M271.9 173.9h0.9M276.7 181.9h0.9M273.9 186.6h0.9M275.6 172.2h0.9M274.2 176.1h0.9M271.2 179.8h0.9M267.6 170.1h0.9M269.8 170.3h0.9M280.6 175.3h0.9M274.5 181.8h0.9M269.5 175.2h0.9M275.1 175.7h0.9M277.1 173.6h0.9M276.1 173.3h0.9M272.1 177.6h0.9M270.8 182.5h0.9M275.9 169.7h0.9M275.1 176.0h0.9M272.6 173.6h0.9M274.2 184.7h0.9M275.0 183.0h0.9M272.2 176.0h0.9M272.8 172.9h0.9M267.8 181.0h0.9M271.8 181.9h0.9M273.4 178.1h0.9M272.9 174.2h0.9M271.6 182.5h0.9M270.1 173.6h0.9M268.9 170.4h0.9" stroke="#2a2a90" stroke-opacity="0.65" stroke-width="0.9" fill="none"/>
<path d="M271.3 179.3h0.9M268.4 176.4h0.9M269.8 178.3h0.9M276.0 177.8h0.9M269.4 172.6h0.9M268.6 176.2h0.9M273.3 178.3h0.9M269.4 177.0h0.9M272.6 178.8h0.9M261.7 179.5h0.9M268.5 177.4h0.9M275.2 178.9h0.9M272.8 173.1h0.9M272.7 174.8h0.9M270.5 173.8h0.9M270.3 175.9h0.9M270.7 172.5h0.9M272.1 176.9h0.9M270.5 178.6h0.9M270.1 177.0h0.9M274.3 175.0h0.9M274.5 181.2h0.9M262.8 179.3h0.9M269.0 177.2h0.9M274.5 174.1h0.9M280.0 174.2h0.9M275.4 177.1h0.9M277.2 168.3h0.9M275.6 178.6h0.9M272.4 179.0h0.9M274.7 175.6h0.9M268.0 179.8h0.9M272.7 177.3h0.9M274.6 177.8h0.9M269.7 180.4h0.9M273.2 180.7h0.9M273.3 170.1h0.9M271.0 180.4h0.9M269.7 175.0h0.9M273.6 176.5h0.9M280.1 178.3h0.9M270.8 175.6h0.9M271.2 174.9h0.9M275.7 179.1h0.9M271.5 171.9h0.9M272.9 181.0h0.9M277.0 173.8h0.9M271.5 174.1h0.9M274.1 176.8h0.9M269.6 175.3h0.9M271.5 174.0h0.9M263.3 175.1h0.9M272.5 176.5h0.9M260.6 176.5h0.9M278.9 179.8h0.9M267.7 176.2h0.9M276.4 176.0h0.9M274.4 174.4h0.9M275.0 172.5h0.9M272.3 179.8h0.9M271.0 174.7h0.9M273.3 178.2h0.9M270.0 177.4h0.9M274.6 178.5h0.9M270.4 175.5h0.9M269.8 176.1h0.9M269.0 171.0h0.9M271.4 175.2h0.9M266.8 177.0h0.9M275.9 174.3h0.9M277.7 174.9h0.9M265.7 173.2h0.9M275.2 179.1h0.9M271.1 175.7h0.9M267.4 170.8h0.9M270.6 170.1h0.9M272.1 174.7h0.9M274.8 174.2h0.9M275.7 177.0h0.9M274.4 173.7h0.9M268.1 174.8h0.9M276.9 173.1h0.9M263.6 172.3h0.9M270.4 181.3h0.9M269.0 173.3h0.9M275.0 177.3h0.9M273.1 179.4h0.9M272.0 175.2h0.9M271.6 175.8h0.9M277.5 178.6h0.9M271.2 177.6h0.9M274.8 181.5h0.9M271.5 171.6h0.9M269.7 176.1h0.9M271.2 180.6h0.9M279.6 177.9h0.9M271.4 175.8h0.9M267.8 173.7h0.9M272.5 177.7h0.9M273.6 169.1h0.9M267.8 183.5h0.9M271.2 180.0h0.9M273.5 182.1h0.9M271.6 176.5h0.9M272.9 180.1h0.9M273.6 177.0h0.9" stroke="#2a2a90" stroke-opacity="0.65" stroke-width="0.9" fill="none"/>
<path d="M269.8 173.3h0.9M272.1 178.1h0.9M272.9 175.3h0.9M272.3 177.9h0.9M273.8 172.3h0.9M270.4 178.6h0.9M275.0 179.6h0.9M271.7 179.9h0.9M272.5 175.7h0.9M275.9 175.1h0.9M273.9 174.1h0.9M273.1 178.1h0.9M272.8 174.4h0.9M268.6 179.3h0.9M273.2 174.7h0.9M272.3 174.7h0.9M272.6 173.1h0.9M272.7 173.7h0.9M273.9 177.2h0.9M273.8 176.2h0.9M275.2 176.2h0.9M272.2 175.3h0.9M268.4 175.3h0.9M269.7 177.8h0.9M270.6 173.7h0.9M270.1 177.5h0.9M274.4 179.4h0.9" stroke="#1a1a50" stroke-opacity="0.5" stroke-width="0.9" fill="none"/>
<path d="M273.8 174.1h0.9M273.9 178.6h0.9M275.7 174.1h0.9M272.3 178.7h0.9M272.6 176.3h0.9M271.1 174.1h0.9M272.6 176.6h0.9M270.0 177.0h0.9M267.6 175.9h0.9M274.1 177.0h0.9M269.1 176.1h0.9M272.0 178.1h0.9M270.2 176.8h0.9M277.9 170.6h0.9M272.8 179.7h0.9M270.5 175.5h0.9M270.8 176.0h0.9M271.0 175.9h0.9M268.9 179.3h0.9M272.0 178.3h0.9M271.1 177.0h0.9M271.8 178.3h0.9M272.2 178.3h0.9M272.7 178.1h0.9M270.4 176.9h0.9M267.0 181.9h0.9M271.8 178.8h0.9" stroke="#1a1a50" stroke-opacity="0.5" stroke-width="0.9" fill="none"/>
<path d="M270.5 176.7h0.9M271.2 180.1h0.9M273.2 180.1h0.9M272.6 177.0h0.9M276.9 177.7h0.9M271.3 178.3h0.9M272.5 180.0h0.9M273.9 178.7h0.9M269.9 176.0h0.9M269.3 177.3h0.9M273.8 175.5h0.9M275.1 176.5h0.9M274.0 175.3h0.9M269.4 177.3h0.9M271.3 178.8h0.9M275.3 179.9h0.9M267.3 177.0h0.9M276.5 178.6h0.9M270.4 172.3h0.9M271.4 178.0h0.9M273.6 176.0h0.9M270.0 176.6h0.9M269.5 176.8h0.9M271.5 173.5h0.9M274.6 175.4h0.9M268.2 179.5h0.9" stroke="#1a1a50" stroke-opacity="0.5" stroke-width="0.9" fill="none"/>
<path d="M269.7 167.6h0.9M273.6 153.2h0.9M266.8 150.3h0.9M274.6 158.6h0.9M267.2 163.3h0.9M269.6 167.9h0.9M269.7 159.9h0.9M274.0 152.8h0.9M270.0 163.7h0.9M266.1 156.5h0.9M269.2 167.5h0.9M268.8 160.7h0.9M273.2 160.0h0.9M276.9 156.5h0.9M269.2 154.3h0.9M275.9 159.8h0.9M271.9 165.6h0.9M271.5 171.8h0.9M272.7 161.1h0.9M275.2 152.9h0.9M273.2 161.5h0.9M269.0 156.5h0.9M271.8 151.4h0.9M270.6 163.2h0.9M272.7 155.0h0.9M275.1 156.5h0.9M270.2 154.5h0.9" stroke="#4a4aa0" stroke-opacity="0.4" stroke-width="0.9" fill="none"/>
<path d="M268.5 153.6h0.9M272.1 152.3h0.9M264.8 158.2h0.9M268.5 175.8h0.9M273.5 158.3h0.9M267.7 166.0h0.9M262.4 162.0h0.9M272.4 160.4h0.9M271.3 150.1h0.9M268.9 143.3h0.9M267.0 172.1h0.9M272.3 160.3h0.9M275.1 154.2h0.9M270.0 161.7h0.9M274.0 169.8h0.9M271.7 164.9h0.9M272.7 164.3h0.9M271.2 166.3h0.9M277.0 160.4h0.9M269.6 167.6h0.9M272.7 164.3h0.9M264.9 159.2h0.9M271.3 162.3h0.9M274.6 175.3h0.9M272.3 176.5h0.9M262.1 169.2h0.9M271.8 160.5h0.9" stroke="#4a4aa0" stroke-opacity="0.4" stroke-width="0.9" fill="none"/>
<path d="M272.5 156.4h0.9M270.6 176.9h0.9M277.3 156.5h0.9M275.2 145.5h0.9M272.2 164.3h0.9M274.6 161.6h0.9M265.5 144.1h0.9M264.2 152.9h0.9M269.0 160.8h0.9M277.7 166.9h0.9M269.6 161.1h0.9M267.8 166.0h0.9M276.0 158.8h0.9M275.3 171.4h0.9M273.7 157.4h0.9M268.8 142.2h0.9M271.6 168.2h0.9M268.9 162.4h0.9M275.4 162.8h0.9M267.8 163.1h0.9M270.1 163.3h0.9M264.4 160.2h0.9M269.7 152.8h0.9M263.4 162.7h0.9M271.4 170.8h0.9M277.0 146.1h0.9" stroke="#4a4aa0" stroke-opacity="0.4" stroke-width="0.9" fill="none"/>
<path d="M330.9 178.7h0.9M326.7 183.5h0.9M320.5 181.8h0.9M318.9 180.2h0.9M330.9 178.4h0.9M325.7 177.0h0.9M323.5 185.4h0.9M326.8 188.2h0.9M321.9 177.3h0.9M324.5 182.3h0.9M326.0 176.1h0.9M328.8 179.9h0.9M325.5 172.3h0.9M326.2 186.1h0.9M323.8 177.0h0.9" stroke="#b84848" stroke-opacity="0.45" stroke-width="0.9" fill="none"/>
<path d="M333.5 174.3h0.9M325.4 194.0h0.9M329.5 172.9h0.9M321.6 175.7h0.9M328.7 174.0h0.9M320.7 180.1h0.9M320.5 178.5h0.9M326.9 180.6h0.9M326.2 182.4h0.9M325.5 183.4h0.9M327.4 184.2h0.9M326.9 182.8h0.9M325.3 179.8h0.9M324.8 181.0h0.9M325.7 184.0h0.9" stroke="#b84848" stroke-opacity="0.45" stroke-width="0.9" fill="none"/>
<path d="M327.7 191.6h0.9M330.0 179.6h0.9M325.3 183.2h0.9M328.4 185.5h0.9M322.0 183.2h0.9M334.6 173.0h0.9M327.2 185.5h0.9M328.5 182.4h0.9M322.8 178.2h0.9M328.3 177.4h0.9M323.7 174.0h0.9M328.3 184.7h0.9M325.6 182.6h0.9M325.8 189.4h0.9M327.0 180.3h0.9" stroke="#b84848" stroke-opacity="0.45" stroke-width="0.9" fill="none"/>
<path d="M320.9 171.7h0.9M330.1 186.8h0.9M332.8 179.1h0.9M335.8 178.2h0.9M331.4 185.1h0.9M336.4 181.0h0.9M332.2 183.7h0.9M323.2 182.4h0.9M339.4 179.9h0.9M331.1 183.4h0.9" stroke="#9a9a9a" stroke-opacity="0.4" stroke-width="0.9" fill="none"/>
<path d="M327.0 180.8h0.9M323.6 175.9h0.9M322.0 186.6h0.9M331.7 181.0h0.9M331.9 180.6h0.9M322.4 189.4h0.9M328.5 191.9h0.9M327.2 183.3h0.9M332.4 185.1h0.9M335.1 186.1h0.9" stroke="#9a9a9a" stroke-opacity="0.4" stroke-width="0.9" fill="none"/>
<path d="M336.6 183.8h0.9M326.2 189.4h0.9M333.3 176.6h0.9M326.4 179.0h0.9M323.9 192.7h0.9M328.7 182.3h0.9M318.8 185.2h0.9M329.5 179.5h0.9M324.5 167.5h0.9" stroke="#9a9a9a" stroke-opacity="0.4" stroke-width="0.9" fill="none"/>
<path d="M201.3 273.4h0.9M188.9 264.0h0.9M190.3 271.9h0.9M185.9 271.4h0.9M180.1 254.8h0.9M202.6 279.2h0.9M191.0 274.3h0.9M197.4 269.9h0.9M176.7 270.7h0.9M196.8 290.0h0.9M191.5 272.0h0.9M196.8 263.6h0.9M194.9 268.3h0.9M183.1 271.8h0.9M177.8 265.2h0.9M193.7 262.3h0.9M186.6 268.2h0.9M177.8 268.0h0.9M197.7 277.0h0.9M175.2 268.2h0.9M190.7 287.9h0.9M195.1 262.3h0.9M190.4 268.3h0.9M197.7 262.6h0.9M176.1 258.8h0.9M193.4 268.8h0.9M197.3 263.8h0.9M194.3 262.3h0.9M183.1 260.9h0.9M199.2 280.1h0.9M192.1 268.0h0.9M176.8 261.2h0.9M191.2 280.3h0.9M174.4 265.6h0.9M176.3 281.5h0.9M211.4 275.1h0.9M191.9 286.7h0.9" stroke="#9a9a9a" stroke-opacity="0.32" stroke-width="0.9" fill="none"/>
<path d="M189.5 261.4h0.9M193.1 282.9h0.9M176.8 269.3h0.9M182.9 265.9h0.9M183.2 263.5h0.9M184.6 274.1h0.9M181.9 268.0h0.9M189.6 274.3h0.9M182.4 247.3h0.9M173.3 254.0h0.9M194.2 275.2h0.9M179.8 262.6h0.9M185.3 248.6h0.9M185.4 279.0h0.9M181.9 270.2h0.9M178.3 271.0h0.9M187.0 271.5h0.9M190.1 281.3h0.9M198.8 257.6h0.9M188.4 255.3h0.9M172.5 262.8h0.9M194.1 265.9h0.9M192.4 261.1h0.9M177.3 261.5h0.9M176.0 242.3h0.9M176.3 261.1h0.9M194.1 262.0h0.9M201.3 267.4h0.9M187.0 266.4h0.9M180.6 257.6h0.9M187.6 274.3h0.9M176.2 279.8h0.9M185.6 274.9h0.9M188.5 278.0h0.9M194.7 263.1h0.9M198.7 256.5h0.9" stroke="#9a9a9a" stroke-opacity="0.32" stroke-width="0.9" fill="none"/>
<path d="M210.1 282.7h0.9M192.6 278.3h0.9M188.5 267.2h0.9M178.5 241.3h0.9M178.1 250.2h0.9M160.7 266.6h0.9M169.5 253.9h0.9M195.9 265.9h0.9M197.6 283.5h0.9M176.6 276.2h0.9M182.8 273.8h0.9M184.2 257.1h0.9M180.2 262.1h0.9M170.6 278.0h0.9M192.7 266.3h0.9M193.1 268.6h0.9M184.3 277.1h0.9M187.6 266.2h0.9M194.9 254.2h0.9M190.5 266.4h0.9M193.2 279.2h0.9M183.9 270.5h0.9M181.4 269.9h0.9M191.9 261.2h0.9M174.3 252.8h0.9M185.9 262.1h0.9M170.5 286.3h0.9M183.7 269.4h0.9M202.8 286.2h0.9M186.9 270.6h0.9M191.8 273.8h0.9M194.0 275.4h0.9M187.8 260.5h0.9M185.9 279.9h0.9" stroke="#9a9a9a" stroke-opacity="0.32" stroke-width="0.9" fill="none"/>
<path d="M179.0 284.1h0.9M194.0 278.3h0.9M184.2 278.8h0.9M187.4 284.6h0.9M181.9 280.4h0.9M183.6 284.0h0.9M181.9 278.5h0.9M185.4 272.7h0.9M183.0 277.9h0.9M186.9 285.3h0.9M196.7 278.1h0.9M182.5 280.9h0.9M187.8 281.5h0.9M183.6 276.4h0.9M178.1 273.1h0.9M180.5 274.9h0.9M189.1 278.4h0.9M179.7 291.9h0.9M180.5 279.2h0.9M184.5 275.9h0.9M191.3 277.3h0.9M192.9 279.9h0.9M182.3 279.1h0.9M188.1 284.1h0.9M183.6 278.7h0.9M189.6 278.2h0.9M188.4 279.6h0.9M182.2 286.3h0.9M191.8 275.8h0.9M176.5 280.4h0.9M189.2 279.2h0.9M193.0 278.8h0.9M188.0 276.4h0.9M184.8 271.1h0.9M180.8 275.9h0.9M185.0 279.4h0.9M188.6 281.4h0.9M184.5 279.1h0.9M191.7 281.5h0.9M190.8 275.1h0.9M182.0 283.1h0.9M182.1 284.3h0.9M179.5 272.4h0.9M183.6 275.1h0.9M191.9 276.1h0.9M189.9 275.6h0.9M187.2 280.1h0.9M182.3 278.3h0.9M193.3 277.9h0.9M193.5 284.1h0.9" stroke="#7cb2a4" stroke-opacity="0.45" stroke-width="0.9" fill="none"/>
<path d="M188.6 277.9h0.9M179.8 283.0h0.9M177.5 281.4h0.9M176.3 278.4h0.9M187.7 283.1h0.9M190.8 277.1h0.9M189.8 282.4h0.9M187.3 279.5h0.9M182.0 284.9h0.9M185.7 279.0h0.9M184.5 274.2h0.9M190.6 283.1h0.9M184.5 277.2h0.9M178.9 276.1h0.9M187.1 272.4h0.9M185.2 281.0h0.9M189.2 276.5h0.9M184.5 277.6h0.9M183.3 285.2h0.9M186.5 278.0h0.9M193.4 267.5h0.9M187.2 274.7h0.9M187.0 280.5h0.9M189.4 280.8h0.9M188.3 276.9h0.9M185.3 277.4h0.9M189.3 281.6h0.9M191.6 279.4h0.9M192.4 278.8h0.9M180.0 276.7h0.9M186.8 280.8h0.9M187.5 276.3h0.9M184.3 284.2h0.9M192.5 278.3h0.9M191.1 276.1h0.9M183.7 283.6h0.9M193.5 272.3h0.9M184.4 284.3h0.9M183.8 277.1h0.9M178.6 278.0h0.9M185.4 273.1h0.9M181.4 280.6h0.9M188.2 285.1h0.9M190.3 279.3h0.9M183.6 275.6h0.9M179.4 281.0h0.9M183.3 277.2h0.9M183.9 281.4h0.9M184.6 280.7h0.9M173.6 274.9h0.9" stroke="#7cb2a4" stroke-opacity="0.45" stroke-width="0.9" fill="none"/>
<path d="M184.6 276.6h0.9M185.6 280.6h0.9M182.9 277.4h0.9M188.4 283.4h0.9M183.2 278.2h0.9M185.3 280.0h0.9M182.9 276.2h0.9M179.9 278.0h0.9M181.6 282.3h0.9M186.2 270.9h0.9M185.3 286.0h0.9M184.1 271.5h0.9M193.8 272.2h0.9M182.3 284.4h0.9M176.9 276.4h0.9M183.0 277.9h0.9M188.1 284.5h0.9M185.2 281.0h0.9M178.2 281.8h0.9M186.1 280.1h0.9M194.1 284.2h0.9M191.9 274.1h0.9M180.7 277.6h0.9M184.7 276.7h0.9M195.1 274.8h0.9M192.8 277.8h0.9M193.3 275.9h0.9M184.6 280.1h0.9M184.3 277.4h0.9M181.9 280.1h0.9M193.1 281.5h0.9M188.6 275.4h0.9M186.6 282.4h0.9M183.0 283.1h0.9M191.0 277.8h0.9M190.8 279.4h0.9M190.5 282.9h0.9M180.8 281.6h0.9M176.4 274.7h0.9M179.2 281.0h0.9M182.5 276.3h0.9M183.3 281.6h0.9M179.7 277.7h0.9M179.7 278.2h0.9M186.7 276.7h0.9M171.7 275.1h0.9M186.0 281.4h0.9M195.3 277.6h0.9M181.5 280.8h0.9" stroke="#7cb2a4" stroke-opacity="0.45" stroke-width="0.9" fill="none"/>
<path d="M194.2 266.4h0.9M185.4 274.6h0.9M188.8 270.0h0.9M193.7 266.3h0.9M188.9 262.7h0.9M189.6 268.8h0.9M189.0 263.8h0.9M191.7 274.3h0.9M190.0 270.6h0.9M184.1 271.9h0.9M190.0 269.5h0.9M189.5 268.1h0.9M188.5 269.0h0.9M191.8 269.8h0.9M196.3 259.7h0.9M184.1 267.3h0.9M188.3 255.2h0.9M189.6 257.1h0.9M185.4 266.5h0.9M188.3 259.4h0.9M191.3 265.7h0.9M182.0 260.6h0.9M184.6 263.9h0.9M194.3 254.6h0.9M178.0 257.5h0.9M190.8 274.1h0.9M190.7 271.0h0.9M185.1 269.9h0.9M187.5 268.0h0.9M190.3 262.9h0.9M192.7 273.1h0.9M195.2 267.0h0.9M190.1 263.9h0.9M190.4 263.4h0.9M186.3 260.3h0.9M182.4 261.8h0.9M190.7 277.1h0.9M188.6 262.7h0.9M191.3 268.3h0.9M191.1 264.8h0.9M192.3 258.2h0.9M186.7 265.4h0.9M189.7 275.1h0.9M189.7 272.2h0.9M187.8 258.8h0.9M192.4 259.7h0.9M189.1 261.4h0.9M187.5 269.7h0.9M190.2 266.8h0.9M188.7 258.9h0.9M186.5 267.4h0.9M187.8 264.4h0.9M186.9 260.5h0.9M194.7 268.7h0.9M192.7 272.2h0.9M190.7 269.7h0.9M184.7 273.3h0.9" stroke="#7cb2a4" stroke-opacity="0.45" stroke-width="0.9" fill="none"/>
<path d="M189.6 277.3h0.9M186.9 253.5h0.9M191.7 268.8h0.9M186.7 265.8h0.9M191.5 262.7h0.9M184.8 279.4h0.9M195.9 271.8h0.9M193.0 265.2h0.9M187.4 269.5h0.9M199.1 268.9h0.9M195.0 253.5h0.9M187.5 264.6h0.9M182.4 265.3h0.9M189.8 267.9h0.9M188.3 259.5h0.9M185.2 268.8h0.9M188.5 268.0h0.9M195.0 261.1h0.9M194.9 257.3h0.9M179.8 270.8h0.9M189.6 259.1h0.9M192.8 276.5h0.9M188.0 268.4h0.9M184.3 266.1h0.9M194.4 269.2h0.9M187.2 263.2h0.9M194.8 269.3h0.9M193.0 273.1h0.9M188.8 265.1h0.9M182.8 264.4h0.9M186.8 267.4h0.9M181.0 263.0h0.9M187.7 261.7h0.9M191.0 264.5h0.9M181.5 258.9h0.9M189.0 284.9h0.9M177.8 259.9h0.9M192.1 258.4h0.9M189.6 256.6h0.9M189.6 271.9h0.9M186.7 272.5h0.9M193.1 257.7h0.9M191.0 258.9h0.9M187.8 271.1h0.9M193.7 266.9h0.9M190.1 265.9h0.9M186.0 259.1h0.9M185.5 259.8h0.9M196.0 257.8h0.9M184.1 264.7h0.9M184.9 264.6h0.9M186.9 265.4h0.9M194.1 276.7h0.9M185.7 269.2h0.9M184.8 265.3h0.9M183.5 263.1h0.9M186.3 263.9h0.9" stroke="#7cb2a4" stroke-opacity="0.45" stroke-width="0.9" fill="none"/>
<path d="M190.4 277.2h0.9M185.6 263.6h0.9M186.0 275.3h0.9M188.1 262.5h0.9M190.9 267.8h0.9M186.2 269.9h0.9M187.8 269.0h0.9M187.9 260.1h0.9M189.5 263.7h0.9M184.6 260.7h0.9M196.3 266.9h0.9M193.2 257.1h0.9M195.1 268.0h0.9M185.7 265.0h0.9M186.8 262.1h0.9M196.2 252.8h0.9M189.8 272.4h0.9M188.6 267.8h0.9M182.3 263.7h0.9M190.5 259.2h0.9M188.1 268.6h0.9M191.6 265.7h0.9M188.0 279.0h0.9M192.9 268.2h0.9M199.2 270.3h0.9M184.9 267.4h0.9M193.9 264.8h0.9M188.3 263.6h0.9M190.0 264.5h0.9M196.6 261.8h0.9M179.8 269.1h0.9M186.0 266.6h0.9M191.3 267.1h0.9M190.2 265.2h0.9M190.8 283.2h0.9M188.2 259.9h0.9M194.0 259.9h0.9M190.2 267.2h0.9M187.7 261.0h0.9M188.6 275.0h0.9M187.0 272.4h0.9M189.3 263.6h0.9M192.8 263.6h0.9M189.7 261.2h0.9M192.9 260.1h0.9M186.6 267.7h0.9M194.5 266.8h0.9M190.4 274.4h0.9M201.2 260.2h0.9M198.8 261.0h0.9M192.3 254.4h0.9M181.8 263.7h0.9M192.2 261.4h0.9M186.7 269.1h0.9M189.0 259.5h0.9M184.6 259.2h0.9" stroke="#7cb2a4" stroke-opacity="0.45" stroke-width="0.9" fill="none"/>
<path d="M197.5 259.0h0.9M191.8 252.0h0.9M193.4 253.7h0.9M195.8 255.6h0.9M198.0 248.1h0.9M196.7 252.5h0.9M200.3 257.9h0.9M188.9 257.3h0.9M192.4 251.7h0.9M195.5 255.8h0.9M194.8 255.4h0.9M196.0 254.2h0.9M194.7 251.8h0.9M197.4 268.2h0.9M192.3 253.2h0.9M194.5 252.4h0.9M194.2 258.9h0.9M192.2 254.8h0.9M186.2 249.3h0.9M194.8 250.8h0.9M191.7 251.9h0.9M189.9 251.0h0.9M190.9 251.4h0.9M197.8 256.2h0.9M198.4 263.8h0.9M194.9 247.9h0.9M196.0 249.3h0.9" stroke="#8ab8ac" stroke-opacity="0.4" stroke-width="0.9" fill="none"/>
<path d="M198.9 243.9h0.9M192.0 263.5h0.9M195.8 256.1h0.9M196.1 253.7h0.9M198.9 258.9h0.9M189.8 255.4h0.9M192.4 253.7h0.9M194.0 251.0h0.9M192.0 251.6h0.9M190.0 242.3h0.9M194.7 254.1h0.9M197.4 255.5h0.9M192.7 251.9h0.9M193.6 259.4h0.9M191.4 247.4h0.9M189.8 252.2h0.9M191.2 251.2h0.9M194.4 254.7h0.9M194.5 247.4h0.9M194.5 259.1h0.9M193.7 251.2h0.9M189.7 255.4h0.9M186.2 254.1h0.9M196.2 255.1h0.9M193.1 258.0h0.9M197.8 249.7h0.9M195.6 256.7h0.9" stroke="#8ab8ac" stroke-opacity="0.4" stroke-width="0.9" fill="none"/>
<path d="M196.6 245.5h0.9M193.4 259.7h0.9M195.8 245.6h0.9M195.4 247.7h0.9M193.8 252.6h0.9M189.7 251.8h0.9M191.7 253.9h0.9M191.8 266.8h0.9M198.6 257.3h0.9M199.3 257.5h0.9M193.1 243.2h0.9M193.0 256.9h0.9M193.0 251.8h0.9M187.1 238.3h0.9M191.0 251.5h0.9M199.3 249.7h0.9M204.1 260.0h0.9M195.6 252.5h0.9M192.9 261.3h0.9M188.0 247.9h0.9M194.4 254.4h0.9M194.9 257.2h0.9M188.3 255.7h0.9M195.3 258.6h0.9M197.0 256.1h0.9M191.7 249.9h0.9" stroke="#8ab8ac" stroke-opacity="0.4" stroke-width="0.9" fill="none"/>
<path d="M189.5 267.0h0.9M186.0 262.3h0.9M184.9 266.3h0.9M193.2 254.2h0.9M190.6 261.9h0.9M187.9 271.3h0.9M193.9 268.4h0.9M181.0 267.5h0.9M192.9 262.6h0.9M182.3 244.2h0.9M191.3 276.5h0.9M189.5 240.3h0.9M182.6 266.1h0.9M186.0 258.0h0.9M188.9 269.6h0.9M194.5 268.9h0.9M195.3 261.6h0.9M187.5 270.3h0.9M191.4 277.3h0.9M185.1 268.2h0.9M192.3 270.6h0.9M191.5 266.7h0.9M192.1 271.7h0.9M186.8 265.5h0.9M190.7 253.3h0.9M175.4 278.8h0.9M188.5 269.2h0.9M183.2 259.0h0.9M189.1 260.6h0.9M183.4 276.1h0.9" stroke="#888" stroke-opacity="0.3" stroke-width="0.9" fill="none"/>
<path d="M192.0 281.5h0.9M187.8 268.6h0.9M179.2 252.8h0.9M190.1 283.2h0.9M194.0 264.7h0.9M195.6 255.3h0.9M188.1 274.6h0.9M192.8 258.5h0.9M182.5 275.7h0.9M194.6 278.7h0.9M188.1 265.5h0.9M190.7 265.0h0.9M186.3 274.5h0.9M192.7 268.2h0.9M179.8 268.9h0.9M182.5 266.7h0.9M183.4 277.2h0.9M186.1 286.5h0.9M186.4 271.5h0.9M187.5 266.4h0.9M197.5 277.5h0.9M180.9 271.0h0.9M199.1 263.5h0.9M197.7 257.3h0.9M183.2 279.9h0.9M190.2 260.4h0.9M189.6 276.9h0.9M187.2 266.2h0.9M187.5 262.4h0.9M197.9 283.2h0.9" stroke="#888" stroke-opacity="0.3" stroke-width="0.9" fill="none"/>
<path d="M186.7 260.8h0.9M177.5 282.8h0.9M183.9 272.0h0.9M187.6 278.0h0.9M190.8 266.5h0.9M183.4 270.9h0.9M196.9 262.1h0.9M194.6 278.2h0.9M190.3 276.0h0.9M187.6 269.9h0.9M184.1 278.9h0.9M182.6 265.5h0.9M183.9 254.1h0.9M180.7 262.4h0.9M190.5 278.6h0.9M192.2 262.0h0.9M188.5 272.8h0.9M192.3 268.9h0.9M190.0 265.1h0.9M179.3 270.7h0.9M187.2 264.1h0.9M187.5 268.0h0.9M188.5 272.7h0.9M190.7 254.7h0.9M196.7 271.1h0.9M187.2 258.5h0.9M185.8 250.8h0.9M188.8 281.9h0.9M187.8 275.0h0.9M197.1 270.8h0.9" stroke="#888" stroke-opacity="0.3" stroke-width="0.9" fill="none"/>
<path d="M261.8 284.7h0.9M271.6 274.2h0.9M271.0 282.9h0.9M273.6 280.6h0.9M274.7 280.3h0.9M269.3 281.3h0.9M271.7 273.4h0.9M278.4 278.8h0.9M279.0 276.1h0.9M268.8 280.3h0.9M265.7 284.5h0.9M267.6 274.5h0.9M274.9 277.5h0.9M267.8 276.5h0.9M272.9 275.5h0.9M273.9 277.5h0.9M263.1 280.1h0.9M267.5 278.1h0.9M272.6 283.1h0.9M267.3 276.5h0.9M265.5 274.1h0.9M265.2 277.0h0.9M268.1 275.6h0.9M265.4 278.2h0.9M270.8 282.9h0.9M272.6 273.8h0.9M271.6 279.6h0.9M266.1 274.1h0.9M265.5 280.4h0.9M271.1 279.8h0.9M273.3 279.7h0.9M267.1 276.2h0.9M270.6 284.0h0.9M267.4 278.6h0.9M272.7 277.6h0.9M273.6 276.4h0.9M267.1 275.0h0.9M275.1 277.7h0.9M279.3 278.0h0.9M273.2 277.6h0.9M270.4 275.9h0.9M261.2 274.2h0.9M265.5 282.7h0.9M267.4 282.5h0.9M272.7 275.2h0.9M269.6 281.9h0.9M281.3 278.5h0.9M263.9 281.9h0.9M273.5 283.2h0.9M268.0 279.8h0.9M258.0 278.7h0.9M271.4 280.5h0.9M277.2 277.3h0.9M270.4 284.4h0.9M275.0 279.5h0.9M262.7 280.0h0.9M270.5 280.3h0.9M267.4 278.9h0.9M267.5 281.4h0.9M266.8 281.1h0.9M261.7 283.0h0.9M265.9 280.8h0.9M273.0 272.6h0.9M266.9 276.5h0.9M278.4 276.2h0.9M272.0 281.2h0.9M271.7 286.0h0.9M276.9 278.3h0.9M271.4 277.8h0.9M273.8 279.6h0.9M272.6 277.8h0.9M272.0 278.4h0.9M276.4 277.6h0.9M267.3 277.2h0.9M263.4 278.6h0.9M260.3 280.2h0.9M269.0 276.2h0.9M269.5 276.5h0.9M269.6 277.7h0.9M277.9 281.4h0.9M265.4 277.2h0.9M264.6 277.8h0.9M265.3 279.9h0.9M260.6 287.4h0.9M265.6 276.6h0.9M261.4 277.2h0.9M270.0 283.2h0.9M280.6 283.2h0.9M269.8 275.2h0.9M280.2 278.0h0.9M273.0 281.6h0.9M270.7 270.2h0.9M264.0 279.2h0.9M267.9 278.9h0.9M258.2 281.4h0.9M275.9 284.1h0.9M267.7 276.9h0.9M276.5 281.3h0.9M265.6 278.0h0.9M269.0 278.3h0.9M271.4 276.3h0.9M262.0 277.9h0.9M261.1 279.0h0.9M267.7 276.7h0.9M268.0 277.2h0.9M275.0 274.2h0.9M272.8 280.2h0.9M273.4 280.2h0.9M266.0 273.7h0.9M269.4 280.5h0.9M261.7 276.3h0.9M275.3 282.8h0.9M266.9 279.3h0.9M276.7 279.9h0.9M268.5 281.3h0.9M269.8 275.6h0.9M263.7 279.7h0.9M269.7 278.3h0.9M272.8 275.6h0.9M265.3 279.1h0.9M267.5 281.6h0.9M270.1 281.4h0.9M263.8 279.3h0.9M274.0 277.4h0.9M272.0 279.8h0.9M272.4 280.1h0.9M266.8 275.6h0.9M270.1 280.7h0.9M259.2 281.8h0.9M272.9 278.5h0.9M271.3 274.7h0.9M269.3 281.4h0.9M273.9 281.4h0.9M268.6 277.9h0.9M267.3 272.1h0.9M272.3 273.4h0.9M265.0 280.2h0.9M268.0 282.3h0.9M266.7 281.3h0.9M267.7 280.2h0.9M272.7 276.7h0.9M273.1 280.3h0.9M272.6 277.5h0.9M271.0 278.5h0.9M270.9 279.4h0.9M265.5 281.3h0.9M278.4 272.5h0.9" stroke="#3a3a9a" stroke-opacity="0.5" stroke-width="0.9" fill="none"/>
<path d="M268.2 279.2h0.9M261.6 280.2h0.9M267.1 278.1h0.9M265.2 280.1h0.9M275.3 278.3h0.9M268.8 280.4h0.9M276.8 279.8h0.9M271.0 280.3h0.9M274.2 273.5h0.9M270.5 279.6h0.9M268.8 282.3h0.9M278.8 279.8h0.9M266.2 276.8h0.9M274.9 279.4h0.9M274.2 281.8h0.9M267.5 277.6h0.9M274.3 281.7h0.9M264.2 283.6h0.9M269.9 277.5h0.9M271.5 274.6h0.9M267.3 280.9h0.9M273.4 276.3h0.9M274.2 278.3h0.9M265.0 280.9h0.9M258.3 279.6h0.9M264.9 281.6h0.9M270.8 277.0h0.9M266.8 281.2h0.9M270.0 282.1h0.9M264.1 278.0h0.9M268.0 279.6h0.9M260.7 283.2h0.9M271.9 277.5h0.9M268.7 280.9h0.9M269.9 275.9h0.9M261.0 275.4h0.9M264.8 277.3h0.9M271.7 278.7h0.9M276.7 281.0h0.9M263.3 275.0h0.9M270.4 274.4h0.9M269.0 273.6h0.9M275.7 279.5h0.9M266.1 270.9h0.9M275.4 276.0h0.9M266.3 284.7h0.9M260.8 282.8h0.9M269.0 275.6h0.9M265.7 283.1h0.9M266.6 276.4h0.9M266.8 275.3h0.9M259.1 273.9h0.9M269.3 281.5h0.9M266.8 273.1h0.9M274.5 278.8h0.9M270.5 280.2h0.9M278.3 275.9h0.9M268.4 283.1h0.9M271.1 277.9h0.9M257.9 274.6h0.9M266.9 279.0h0.9M264.7 274.0h0.9M269.2 276.6h0.9M273.6 273.3h0.9M264.3 275.0h0.9M270.4 279.2h0.9M266.9 282.4h0.9M271.8 276.8h0.9M269.7 279.6h0.9M263.5 282.6h0.9M261.7 281.5h0.9M265.7 278.8h0.9M277.6 278.2h0.9M262.0 284.4h0.9M263.6 275.6h0.9M266.1 269.7h0.9M277.3 280.1h0.9M273.6 275.3h0.9M271.7 282.0h0.9M277.9 281.4h0.9M266.7 280.6h0.9M274.1 281.9h0.9M266.4 271.8h0.9M268.1 279.3h0.9M264.1 280.2h0.9M278.7 279.6h0.9M263.0 280.9h0.9M264.5 279.8h0.9M273.4 281.3h0.9M259.6 279.5h0.9M271.5 283.5h0.9M255.4 279.6h0.9M273.8 276.6h0.9M276.0 280.1h0.9M268.5 278.8h0.9M276.3 272.9h0.9M265.6 276.1h0.9M268.6 278.1h0.9M272.7 277.8h0.9M267.3 280.7h0.9M272.4 281.0h0.9M269.2 280.5h0.9M269.0 278.9h0.9M266.4 280.9h0.9M272.0 279.1h0.9M259.7 269.1h0.9M272.7 282.0h0.9M264.9 276.2h0.9M265.9 279.5h0.9M262.7 276.0h0.9M275.7 280.8h0.9M261.8 274.5h0.9M275.9 281.9h0.9M269.8 278.5h0.9M279.7 277.9h0.9M273.3 278.5h0.9M263.5 281.5h0.9M272.8 278.6h0.9M271.9 277.7h0.9M275.8 276.0h0.9M263.6 273.9h0.9M273.8 277.4h0.9M269.7 274.0h0.9M273.4 275.1h0.9M259.3 279.0h0.9M260.8 279.6h0.9M263.6 278.1h0.9M268.5 284.3h0.9M271.9 277.9h0.9M269.7 278.3h0.9M270.6 280.5h0.9M265.3 276.7h0.9M263.8 280.5h0.9M271.8 273.2h0.9M258.3 276.9h0.9M269.6 282.6h0.9M269.1 273.6h0.9M270.3 281.2h0.9M265.7 281.9h0.9M277.4 282.0h0.9M269.5 279.7h0.9M271.5 279.6h0.9M268.7 279.6h0.9M263.1 277.7h0.9M264.2 270.0h0.9M264.8 279.6h0.9M273.3 278.1h0.9" stroke="#3a3a9a" stroke-opacity="0.5" stroke-width="0.9" fill="none"/>
<path d="M266.7 275.6h0.9M266.6 275.9h0.9M271.3 281.4h0.9M268.5 273.3h0.9M272.1 278.3h0.9M268.3 282.3h0.9M266.0 276.6h0.9M265.5 283.9h0.9M266.8 278.7h0.9M267.8 279.4h0.9M269.0 278.0h0.9M269.2 277.1h0.9M276.2 279.5h0.9M266.9 281.2h0.9M267.3 274.4h0.9M267.2 281.1h0.9M272.1 279.3h0.9M267.9 275.4h0.9M263.0 280.5h0.9M272.2 271.1h0.9M262.1 282.7h0.9M275.7 277.9h0.9M266.2 275.6h0.9M268.4 276.6h0.9M273.9 278.9h0.9M268.1 278.7h0.9M267.1 282.5h0.9M277.4 279.0h0.9M271.1 280.8h0.9M276.4 282.5h0.9M267.0 281.8h0.9M264.9 275.9h0.9M271.4 276.0h0.9M271.2 284.2h0.9M265.6 277.5h0.9M262.8 277.9h0.9M270.5 280.4h0.9M263.3 276.6h0.9M276.7 277.9h0.9M270.8 273.6h0.9M272.8 277.8h0.9M270.3 280.0h0.9M270.9 279.9h0.9M268.8 279.8h0.9M271.7 280.7h0.9M271.1 277.2h0.9M276.2 276.8h0.9M266.4 278.7h0.9M261.4 280.7h0.9M270.1 281.9h0.9M262.2 280.1h0.9M265.7 277.2h0.9M276.8 279.6h0.9M265.1 277.6h0.9M268.9 276.8h0.9M266.1 277.2h0.9M273.5 281.2h0.9M281.0 279.5h0.9M272.4 281.1h0.9M267.2 279.0h0.9M268.5 280.8h0.9M271.2 279.0h0.9M267.8 277.3h0.9M260.6 279.6h0.9M263.8 282.3h0.9M265.9 275.6h0.9M265.3 278.6h0.9M277.8 274.8h0.9M275.1 281.2h0.9M276.1 280.0h0.9M265.2 284.3h0.9M263.8 277.4h0.9M270.7 275.7h0.9M271.6 278.3h0.9M267.8 285.1h0.9M261.9 278.1h0.9M265.6 273.5h0.9M274.5 277.1h0.9M266.1 275.8h0.9M269.3 283.5h0.9M264.6 278.0h0.9M267.6 286.3h0.9M262.9 282.3h0.9M274.8 278.6h0.9M266.4 280.1h0.9M268.2 282.1h0.9M263.5 280.6h0.9M270.9 276.3h0.9M267.9 280.6h0.9M266.5 276.1h0.9M265.6 277.2h0.9M267.6 278.7h0.9M271.4 278.0h0.9M272.0 279.0h0.9M266.2 273.8h0.9M271.3 274.9h0.9M266.3 280.9h0.9M267.4 278.4h0.9M264.6 278.1h0.9M268.4 275.4h0.9M271.0 279.4h0.9M263.1 278.0h0.9M276.7 280.8h0.9M273.1 277.0h0.9M265.1 275.8h0.9M278.5 276.9h0.9M266.3 278.5h0.9M261.5 279.3h0.9M269.5 277.8h0.9M273.4 280.8h0.9M267.9 281.6h0.9M266.1 278.4h0.9M273.5 278.5h0.9M259.6 285.1h0.9M262.9 281.6h0.9M263.9 270.8h0.9M279.4 279.5h0.9M273.7 282.9h0.9M270.1 281.5h0.9M267.6 280.7h0.9M270.5 278.1h0.9M266.7 272.6h0.9M272.5 278.4h0.9M259.4 276.1h0.9M271.9 283.6h0.9M258.9 277.6h0.9M271.5 276.5h0.9M267.0 276.3h0.9M270.1 278.1h0.9M264.2 271.8h0.9M277.9 276.2h0.9M270.8 284.8h0.9M274.2 274.7h0.9M272.1 278.5h0.9M271.8 279.8h0.9M260.9 280.5h0.9M263.4 282.4h0.9M266.6 279.2h0.9M276.4 274.8h0.9M269.0 273.3h0.9M261.6 281.7h0.9M261.7 277.0h0.9M269.0 279.3h0.9M273.3 276.5h0.9M268.5 276.2h0.9M269.2 279.1h0.9" stroke="#3a3a9a" stroke-opacity="0.5" stroke-width="0.9" fill="none"/>
<path d="M265.9 256.3h0.9M262.2 260.9h0.9M275.9 257.8h0.9M264.9 252.9h0.9M272.8 269.6h0.9M261.9 251.9h0.9M274.4 254.5h0.9M272.4 239.0h0.9M271.7 261.0h0.9M258.8 271.7h0.9M258.1 261.3h0.9M270.8 260.3h0.9M274.4 259.3h0.9M272.3 263.6h0.9M266.2 251.5h0.9" stroke="#9a9a9a" stroke-opacity="0.3" stroke-width="0.9" fill="none"/>
<path d="M268.4 262.4h0.9M258.1 263.3h0.9M280.8 261.1h0.9M272.4 274.2h0.9M278.6 259.5h0.9M266.8 268.1h0.9M265.0 273.5h0.9M272.5 265.3h0.9M274.4 269.5h0.9M263.6 264.7h0.9M262.5 248.1h0.9M269.5 252.1h0.9M266.8 264.8h0.9M267.5 264.1h0.9M274.8 261.0h0.9" stroke="#9a9a9a" stroke-opacity="0.3" stroke-width="0.9" fill="none"/>
<path d="M260.9 275.9h0.9M270.9 271.2h0.9M280.4 276.6h0.9M271.3 271.3h0.9M256.9 261.0h0.9M253.5 249.2h0.9M277.0 265.1h0.9M257.1 263.6h0.9M268.5 259.9h0.9M280.2 268.6h0.9M261.8 267.0h0.9M262.1 260.6h0.9M279.7 251.3h0.9M252.5 262.3h0.9M265.4 268.4h0.9" stroke="#9a9a9a" stroke-opacity="0.3" stroke-width="0.9" fill="none"/>
<path d="M325.0 277.3h0.9M322.4 275.0h0.9M324.6 277.4h0.9M333.6 281.8h0.9M338.5 280.2h0.9M327.7 277.4h0.9M330.2 282.0h0.9M324.8 281.3h0.9M319.8 280.7h0.9M333.2 277.3h0.9M327.5 281.8h0.9M334.4 280.0h0.9M337.0 277.5h0.9M329.4 278.4h0.9M325.8 280.2h0.9M330.9 276.3h0.9M328.3 276.2h0.9M329.6 278.8h0.9M333.6 278.1h0.9M322.9 281.2h0.9M325.7 277.2h0.9M326.5 273.9h0.9M333.8 277.1h0.9M329.4 281.4h0.9M331.0 274.8h0.9M333.1 281.0h0.9M339.2 280.6h0.9M333.9 281.4h0.9M329.9 278.7h0.9M327.4 283.1h0.9M331.2 275.9h0.9M322.7 276.4h0.9M326.2 279.8h0.9M322.5 278.3h0.9M329.1 282.7h0.9M333.6 284.0h0.9M326.3 277.1h0.9M322.5 278.9h0.9M334.5 279.8h0.9M335.5 282.9h0.9M326.6 280.0h0.9M323.1 281.0h0.9M334.1 281.2h0.9M334.2 272.7h0.9M327.1 280.9h0.9M334.4 279.4h0.9M322.4 276.9h0.9M330.7 279.2h0.9M335.8 284.2h0.9M321.5 281.3h0.9M332.5 281.1h0.9M336.6 278.7h0.9M335.5 278.6h0.9M320.5 277.5h0.9M337.5 277.3h0.9M327.9 281.7h0.9M322.0 277.5h0.9M330.8 282.7h0.9M322.0 278.2h0.9M338.0 280.1h0.9M335.8 281.8h0.9M335.4 280.8h0.9M320.7 276.4h0.9M335.8 289.0h0.9M330.9 285.8h0.9M333.6 282.2h0.9M327.0 273.4h0.9M328.9 285.0h0.9M335.8 280.1h0.9M337.1 280.1h0.9M331.9 277.4h0.9M325.0 282.7h0.9M331.1 279.4h0.9M333.0 286.4h0.9M329.4 276.6h0.9M330.9 282.2h0.9M330.5 282.5h0.9M333.6 278.4h0.9M326.0 275.4h0.9M328.6 275.9h0.9M328.6 279.2h0.9M332.0 284.1h0.9M331.8 274.5h0.9M329.0 279.9h0.9M337.3 284.0h0.9M322.3 280.0h0.9M330.8 281.6h0.9M331.4 282.0h0.9M327.3 278.1h0.9M323.4 277.6h0.9M342.4 279.7h0.9M333.7 275.9h0.9M326.6 278.6h0.9M329.6 280.1h0.9M335.6 280.5h0.9M325.1 278.4h0.9M329.5 274.2h0.9M327.9 279.1h0.9M330.3 278.5h0.9M339.1 277.2h0.9M336.2 281.2h0.9M332.2 280.1h0.9M334.1 279.6h0.9M326.2 283.7h0.9M325.0 275.5h0.9M329.0 281.2h0.9M331.7 279.8h0.9M334.5 280.4h0.9M328.4 280.5h0.9M324.0 278.2h0.9M330.1 283.7h0.9M328.3 277.6h0.9M329.7 277.5h0.9M331.8 281.0h0.9M325.6 276.6h0.9M330.4 279.4h0.9M323.7 281.0h0.9M333.4 281.3h0.9M320.6 276.4h0.9M334.0 278.5h0.9M332.6 279.2h0.9M324.6 280.4h0.9M324.3 273.6h0.9M329.1 279.7h0.9M330.1 276.6h0.9" stroke="#9a4040" stroke-opacity="0.5" stroke-width="0.9" fill="none"/>
<path d="M333.6 282.1h0.9M323.7 279.8h0.9M327.8 283.1h0.9M335.4 280.9h0.9M325.7 287.1h0.9M331.7 276.1h0.9M332.7 280.7h0.9M324.3 277.2h0.9M332.0 281.5h0.9M333.0 276.1h0.9M318.7 283.5h0.9M334.1 278.0h0.9M325.3 279.6h0.9M324.9 275.6h0.9M331.7 280.6h0.9M328.8 281.9h0.9M328.1 275.4h0.9M328.0 280.8h0.9M334.0 283.5h0.9M322.2 279.0h0.9M324.9 279.6h0.9M326.0 273.2h0.9M331.2 277.2h0.9M326.4 278.1h0.9M321.7 278.6h0.9M324.4 285.9h0.9M329.8 274.6h0.9M333.1 280.1h0.9M332.4 281.7h0.9M332.7 285.9h0.9M324.5 278.9h0.9M323.9 284.5h0.9M324.4 279.4h0.9M335.3 275.3h0.9M330.1 285.0h0.9M330.2 277.1h0.9M328.5 282.0h0.9M325.7 274.2h0.9M331.7 277.8h0.9M324.2 278.6h0.9M329.1 280.8h0.9M327.0 280.1h0.9M328.3 278.0h0.9M326.1 277.4h0.9M330.2 278.5h0.9M327.4 278.7h0.9M336.8 278.5h0.9M320.7 280.5h0.9M328.3 278.5h0.9M329.7 286.4h0.9M325.8 282.5h0.9M328.2 284.3h0.9M338.1 282.8h0.9M330.0 279.9h0.9M331.2 280.0h0.9M335.9 280.7h0.9M328.5 281.7h0.9M329.3 280.2h0.9M335.9 278.1h0.9M335.1 275.4h0.9M333.4 281.8h0.9M332.6 280.8h0.9M323.4 275.0h0.9M333.3 278.1h0.9M337.4 283.4h0.9M323.8 277.7h0.9M325.9 279.2h0.9M330.3 273.6h0.9M336.3 280.5h0.9M332.7 291.4h0.9M333.6 279.0h0.9M339.4 282.3h0.9M325.7 273.7h0.9M320.2 280.6h0.9M329.3 280.8h0.9M328.4 281.0h0.9M337.3 279.1h0.9M331.6 275.2h0.9M334.6 278.1h0.9M339.0 273.5h0.9M331.1 280.2h0.9M330.0 273.5h0.9M326.8 283.3h0.9M327.5 278.6h0.9M323.5 286.6h0.9M330.7 277.6h0.9M332.3 272.3h0.9M322.3 284.3h0.9M325.8 282.0h0.9M329.3 280.7h0.9M328.1 272.0h0.9M333.4 280.0h0.9M329.7 280.2h0.9M331.5 277.6h0.9M330.7 277.3h0.9M322.1 279.2h0.9M326.9 280.2h0.9M328.5 281.2h0.9M324.3 283.7h0.9M325.4 278.4h0.9M329.9 281.5h0.9M330.7 276.4h0.9M326.5 278.1h0.9M330.7 278.2h0.9M330.4 280.2h0.9M327.4 275.1h0.9M331.0 279.1h0.9M334.2 274.7h0.9M325.5 278.3h0.9M330.5 275.8h0.9M333.4 277.3h0.9M331.8 282.9h0.9M322.4 284.6h0.9M334.9 279.5h0.9M324.6 279.2h0.9M330.1 273.1h0.9M332.6 284.6h0.9M332.3 277.0h0.9M335.8 274.1h0.9M329.0 283.8h0.9M333.8 281.1h0.9M335.2 283.9h0.9M327.2 281.3h0.9M326.0 284.0h0.9M334.8 282.9h0.9" stroke="#9a4040" stroke-opacity="0.5" stroke-width="0.9" fill="none"/>
<path d="M339.5 278.1h0.9M328.4 277.5h0.9M332.6 283.6h0.9M337.1 282.9h0.9M328.2 281.1h0.9M328.8 283.8h0.9M330.1 281.3h0.9M326.7 275.5h0.9M340.4 280.0h0.9M339.3 276.6h0.9M324.9 280.1h0.9M332.5 272.9h0.9M337.9 277.4h0.9M332.4 281.6h0.9M328.7 279.6h0.9M326.8 283.5h0.9M332.5 274.7h0.9M330.9 277.8h0.9M331.4 282.3h0.9M333.0 271.4h0.9M332.7 276.0h0.9M322.1 280.9h0.9M334.8 284.8h0.9M337.2 284.2h0.9M328.1 279.1h0.9M321.0 279.7h0.9M327.2 274.8h0.9M327.6 283.1h0.9M328.1 280.8h0.9M319.5 283.8h0.9M334.6 279.3h0.9M330.3 279.2h0.9M328.9 277.7h0.9M322.5 282.9h0.9M319.4 270.8h0.9M330.4 273.3h0.9M324.3 284.0h0.9M332.8 285.5h0.9M321.8 280.5h0.9M320.0 279.3h0.9M326.9 279.9h0.9M332.9 279.4h0.9M332.3 277.0h0.9M328.9 276.8h0.9M324.1 281.4h0.9M332.1 282.4h0.9M322.8 273.9h0.9M329.7 279.4h0.9M329.7 276.1h0.9M324.7 282.2h0.9M330.1 282.4h0.9M331.3 281.0h0.9M329.9 275.1h0.9M334.2 281.4h0.9M333.4 281.2h0.9M331.0 281.6h0.9M325.8 283.1h0.9M325.6 278.3h0.9M329.2 278.6h0.9M343.6 282.5h0.9M337.3 277.8h0.9M332.4 281.5h0.9M330.2 276.9h0.9M332.9 278.5h0.9M331.4 278.9h0.9M330.9 284.9h0.9M330.4 278.9h0.9M331.1 276.3h0.9M328.6 279.5h0.9M335.3 283.6h0.9M323.5 280.1h0.9M333.4 280.1h0.9M330.9 274.3h0.9M331.7 282.5h0.9M329.4 283.8h0.9M325.9 277.1h0.9M327.1 278.5h0.9M331.8 285.5h0.9M319.3 277.2h0.9M330.0 279.7h0.9M329.4 281.6h0.9M327.9 282.8h0.9M321.5 278.0h0.9M331.2 277.4h0.9M326.5 280.2h0.9M329.0 275.3h0.9M325.7 278.9h0.9M326.7 280.3h0.9M323.8 278.9h0.9M333.4 280.6h0.9M326.9 278.7h0.9M325.9 284.5h0.9M325.7 281.9h0.9M327.5 280.4h0.9M322.9 279.3h0.9M324.0 275.7h0.9M322.0 281.5h0.9M331.4 281.9h0.9M326.2 279.0h0.9M332.0 276.7h0.9M332.2 284.1h0.9M325.8 277.4h0.9M330.8 275.1h0.9M343.1 289.1h0.9M329.7 280.3h0.9M332.0 282.7h0.9M327.1 280.3h0.9M324.4 284.3h0.9M332.9 282.4h0.9M325.1 277.8h0.9M331.9 275.9h0.9M326.7 283.1h0.9M324.2 281.4h0.9M334.8 279.8h0.9M326.4 277.8h0.9M326.8 274.0h0.9M320.8 281.5h0.9M324.2 277.5h0.9M328.2 278.0h0.9M325.4 282.4h0.9M331.9 279.5h0.9M326.7 280.8h0.9M333.6 274.3h0.9M329.7 277.3h0.9M329.3 275.0h0.9M331.7 282.9h0.9" stroke="#9a4040" stroke-opacity="0.5" stroke-width="0.9" fill="none"/>
<path d="M326.8 273.7h0.9M333.3 276.5h0.9M334.3 288.5h0.9M326.8 277.6h0.9M337.2 272.2h0.9M340.8 275.0h0.9M335.1 275.3h0.9M338.1 273.9h0.9M329.2 283.3h0.9M334.3 288.2h0.9M328.6 271.2h0.9M334.3 286.9h0.9M324.3 282.9h0.9M324.5 275.4h0.9M324.5 275.9h0.9M323.5 279.7h0.9M335.2 279.8h0.9M324.9 291.3h0.9M323.1 277.8h0.9M325.2 279.5h0.9M325.8 286.3h0.9M338.5 282.1h0.9M330.3 287.5h0.9M330.5 275.3h0.9M324.7 275.4h0.9M339.4 274.1h0.9" stroke="#9a9a9a" stroke-opacity="0.35" stroke-width="0.9" fill="none"/>
<path d="M334.8 277.4h0.9M330.3 284.8h0.9M335.4 279.6h0.9M342.1 280.1h0.9M329.0 272.0h0.9M324.1 290.1h0.9M335.2 278.7h0.9M322.1 283.2h0.9M323.2 280.5h0.9M327.2 284.5h0.9M325.1 282.1h0.9M330.0 283.4h0.9M329.2 271.7h0.9M324.6 280.6h0.9M321.5 277.8h0.9M323.9 275.8h0.9M339.7 284.1h0.9M326.0 285.6h0.9M331.1 280.7h0.9M329.7 275.6h0.9M326.8 270.9h0.9M325.0 285.4h0.9M335.4 278.4h0.9M329.0 287.2h0.9M335.5 279.2h0.9M333.4 281.1h0.9" stroke="#9a9a9a" stroke-opacity="0.35" stroke-width="0.9" fill="none"/>
<path d="M323.4 279.7h0.9M334.4 272.6h0.9M332.3 272.5h0.9M324.5 288.1h0.9M336.1 269.2h0.9M333.2 281.7h0.9M333.1 281.2h0.9M343.7 282.7h0.9M320.5 280.6h0.9M337.8 275.1h0.9M318.5 278.6h0.9M326.6 269.1h0.9M328.4 283.2h0.9M337.2 278.9h0.9M328.0 284.2h0.9M337.9 279.5h0.9M323.7 281.7h0.9M324.5 280.6h0.9M322.4 283.7h0.9M329.8 279.7h0.9M333.4 280.9h0.9M337.4 278.2h0.9M332.7 284.5h0.9M321.5 279.8h0.9M327.4 285.4h0.9M331.4 285.0h0.9" stroke="#9a9a9a" stroke-opacity="0.35" stroke-width="0.9" fill="none"/>
<path d="M330.9 275.9h0.9M332.2 255.2h0.9M326.0 266.2h0.9M327.9 272.3h0.9M322.2 264.4h0.9M326.4 249.6h0.9" stroke="#9a9a9a" stroke-opacity="0.3" stroke-width="0.9" fill="none"/>
<path d="M328.7 257.5h0.9M332.0 256.4h0.9M334.4 249.7h0.9M339.2 265.7h0.9M320.0 274.6h0.9M328.9 265.8h0.9" stroke="#9a9a9a" stroke-opacity="0.3" stroke-width="0.9" fill="none"/>
<path d="M333.0 246.5h0.9M333.0 260.2h0.9M322.7 260.0h0.9M336.4 259.6h0.9M331.6 271.0h0.9M328.8 258.1h0.9" stroke="#9a9a9a" stroke-opacity="0.3" stroke-width="0.9" fill="none"/>
</g>
<rect x="159.60" y="39.50" width="57.90" height="39.60" fill="none" stroke="#cc92b0" stroke-width="0.7" />
<line x1="159.60" y1="79.10" x2="217.50" y2="79.10" stroke="#dc98b4" stroke-width="0.85" />
<rect x="242.40" y="39.50" width="57.40" height="39.60" fill="none" stroke="#cc92b0" stroke-width="0.7" />
<line x1="242.40" y1="79.10" x2="299.80" y2="79.10" stroke="#dc98b4" stroke-width="0.85" />
<rect x="320.80" y="39.50" width="58.00" height="39.60" fill="none" stroke="#cc92b0" stroke-width="0.7" />
<line x1="320.80" y1="79.10" x2="378.80" y2="79.10" stroke="#dc98b4" stroke-width="0.85" />
<rect x="161.50" y="133.60" width="57.00" height="39.70" fill="none" stroke="#cc92b0" stroke-width="0.7" />
<line x1="161.50" y1="173.30" x2="218.50" y2="173.30" stroke="#dc98b4" stroke-width="0.85" />
<rect x="243.30" y="133.60" width="58.20" height="39.70" fill="none" stroke="#cc92b0" stroke-width="0.7" />
<line x1="243.30" y1="173.30" x2="301.50" y2="173.30" stroke="#dc98b4" stroke-width="0.85" />
<rect x="320.00" y="133.60" width="63.00" height="39.70" fill="none" stroke="#cc92b0" stroke-width="0.7" />
<line x1="320.00" y1="173.30" x2="383.00" y2="173.30" stroke="#dc98b4" stroke-width="0.85" />
<rect x="159.50" y="231.20" width="57.10" height="39.60" fill="none" stroke="#cc92b0" stroke-width="0.7" />
<line x1="159.50" y1="270.80" x2="216.60" y2="270.80" stroke="#dc98b4" stroke-width="0.85" />
<rect x="243.70" y="231.20" width="57.10" height="39.60" fill="none" stroke="#cc92b0" stroke-width="0.7" />
<line x1="243.70" y1="270.80" x2="300.80" y2="270.80" stroke="#dc98b4" stroke-width="0.85" />
<rect x="320.20" y="231.20" width="64.80" height="39.60" fill="none" stroke="#cc92b0" stroke-width="0.7" />
<line x1="320.20" y1="270.80" x2="385.00" y2="270.80" stroke="#dc98b4" stroke-width="0.85" />
<text x="203.80" y="45.90" font-size="6" fill="#3a7048" font-weight="bold" textLength="11.20" lengthAdjust="spacingAndGlyphs" >54%</text>
<text x="286.80" y="46.40" font-size="6" fill="#2e2e88" font-weight="bold" textLength="11.20" lengthAdjust="spacingAndGlyphs" >21%</text>
<text x="368.80" y="46.90" font-size="6" fill="#a83636" font-weight="bold" textLength="7.90" lengthAdjust="spacingAndGlyphs" >5%</text>
<text x="205.50" y="139.70" font-size="6" fill="#3a7048" font-weight="bold" textLength="12.30" lengthAdjust="spacingAndGlyphs" >49%</text>
<text x="287.50" y="140.20" font-size="6" fill="#2e2e88" font-weight="bold" textLength="11.50" lengthAdjust="spacingAndGlyphs" >22%</text>
<text x="372.50" y="140.90" font-size="6" fill="#a83636" font-weight="bold" textLength="8.00" lengthAdjust="spacingAndGlyphs" >5%</text>
<text x="203.70" y="238.40" font-size="6" fill="#3a7048" font-weight="bold" textLength="10.30" lengthAdjust="spacingAndGlyphs" >51%</text>
<text x="289.00" y="237.20" font-size="6" fill="#2e2e88" font-weight="bold" textLength="11.00" lengthAdjust="spacingAndGlyphs" >12%</text>
<text x="373.40" y="238.40" font-size="6" fill="#a83636" font-weight="bold" textLength="8.60" lengthAdjust="spacingAndGlyphs" >4%</text>
<text x="156.20" y="22.50" font-size="5.6" fill="#3a7a3e" stroke="#3a7a3e" stroke-width="0.25" textLength="13.20" lengthAdjust="spacingAndGlyphs">CD56</text>
<text x="169.60" y="20.70" font-size="5.4" fill="#3a7a3e" stroke="#3a7a3e" stroke-width="0.25" textLength="8.80" lengthAdjust="spacingAndGlyphs">pos</text>
<text x="180.40" y="22.50" font-size="5.6" fill="#3a7a3e" stroke="#3a7a3e" stroke-width="0.25" textLength="2.40" lengthAdjust="spacingAndGlyphs">/</text>
<text x="184.50" y="22.50" font-size="5.6" fill="#3a7a3e" stroke="#3a7a3e" stroke-width="0.25" textLength="21.30" lengthAdjust="spacingAndGlyphs">Siglec-7</text>
<text x="206.20" y="20.70" font-size="5.4" fill="#3a7a3e" stroke="#3a7a3e" stroke-width="0.25" textLength="9.00" lengthAdjust="spacingAndGlyphs">pos</text>
<text x="241.90" y="22.80" font-size="5.6" fill="#30308a" stroke="#30308a" stroke-width="0.25" textLength="13.10" lengthAdjust="spacingAndGlyphs">CD56</text>
<text x="255.20" y="21.00" font-size="5.4" fill="#30308a" stroke="#30308a" stroke-width="0.25" textLength="10.00" lengthAdjust="spacingAndGlyphs">pos</text>
<text x="267.70" y="22.80" font-size="5.6" fill="#30308a" stroke="#30308a" stroke-width="0.25" textLength="1.80" lengthAdjust="spacingAndGlyphs">/</text>
<text x="270.90" y="22.80" font-size="5.6" fill="#30308a" stroke="#30308a" stroke-width="0.25" textLength="20.10" lengthAdjust="spacingAndGlyphs">Siglec-7</text>
<text x="291.20" y="21.00" font-size="5.4" fill="#30308a" stroke="#30308a" stroke-width="0.25" textLength="10.60" lengthAdjust="spacingAndGlyphs">neg</text>
<text x="324.50" y="22.50" font-size="5.6" fill="#9a3a40" stroke="#9a3a40" stroke-width="0.25" textLength="13.90" lengthAdjust="spacingAndGlyphs">CD56</text>
<text x="338.60" y="20.70" font-size="5.4" fill="#9a3a40" stroke="#9a3a40" stroke-width="0.25" textLength="9.80" lengthAdjust="spacingAndGlyphs">neg</text>
<text x="349.90" y="22.50" font-size="5.6" fill="#9a3a40" stroke="#9a3a40" stroke-width="0.25" textLength="1.80" lengthAdjust="spacingAndGlyphs">/</text>
<text x="354.20" y="22.50" font-size="5.6" fill="#9a3a40" stroke="#9a3a40" stroke-width="0.25" textLength="20.80" lengthAdjust="spacingAndGlyphs">Siglec-7</text>
<text x="375.20" y="20.70" font-size="5.4" fill="#9a3a40" stroke="#9a3a40" stroke-width="0.25" textLength="9.40" lengthAdjust="spacingAndGlyphs">neg</text>
<text x="397.30" y="9.30" font-size="11.2" fill="#000" font-weight="bold" >B</text>
<text x="399.30" y="35.30" font-size="5.8" fill="#1a1a1a" stroke="#1a1a1a" stroke-width="0.3" textLength="44.30" lengthAdjust="spacingAndGlyphs">Negative Control</text>
<text x="406.10" y="40.70" font-size="5.6" fill="#1a1a1a" stroke="#1a1a1a" stroke-width="0.3" textLength="37.00" lengthAdjust="spacingAndGlyphs">(without rIL-2)</text>
<text x="418.60" y="53.30" font-size="5.7" fill="#2a7a36" stroke="#2a7a36" stroke-width="0.25" textLength="13.50" lengthAdjust="spacingAndGlyphs">CD56</text>
<text x="432.20" y="51.00" font-size="5.5" fill="#2a7a36" stroke="#2a7a36" stroke-width="0.25" textLength="10.10" lengthAdjust="spacingAndGlyphs">pos</text>
<text x="411.60" y="59.90" font-size="5.7" fill="#2a7a36" stroke="#2a7a36" stroke-width="0.25" textLength="20.50" lengthAdjust="spacingAndGlyphs">Siglec-7</text>
<text x="432.20" y="57.60" font-size="5.5" fill="#2a7a36" stroke="#2a7a36" stroke-width="0.25" textLength="10.10" lengthAdjust="spacingAndGlyphs">pos</text>
<text x="418.60" y="70.60" font-size="5.7" fill="#28288e" stroke="#28288e" stroke-width="0.25" textLength="13.50" lengthAdjust="spacingAndGlyphs">CD56</text>
<text x="432.20" y="68.30" font-size="5.5" fill="#28288e" stroke="#28288e" stroke-width="0.25" textLength="10.10" lengthAdjust="spacingAndGlyphs">pos</text>
<text x="411.60" y="77.20" font-size="5.7" fill="#28288e" stroke="#28288e" stroke-width="0.25" textLength="20.50" lengthAdjust="spacingAndGlyphs">Siglec-7</text>
<text x="432.20" y="74.90" font-size="5.5" fill="#28288e" stroke="#28288e" stroke-width="0.25" textLength="10.10" lengthAdjust="spacingAndGlyphs">neg</text>
<text x="418.60" y="88.30" font-size="5.7" fill="#9a2a30" stroke="#9a2a30" stroke-width="0.25" textLength="13.50" lengthAdjust="spacingAndGlyphs">CD56</text>
<text x="432.20" y="86.00" font-size="5.5" fill="#9a2a30" stroke="#9a2a30" stroke-width="0.25" textLength="10.10" lengthAdjust="spacingAndGlyphs">neg</text>
<text x="411.60" y="94.90" font-size="5.7" fill="#9a2a30" stroke="#9a2a30" stroke-width="0.25" textLength="20.50" lengthAdjust="spacingAndGlyphs">Siglec-7</text>
<text x="432.20" y="92.60" font-size="5.5" fill="#9a2a30" stroke="#9a2a30" stroke-width="0.25" textLength="10.10" lengthAdjust="spacingAndGlyphs">neg</text>
<rect x="447.40" y="47.40" width="36.60" height="12.40" fill="#0b6e12" stroke="none" stroke-width="1" />
<rect x="447.40" y="64.80" width="13.10" height="11.60" fill="#1515d6" stroke="none" stroke-width="1" />
<rect x="447.40" y="82.50" width="4.00" height="11.80" fill="#a01020" stroke="none" stroke-width="1" />
<rect x="448.20" y="29.50" width="1.80" height="12.00" fill="none" stroke="#aaa" stroke-width="0.6" />
<line x1="484.00" y1="53.30" x2="491.30" y2="53.30" stroke="#888" stroke-width="0.8" />
<line x1="491.30" y1="51.10" x2="491.30" y2="55.50" stroke="#888" stroke-width="0.8" />
<line x1="460.50" y1="70.60" x2="462.70" y2="70.60" stroke="#888" stroke-width="0.8" />
<line x1="462.70" y1="68.40" x2="462.70" y2="72.80" stroke="#888" stroke-width="0.8" />
<line x1="451.40" y1="88.40" x2="452.40" y2="88.40" stroke="#888" stroke-width="0.8" />
<line x1="452.40" y1="86.20" x2="452.40" y2="90.60" stroke="#888" stroke-width="0.8" />
<line x1="447.40" y1="26.80" x2="447.40" y2="97.80" stroke="#000" stroke-width="1.2" />
<line x1="446.80" y1="97.20" x2="510.60" y2="97.20" stroke="#000" stroke-width="1.3" />
<line x1="447.40" y1="97.20" x2="447.40" y2="99.00" stroke="#000" stroke-width="0.9" />
<text x="447.40" y="105.10" font-size="5.6" fill="#222" text-anchor="middle" >0</text>
<line x1="459.92" y1="97.20" x2="459.92" y2="99.00" stroke="#000" stroke-width="0.9" />
<text x="459.92" y="105.10" font-size="5.6" fill="#222" text-anchor="middle" >20</text>
<line x1="472.44" y1="97.20" x2="472.44" y2="99.00" stroke="#000" stroke-width="0.9" />
<text x="472.44" y="105.10" font-size="5.6" fill="#222" text-anchor="middle" >40</text>
<line x1="484.96" y1="97.20" x2="484.96" y2="99.00" stroke="#000" stroke-width="0.9" />
<text x="484.96" y="105.10" font-size="5.6" fill="#222" text-anchor="middle" >60</text>
<line x1="497.48" y1="97.20" x2="497.48" y2="99.00" stroke="#000" stroke-width="0.9" />
<text x="497.48" y="105.10" font-size="5.6" fill="#222" text-anchor="middle" >80</text>
<line x1="510.00" y1="97.20" x2="510.00" y2="99.00" stroke="#000" stroke-width="0.9" />
<text x="510.00" y="105.10" font-size="5.6" fill="#222" text-anchor="middle" >100</text>
<line x1="445.60" y1="36.00" x2="447.40" y2="36.00" stroke="#000" stroke-width="1.0" />
<line x1="445.60" y1="53.50" x2="447.40" y2="53.50" stroke="#000" stroke-width="1.0" />
<line x1="445.60" y1="70.80" x2="447.40" y2="70.80" stroke="#000" stroke-width="1.0" />
<line x1="445.60" y1="88.50" x2="447.40" y2="88.50" stroke="#000" stroke-width="1.0" />
<path d="M467.0 69.6H471.0V89.2H467.0" fill="none" stroke="#444" stroke-width="0.9"/>
<path d="M494.0 52.9H498.5V90.4H486.6M486.6 71.2H498.5" fill="none" stroke="#444" stroke-width="0.9"/>
<text x="472.80" y="82.20" font-size="5.1" fill="#222" textLength="20.20" lengthAdjust="spacingAndGlyphs" font-style="italic" >p &lt; .0001</text>
<text x="500.00" y="63.60" font-size="5.1" fill="#222" textLength="19.60" lengthAdjust="spacingAndGlyphs" font-style="italic" >p &lt; .0001</text>
<text x="500.00" y="82.40" font-size="5.1" fill="#222" textLength="19.60" lengthAdjust="spacingAndGlyphs" font-style="italic" >p &lt; .0001</text>
<text x="397.40" y="134.50" font-size="5.8" fill="#1a1a1a" stroke="#1a1a1a" stroke-width="0.3" textLength="44.30" lengthAdjust="spacingAndGlyphs">Negative Control</text>
<text x="404.20" y="139.90" font-size="5.6" fill="#1a1a1a" stroke="#1a1a1a" stroke-width="0.3" textLength="37.00" lengthAdjust="spacingAndGlyphs">(without rIL-2)</text>
<text x="416.70" y="152.00" font-size="5.7" fill="#2a7a36" stroke="#2a7a36" stroke-width="0.25" textLength="13.50" lengthAdjust="spacingAndGlyphs">CD56</text>
<text x="430.30" y="149.70" font-size="5.5" fill="#2a7a36" stroke="#2a7a36" stroke-width="0.25" textLength="10.10" lengthAdjust="spacingAndGlyphs">pos</text>
<text x="409.70" y="158.60" font-size="5.7" fill="#2a7a36" stroke="#2a7a36" stroke-width="0.25" textLength="20.50" lengthAdjust="spacingAndGlyphs">Siglec-7</text>
<text x="430.30" y="156.30" font-size="5.5" fill="#2a7a36" stroke="#2a7a36" stroke-width="0.25" textLength="10.10" lengthAdjust="spacingAndGlyphs">pos</text>
<text x="416.70" y="170.00" font-size="5.7" fill="#28288e" stroke="#28288e" stroke-width="0.25" textLength="13.50" lengthAdjust="spacingAndGlyphs">CD56</text>
<text x="430.30" y="167.70" font-size="5.5" fill="#28288e" stroke="#28288e" stroke-width="0.25" textLength="10.10" lengthAdjust="spacingAndGlyphs">pos</text>
<text x="409.70" y="176.60" font-size="5.7" fill="#28288e" stroke="#28288e" stroke-width="0.25" textLength="20.50" lengthAdjust="spacingAndGlyphs">Siglec-7</text>
<text x="430.30" y="174.30" font-size="5.5" fill="#28288e" stroke="#28288e" stroke-width="0.25" textLength="10.10" lengthAdjust="spacingAndGlyphs">neg</text>
<text x="416.70" y="187.50" font-size="5.7" fill="#9a2a30" stroke="#9a2a30" stroke-width="0.25" textLength="13.50" lengthAdjust="spacingAndGlyphs">CD56</text>
<text x="430.30" y="185.20" font-size="5.5" fill="#9a2a30" stroke="#9a2a30" stroke-width="0.25" textLength="10.10" lengthAdjust="spacingAndGlyphs">neg</text>
<text x="409.70" y="194.10" font-size="5.7" fill="#9a2a30" stroke="#9a2a30" stroke-width="0.25" textLength="20.50" lengthAdjust="spacingAndGlyphs">Siglec-7</text>
<text x="430.30" y="191.80" font-size="5.5" fill="#9a2a30" stroke="#9a2a30" stroke-width="0.25" textLength="10.10" lengthAdjust="spacingAndGlyphs">neg</text>
<rect x="445.50" y="146.20" width="34.50" height="12.10" fill="#0b6e12" stroke="none" stroke-width="1" />
<rect x="445.50" y="164.60" width="13.70" height="11.20" fill="#1515d6" stroke="none" stroke-width="1" />
<rect x="445.50" y="181.70" width="3.10" height="12.00" fill="#a01020" stroke="none" stroke-width="1" />
<rect x="446.00" y="132.60" width="2.00" height="5.20" fill="#9a9a9a" stroke="none" stroke-width="1" />
<line x1="480.00" y1="152.30" x2="485.40" y2="152.30" stroke="#888" stroke-width="0.8" />
<line x1="485.40" y1="150.10" x2="485.40" y2="154.50" stroke="#888" stroke-width="0.8" />
<line x1="459.20" y1="170.20" x2="465.00" y2="170.20" stroke="#888" stroke-width="0.8" />
<line x1="465.00" y1="168.00" x2="465.00" y2="172.40" stroke="#888" stroke-width="0.8" />
<line x1="448.60" y1="187.70" x2="449.60" y2="187.70" stroke="#888" stroke-width="0.8" />
<line x1="449.60" y1="185.50" x2="449.60" y2="189.90" stroke="#888" stroke-width="0.8" />
<line x1="445.50" y1="125.80" x2="445.50" y2="197.90" stroke="#000" stroke-width="1.2" />
<line x1="444.90" y1="197.30" x2="507.60" y2="197.30" stroke="#000" stroke-width="1.3" />
<line x1="445.50" y1="197.30" x2="445.50" y2="199.10" stroke="#000" stroke-width="0.9" />
<text x="445.50" y="204.10" font-size="5.6" fill="#222" text-anchor="middle" >0</text>
<line x1="457.80" y1="197.30" x2="457.80" y2="199.10" stroke="#000" stroke-width="0.9" />
<text x="457.80" y="204.10" font-size="5.6" fill="#222" text-anchor="middle" >20</text>
<line x1="470.10" y1="197.30" x2="470.10" y2="199.10" stroke="#000" stroke-width="0.9" />
<text x="470.10" y="204.10" font-size="5.6" fill="#222" text-anchor="middle" >40</text>
<line x1="482.40" y1="197.30" x2="482.40" y2="199.10" stroke="#000" stroke-width="0.9" />
<text x="482.40" y="204.10" font-size="5.6" fill="#222" text-anchor="middle" >60</text>
<line x1="494.70" y1="197.30" x2="494.70" y2="199.10" stroke="#000" stroke-width="0.9" />
<text x="494.70" y="204.10" font-size="5.6" fill="#222" text-anchor="middle" >80</text>
<line x1="507.00" y1="197.30" x2="507.00" y2="199.10" stroke="#000" stroke-width="0.9" />
<text x="507.00" y="204.10" font-size="5.6" fill="#222" text-anchor="middle" >100</text>
<line x1="443.70" y1="135.20" x2="445.50" y2="135.20" stroke="#000" stroke-width="1.0" />
<line x1="443.70" y1="152.20" x2="445.50" y2="152.20" stroke="#000" stroke-width="1.0" />
<line x1="443.70" y1="170.20" x2="445.50" y2="170.20" stroke="#000" stroke-width="1.0" />
<line x1="443.70" y1="187.70" x2="445.50" y2="187.70" stroke="#000" stroke-width="1.0" />
<path d="M466.7 169.6H471.2V189.0H466.7" fill="none" stroke="#444" stroke-width="0.9"/>
<path d="M491.0 152.9H496.8V190.0H483.8M483.8 171.3H496.8" fill="none" stroke="#444" stroke-width="0.9"/>
<text x="472.30" y="182.30" font-size="5.1" fill="#222" textLength="20.20" lengthAdjust="spacingAndGlyphs" font-style="italic" >p &lt; .0001</text>
<text x="499.40" y="163.60" font-size="5.1" fill="#222" textLength="19.60" lengthAdjust="spacingAndGlyphs" font-style="italic" >p &lt; .0001</text>
<text x="499.40" y="181.80" font-size="5.1" fill="#222" textLength="19.60" lengthAdjust="spacingAndGlyphs" font-style="italic" >p &lt; .0001</text>
<text x="398.20" y="230.60" font-size="5.8" fill="#1a1a1a" stroke="#1a1a1a" stroke-width="0.3" textLength="44.30" lengthAdjust="spacingAndGlyphs">Negative Control</text>
<text x="405.00" y="236.00" font-size="5.6" fill="#1a1a1a" stroke="#1a1a1a" stroke-width="0.3" textLength="37.00" lengthAdjust="spacingAndGlyphs">(without rIL-2)</text>
<text x="417.50" y="249.10" font-size="5.7" fill="#2a7a36" stroke="#2a7a36" stroke-width="0.25" textLength="13.50" lengthAdjust="spacingAndGlyphs">CD56</text>
<text x="431.10" y="246.80" font-size="5.5" fill="#2a7a36" stroke="#2a7a36" stroke-width="0.25" textLength="10.10" lengthAdjust="spacingAndGlyphs">pos</text>
<text x="410.50" y="255.70" font-size="5.7" fill="#2a7a36" stroke="#2a7a36" stroke-width="0.25" textLength="20.50" lengthAdjust="spacingAndGlyphs">Siglec-7</text>
<text x="431.10" y="253.40" font-size="5.5" fill="#2a7a36" stroke="#2a7a36" stroke-width="0.25" textLength="10.10" lengthAdjust="spacingAndGlyphs">pos</text>
<text x="417.50" y="266.50" font-size="5.7" fill="#28288e" stroke="#28288e" stroke-width="0.25" textLength="13.50" lengthAdjust="spacingAndGlyphs">CD56</text>
<text x="431.10" y="264.20" font-size="5.5" fill="#28288e" stroke="#28288e" stroke-width="0.25" textLength="10.10" lengthAdjust="spacingAndGlyphs">pos</text>
<text x="410.50" y="273.10" font-size="5.7" fill="#28288e" stroke="#28288e" stroke-width="0.25" textLength="20.50" lengthAdjust="spacingAndGlyphs">Siglec-7</text>
<text x="431.10" y="270.80" font-size="5.5" fill="#28288e" stroke="#28288e" stroke-width="0.25" textLength="10.10" lengthAdjust="spacingAndGlyphs">neg</text>
<text x="417.50" y="284.10" font-size="5.7" fill="#9a2a30" stroke="#9a2a30" stroke-width="0.25" textLength="13.50" lengthAdjust="spacingAndGlyphs">CD56</text>
<text x="431.10" y="281.80" font-size="5.5" fill="#9a2a30" stroke="#9a2a30" stroke-width="0.25" textLength="10.10" lengthAdjust="spacingAndGlyphs">neg</text>
<text x="410.50" y="290.70" font-size="5.7" fill="#9a2a30" stroke="#9a2a30" stroke-width="0.25" textLength="20.50" lengthAdjust="spacingAndGlyphs">Siglec-7</text>
<text x="431.10" y="288.40" font-size="5.5" fill="#9a2a30" stroke="#9a2a30" stroke-width="0.25" textLength="10.10" lengthAdjust="spacingAndGlyphs">neg</text>
<rect x="446.30" y="243.40" width="35.70" height="11.90" fill="#0b6e12" stroke="none" stroke-width="1" />
<rect x="446.30" y="261.00" width="11.50" height="11.50" fill="#1515d6" stroke="none" stroke-width="1" />
<rect x="446.30" y="278.20" width="3.10" height="12.30" fill="#a01020" stroke="none" stroke-width="1" />
<rect x="446.80" y="228.70" width="2.00" height="5.20" fill="#9a9a9a" stroke="none" stroke-width="1" />
<line x1="482.00" y1="249.40" x2="487.00" y2="249.40" stroke="#888" stroke-width="0.8" />
<line x1="487.00" y1="247.20" x2="487.00" y2="251.60" stroke="#888" stroke-width="0.8" />
<line x1="457.80" y1="266.00" x2="462.30" y2="266.00" stroke="#888" stroke-width="0.8" />
<line x1="462.30" y1="263.80" x2="462.30" y2="268.20" stroke="#888" stroke-width="0.8" />
<line x1="449.40" y1="284.30" x2="451.20" y2="284.30" stroke="#888" stroke-width="0.8" />
<line x1="451.20" y1="282.10" x2="451.20" y2="286.50" stroke="#888" stroke-width="0.8" />
<line x1="446.30" y1="222.90" x2="446.30" y2="294.40" stroke="#000" stroke-width="1.2" />
<line x1="445.70" y1="293.80" x2="507.80" y2="293.80" stroke="#000" stroke-width="1.3" />
<line x1="446.30" y1="293.80" x2="446.30" y2="295.60" stroke="#000" stroke-width="0.9" />
<text x="446.30" y="300.90" font-size="5.6" fill="#222" text-anchor="middle" >0</text>
<line x1="458.48" y1="293.80" x2="458.48" y2="295.60" stroke="#000" stroke-width="0.9" />
<text x="458.48" y="300.90" font-size="5.6" fill="#222" text-anchor="middle" >20</text>
<line x1="470.66" y1="293.80" x2="470.66" y2="295.60" stroke="#000" stroke-width="0.9" />
<text x="470.66" y="300.90" font-size="5.6" fill="#222" text-anchor="middle" >40</text>
<line x1="482.84" y1="293.80" x2="482.84" y2="295.60" stroke="#000" stroke-width="0.9" />
<text x="482.84" y="300.90" font-size="5.6" fill="#222" text-anchor="middle" >60</text>
<line x1="495.02" y1="293.80" x2="495.02" y2="295.60" stroke="#000" stroke-width="0.9" />
<text x="495.02" y="300.90" font-size="5.6" fill="#222" text-anchor="middle" >80</text>
<line x1="507.20" y1="293.80" x2="507.20" y2="295.60" stroke="#000" stroke-width="0.9" />
<text x="507.20" y="300.90" font-size="5.6" fill="#222" text-anchor="middle" >100</text>
<line x1="444.50" y1="231.30" x2="446.30" y2="231.30" stroke="#000" stroke-width="1.0" />
<line x1="444.50" y1="249.30" x2="446.30" y2="249.30" stroke="#000" stroke-width="1.0" />
<line x1="444.50" y1="266.70" x2="446.30" y2="266.70" stroke="#000" stroke-width="1.0" />
<line x1="444.50" y1="284.30" x2="446.30" y2="284.30" stroke="#000" stroke-width="1.0" />
<path d="M464.6 266.6H467.8V285.8H464.6" fill="none" stroke="#444" stroke-width="0.9"/>
<path d="M491.5 249.5H495.9V287.0H483.8M483.8 267.4H495.9" fill="none" stroke="#444" stroke-width="0.9"/>
<text x="469.70" y="278.80" font-size="5.1" fill="#222" textLength="20.20" lengthAdjust="spacingAndGlyphs" font-style="italic" >p &lt; .0001</text>
<text x="497.00" y="260.80" font-size="5.1" fill="#222" textLength="19.60" lengthAdjust="spacingAndGlyphs" font-style="italic" >p &lt; .0001</text>
<text x="497.00" y="278.80" font-size="5.1" fill="#222" textLength="19.60" lengthAdjust="spacingAndGlyphs" font-style="italic" >p &lt; .0001</text>
<text x="447.1" y="309.6" font-size="5.5" fill="#1a1a1a" font-weight="bold" textLength="20.9" lengthAdjust="spacingAndGlyphs">% IFN-γ</text>
<text x="469.2" y="307.1" font-size="5.3" fill="#1a1a1a" font-weight="bold" textLength="9.9" lengthAdjust="spacingAndGlyphs">pos</text>
<text x="480.3" y="309.6" font-size="5.5" fill="#1a1a1a" font-weight="bold" textLength="22.2" lengthAdjust="spacingAndGlyphs">NK Cells</text>
</svg></body></html>
